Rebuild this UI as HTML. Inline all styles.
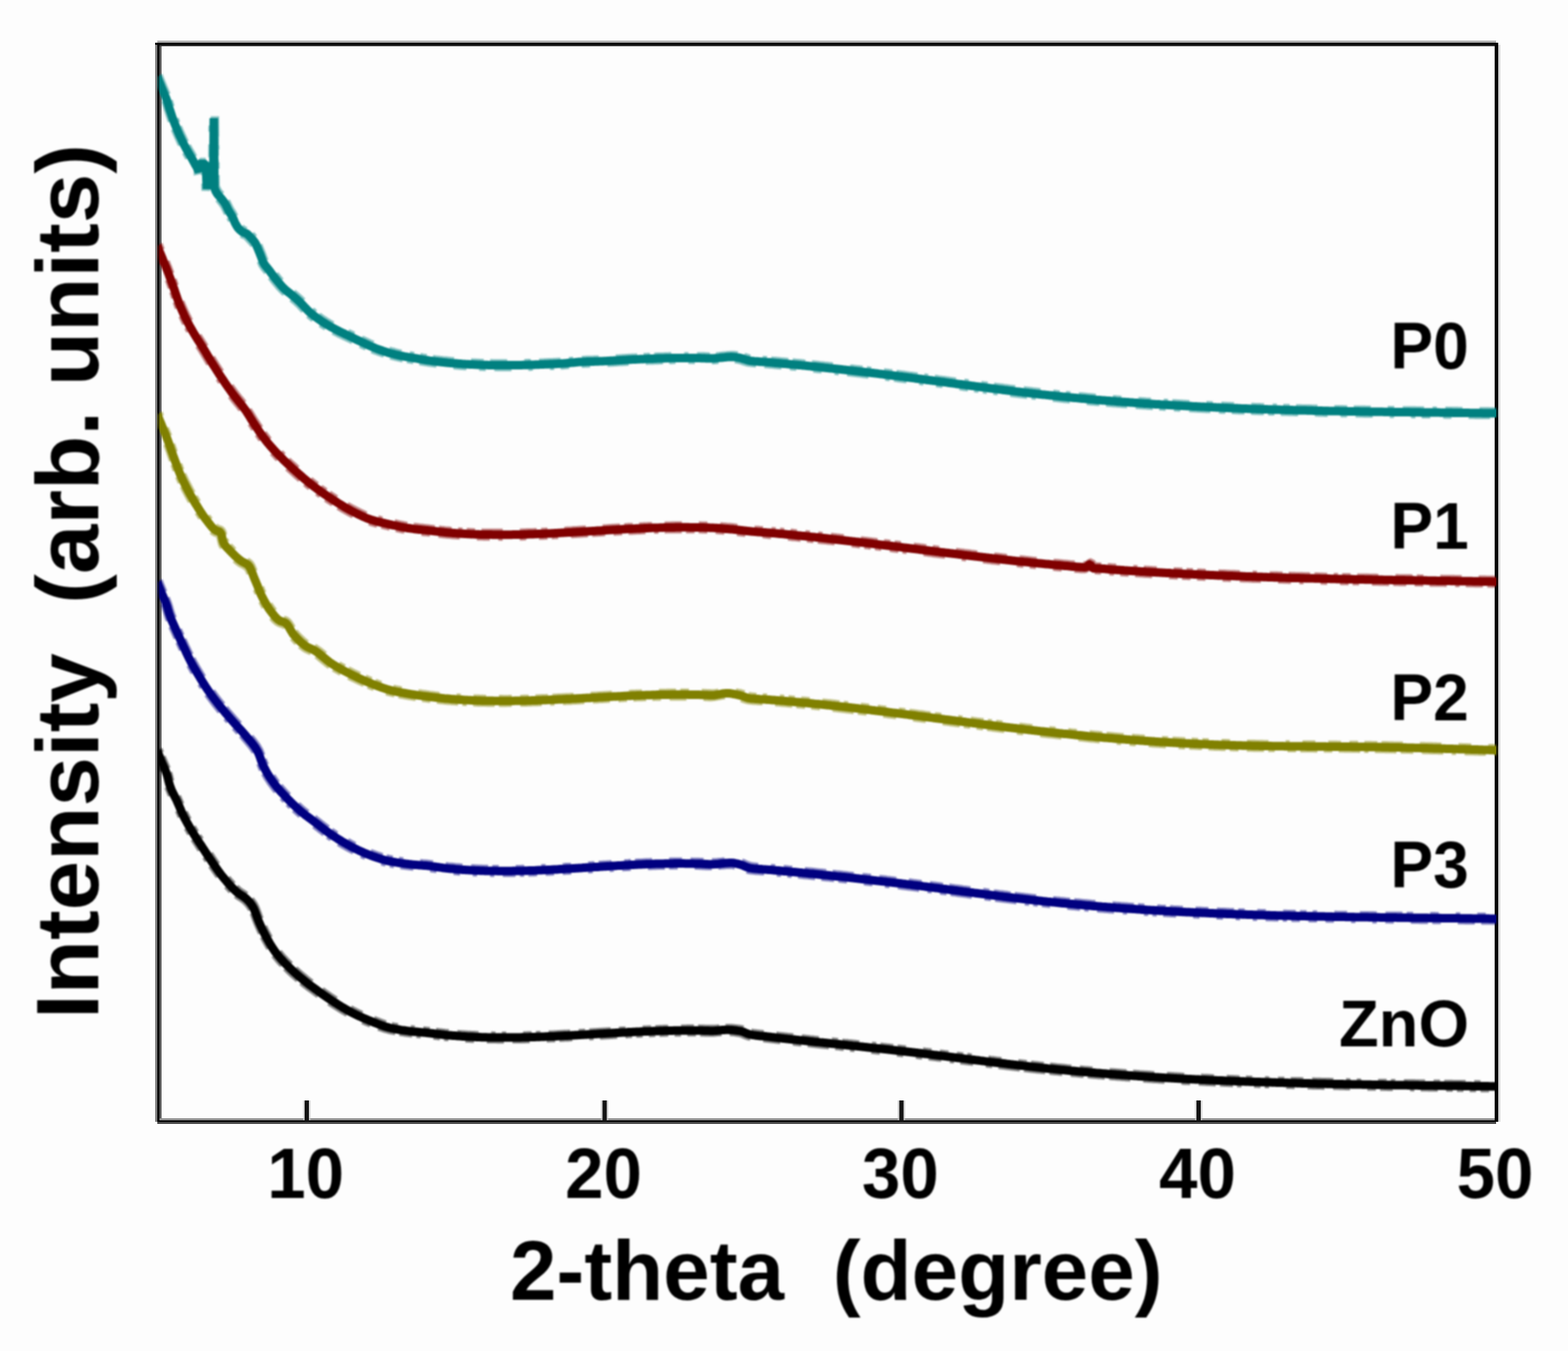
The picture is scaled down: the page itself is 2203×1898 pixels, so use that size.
<!DOCTYPE html>
<html lang="en"><head><meta charset="utf-8"><title>XRD patterns</title>
<style>
html,body{margin:0;padding:0;background:#fdfdfd;}
body{width:2203px;height:1898px;overflow:hidden;}
svg{display:block;}
</style></head><body>
<svg width="2203" height="1898" viewBox="0 0 2203 1898">
<rect x="0" y="0" width="2203" height="1898" fill="#fdfdfd"/>
<defs><filter id="soft" x="-5%" y="-5%" width="110%" height="110%"><feGaussianBlur stdDeviation="0.90"/></filter><filter id="tsoft" x="-2%" y="-2%" width="104%" height="104%"><feGaussianBlur stdDeviation="0.90"/></filter><clipPath id="plotclip"><rect x="221" y="60" width="1884" height="1514"/></clipPath></defs>
<rect x="218" y="60" width="3" height="1516" fill="#808080"/>
<rect x="221" y="60" width="3" height="1518" fill="#000"/>
<rect x="224" y="63" width="3" height="1511" fill="#5c5c5c"/>
<rect x="221" y="57" width="1881" height="3" fill="#b0b0b0"/>
<rect x="218" y="60" width="1887" height="3" fill="#000"/>
<rect x="224" y="63" width="1878" height="2" fill="#303030"/>
<rect x="2100" y="60" width="5" height="1516" fill="#0a0a0a"/>
<rect x="2105" y="63" width="3" height="1513" fill="#d8d8d8"/>
<rect x="2098" y="65" width="2" height="1506" fill="#f0f0f0"/>
<rect x="224" y="1571" width="1876" height="3" fill="#909090"/>
<rect x="221" y="1574" width="1881" height="2" fill="#000"/>
<rect x="221" y="1576" width="1881" height="3" fill="#484848"/>
<rect x="425.8" y="1546" width="10.5" height="28" fill="#c8c8c8" opacity="0.7"/>
<rect x="428.0" y="1546" width="6" height="29" fill="#141414"/>
<rect x="844.2" y="1546" width="10.5" height="28" fill="#c8c8c8" opacity="0.7"/>
<rect x="846.5" y="1546" width="6" height="29" fill="#141414"/>
<rect x="1261.2" y="1546" width="10.5" height="28" fill="#c8c8c8" opacity="0.7"/>
<rect x="1263.5" y="1546" width="6" height="29" fill="#141414"/>
<rect x="1678.8" y="1546" width="10.5" height="28" fill="#c8c8c8" opacity="0.7"/>
<rect x="1681.0" y="1546" width="6" height="29" fill="#141414"/>
<g clip-path="url(#plotclip)" fill="none" stroke-linejoin="bevel" stroke-linecap="butt" filter="url(#soft)">
<path d="M222.6 1052.5L223.4 1054.5L224.2 1056.6L225.0 1058.6L225.9 1060.7L226.7 1062.7L227.5 1064.7L228.4 1066.8L229.2 1068.8L230.1 1070.8L230.9 1072.8L231.8 1074.8L232.7 1076.8L233.6 1078.9L234.4 1081.0L235.2 1083.1L235.9 1085.2L236.6 1087.5L237.2 1089.7L237.8 1091.9L238.3 1094.1L238.8 1096.2L239.3 1098.3L239.9 1100.2L240.6 1102.2L241.3 1104.1L242.1 1106.1L243.0 1108.1L243.9 1110.0L244.8 1112.0L245.8 1113.9L246.8 1115.9L247.8 1117.8L248.8 1119.8L249.8 1121.8L250.7 1123.9L251.6 1125.9L252.4 1128.0L253.3 1130.0L254.2 1132.0L255.0 1134.0L255.9 1136.0L256.8 1138.0L257.7 1140.0L258.6 1142.0L259.5 1143.9L260.5 1145.9L261.5 1147.8L262.5 1149.7L263.6 1151.7L264.6 1153.6L265.7 1155.5L266.8 1157.4L267.9 1159.3L269.0 1161.1L270.1 1163.0L271.2 1164.9L272.4 1166.8L273.5 1168.7L274.7 1170.5L275.8 1172.4L277.0 1174.2L278.2 1176.1L279.4 1177.9L280.6 1179.7L281.8 1181.6L283.0 1183.4L284.2 1185.3L285.4 1187.1L286.6 1189.0L287.8 1190.8L289.0 1192.6L290.2 1194.5L291.4 1196.3L292.6 1198.1L293.8 1200.0L295.1 1201.8L296.3 1203.6L297.5 1205.4L298.8 1207.3L300.0 1209.1L301.2 1210.9L302.5 1212.7L303.7 1214.5L305.0 1216.3L306.2 1218.1L307.5 1219.9L308.8 1221.7L310.1 1223.4L311.4 1225.2L312.7 1226.9L314.1 1228.6L315.4 1230.3L316.8 1232.0L318.2 1233.7L319.6 1235.4L321.1 1237.0L322.5 1238.7L324.0 1240.3L325.4 1241.9L326.9 1243.5L328.4 1245.1L330.0 1246.6L331.6 1248.1L333.2 1249.6L334.8 1251.0L336.5 1252.3L338.3 1253.6L340.1 1254.8L342.0 1255.9L343.8 1257.2L345.6 1258.5L347.4 1259.9L349.0 1261.5L350.6 1263.1L352.1 1264.8L353.5 1266.5L354.9 1268.4L356.1 1270.2L357.3 1272.2L358.4 1274.3L359.3 1276.5L360.1 1278.6L360.9 1280.7L361.6 1282.8L362.4 1284.8L363.1 1286.9L363.9 1288.9L364.7 1290.9L365.5 1292.9L366.4 1294.9L367.3 1296.9L368.2 1298.9L369.1 1300.9L370.0 1302.8L370.9 1304.8L371.9 1306.8L372.9 1308.7L373.8 1310.7L374.9 1312.6L375.9 1314.5L376.9 1316.4L378.0 1318.3L379.1 1320.2L380.2 1322.1L381.3 1324.0L382.4 1325.9L383.6 1327.7L384.8 1329.5L386.0 1331.3L387.2 1333.1L388.5 1334.9L389.8 1336.6L391.1 1338.3L392.5 1340.0L393.9 1341.7L395.3 1343.4L396.7 1345.0L398.2 1346.6L399.7 1348.2L401.2 1349.8L402.7 1351.4L404.3 1352.9L405.8 1354.5L407.4 1356.0L408.9 1357.6L410.5 1359.1L412.1 1360.6L413.7 1362.1L415.4 1363.6L417.0 1365.0L418.6 1366.5L420.3 1367.9L422.0 1369.3L423.6 1370.7L425.3 1372.1L427.0 1373.5L428.7 1374.9L430.4 1376.3L432.1 1377.7L433.9 1379.0L435.6 1380.3L437.4 1381.7L439.1 1382.9L440.9 1384.2L442.7 1385.5L444.5 1386.8L446.3 1388.1L448.0 1389.4L449.8 1390.7L451.6 1392.0L453.4 1393.2L455.2 1394.5L457.0 1395.8L458.8 1397.0L460.6 1398.3L462.4 1399.5L464.2 1400.8L466.1 1402.0L467.9 1403.2L469.7 1404.4L471.6 1405.6L473.4 1406.7L475.3 1407.9L477.1 1409.1L479.0 1410.3L480.9 1411.4L482.8 1412.6L484.6 1413.7L486.5 1414.8L488.4 1415.9L490.3 1417.0L492.3 1418.0L494.2 1419.1L496.1 1420.1L498.1 1421.1L500.1 1422.1L502.0 1423.0L504.0 1424.0L506.0 1424.9L508.0 1425.8L510.0 1426.7L512.0 1427.6L514.0 1428.5L516.0 1429.3L518.1 1430.2L520.1 1431.0L522.1 1431.8L524.2 1432.6L526.2 1433.5L528.3 1434.3L530.3 1435.1L532.4 1435.9L534.4 1436.7L536.5 1437.5L538.5 1438.2L540.6 1438.9L542.7 1439.6L544.8 1440.3L546.9 1440.8L549.0 1441.4L551.2 1441.9L553.3 1442.3L555.5 1442.7L557.6 1443.2L559.8 1443.5L562.0 1443.9L564.1 1444.3L566.3 1444.6L568.5 1444.9L570.7 1445.2L572.8 1445.5L575.0 1445.8L577.2 1446.1L579.4 1446.3L581.6 1446.6L583.8 1446.8L585.9 1447.0L588.1 1447.2L590.3 1447.4L592.5 1447.6L594.7 1447.8L596.9 1448.0L599.1 1448.2L601.3 1448.4L603.5 1448.7L605.7 1448.9L607.8 1449.1L610.0 1449.4L612.2 1449.7L614.4 1449.9L616.6 1450.2L618.8 1450.4L621.0 1450.7L623.1 1450.9L625.3 1451.2L627.5 1451.4L629.7 1451.6L631.9 1451.8L634.1 1452.0L636.3 1452.2L638.5 1452.4L640.7 1452.5L642.9 1452.7L645.0 1452.9L647.2 1453.0L649.4 1453.2L651.6 1453.3L653.8 1453.4L656.0 1453.6L658.2 1453.7L660.4 1453.8L662.6 1453.9L664.8 1454.0L667.0 1454.1L669.2 1454.2L671.4 1454.3L673.6 1454.4L675.8 1454.5L678.0 1454.6L680.2 1454.6L682.4 1454.7L684.6 1454.7L686.8 1454.8L689.0 1454.8L691.2 1454.8L693.4 1454.9L695.6 1454.9L697.8 1454.9L700.0 1454.9L702.2 1455.0L704.4 1455.0L706.6 1455.0L708.8 1455.0L711.0 1455.0L713.2 1455.0L715.4 1455.0L717.6 1455.0L719.8 1455.0L722.0 1454.9L724.2 1454.9L726.4 1454.9L728.6 1454.8L730.8 1454.8L733.0 1454.8L735.2 1454.7L737.4 1454.7L739.6 1454.7L741.8 1454.6L744.0 1454.6L746.2 1454.5L748.4 1454.4L750.6 1454.4L752.8 1454.3L755.0 1454.2L757.2 1454.1L759.4 1454.1L761.6 1454.0L763.8 1453.9L766.0 1453.8L768.2 1453.7L770.4 1453.6L772.6 1453.5L774.8 1453.5L777.0 1453.4L779.2 1453.3L781.4 1453.2L783.6 1453.1L785.8 1452.9L788.0 1452.8L790.2 1452.7L792.4 1452.6L794.6 1452.5L796.7 1452.4L798.9 1452.3L801.1 1452.2L803.3 1452.1L805.5 1451.9L807.7 1451.8L809.9 1451.7L812.1 1451.6L814.3 1451.5L816.5 1451.3L818.7 1451.2L820.9 1451.1L823.1 1451.0L825.3 1450.9L827.5 1450.7L829.7 1450.6L831.9 1450.5L834.1 1450.3L836.3 1450.2L838.5 1450.1L840.7 1450.0L842.9 1449.8L845.1 1449.7L847.3 1449.6L849.5 1449.5L851.7 1449.3L853.9 1449.2L856.1 1449.1L858.3 1449.0L860.4 1448.8L862.6 1448.7L864.8 1448.6L867.0 1448.5L869.2 1448.4L871.4 1448.2L873.6 1448.1L875.8 1448.0L878.0 1447.9L880.2 1447.8L882.4 1447.7L884.6 1447.5L886.8 1447.4L889.0 1447.3L891.2 1447.2L893.4 1447.1L895.6 1447.0L897.8 1446.9L900.0 1446.8L902.2 1446.7L904.4 1446.6L906.6 1446.5L908.8 1446.4L911.0 1446.3L913.2 1446.3L915.4 1446.2L917.6 1446.1L919.8 1446.0L922.0 1445.9L924.2 1445.9L926.4 1445.8L928.6 1445.7L930.8 1445.7L933.0 1445.6L935.2 1445.5L937.4 1445.5L939.6 1445.4L941.8 1445.4L944.0 1445.3L946.2 1445.3L948.4 1445.2L950.6 1445.2L952.8 1445.2L955.0 1445.2L957.2 1445.2L959.4 1445.2L961.6 1445.2L963.8 1445.2L966.0 1445.1L968.2 1445.1L970.4 1445.1L972.6 1445.1L974.8 1445.1L977.0 1445.1L979.2 1445.1L981.4 1445.1L983.6 1445.2L985.8 1445.2L988.0 1445.2L990.2 1445.3L992.4 1445.4L994.6 1445.5L996.8 1445.5L999.0 1445.6L1001.2 1445.6L1003.4 1445.6L1005.6 1445.5L1007.8 1445.3L1010.0 1445.1L1012.1 1444.9L1014.3 1444.7L1016.5 1444.5L1018.7 1444.4L1020.9 1444.2L1023.1 1444.2L1025.3 1444.2L1027.5 1444.3L1029.7 1444.5L1031.9 1444.7L1034.1 1444.9L1036.3 1445.2L1038.5 1445.5L1040.6 1445.8L1042.8 1446.1L1045.0 1446.8L1047.0 1447.6L1049.1 1448.5L1051.1 1449.4L1053.1 1450.1L1055.2 1450.7L1057.3 1451.1L1059.5 1451.5L1061.7 1451.8L1063.8 1452.1L1066.0 1452.3L1068.2 1452.6L1070.4 1452.8L1072.6 1453.0L1074.8 1453.2L1077.0 1453.4L1079.2 1453.7L1081.3 1453.9L1083.5 1454.1L1085.7 1454.4L1087.9 1454.6L1090.1 1454.9L1092.3 1455.1L1094.5 1455.4L1096.6 1455.6L1098.8 1455.9L1101.0 1456.1L1103.2 1456.4L1105.4 1456.6L1107.6 1456.9L1109.8 1457.1L1112.0 1457.3L1114.1 1457.6L1116.3 1457.8L1118.5 1458.0L1120.7 1458.3L1122.9 1458.5L1125.1 1458.8L1127.3 1459.0L1129.5 1459.2L1131.6 1459.5L1133.8 1459.7L1136.0 1459.9L1138.2 1460.2L1140.4 1460.4L1142.6 1460.6L1144.8 1460.9L1147.0 1461.1L1149.1 1461.3L1151.3 1461.5L1153.5 1461.8L1155.7 1462.0L1157.9 1462.2L1160.1 1462.5L1162.3 1462.7L1164.5 1462.9L1166.6 1463.1L1168.8 1463.4L1171.0 1463.6L1173.2 1463.8L1175.4 1464.0L1177.6 1464.3L1179.8 1464.5L1182.0 1464.7L1184.2 1465.0L1186.3 1465.2L1188.5 1465.4L1190.7 1465.6L1192.9 1465.9L1195.1 1466.1L1197.3 1466.3L1199.5 1466.6L1201.7 1466.8L1203.8 1467.0L1206.0 1467.2L1208.2 1467.5L1210.4 1467.7L1212.6 1467.9L1214.8 1468.2L1217.0 1468.4L1219.2 1468.6L1221.3 1468.9L1223.5 1469.1L1225.7 1469.3L1227.9 1469.6L1230.1 1469.8L1232.3 1470.0L1234.5 1470.3L1236.7 1470.5L1238.8 1470.7L1241.0 1471.0L1243.2 1471.2L1245.4 1471.5L1247.6 1471.7L1249.8 1471.9L1252.0 1472.2L1254.2 1472.4L1256.3 1472.7L1258.5 1472.9L1260.7 1473.2L1262.9 1473.4L1265.1 1473.6L1267.3 1473.9L1269.5 1474.1L1271.6 1474.4L1273.8 1474.7L1276.0 1474.9L1278.2 1475.2L1280.4 1475.4L1282.6 1475.7L1284.8 1475.9L1286.9 1476.2L1289.1 1476.4L1291.3 1476.7L1293.5 1477.0L1295.7 1477.2L1297.9 1477.5L1300.0 1477.8L1302.2 1478.0L1304.4 1478.3L1306.6 1478.5L1308.8 1478.8L1311.0 1479.1L1313.1 1479.4L1315.3 1479.6L1317.5 1479.9L1319.7 1480.2L1321.9 1480.4L1324.1 1480.7L1326.3 1481.0L1328.4 1481.2L1330.6 1481.5L1332.8 1481.8L1335.0 1482.0L1337.2 1482.3L1339.4 1482.6L1341.5 1482.9L1343.7 1483.1L1345.9 1483.4L1348.1 1483.7L1350.3 1484.0L1352.4 1484.2L1354.6 1484.5L1356.8 1484.8L1359.0 1485.0L1361.2 1485.3L1363.4 1485.6L1365.5 1485.9L1367.7 1486.1L1369.9 1486.4L1372.1 1486.7L1374.3 1486.9L1376.5 1487.2L1378.6 1487.5L1380.8 1487.8L1383.0 1488.0L1385.2 1488.3L1387.4 1488.6L1389.6 1488.8L1391.7 1489.1L1393.9 1489.4L1396.1 1489.6L1398.3 1489.9L1400.5 1490.2L1402.7 1490.4L1404.9 1490.7L1407.0 1491.0L1409.2 1491.2L1411.4 1491.5L1413.6 1491.7L1415.8 1492.0L1418.0 1492.3L1420.1 1492.5L1422.3 1492.8L1424.5 1493.0L1426.7 1493.3L1428.9 1493.5L1431.1 1493.8L1433.3 1494.0L1435.4 1494.3L1437.6 1494.5L1439.8 1494.8L1442.0 1495.0L1444.2 1495.3L1446.4 1495.5L1448.6 1495.8L1450.7 1496.0L1452.9 1496.3L1455.1 1496.5L1457.3 1496.7L1459.5 1497.0L1461.7 1497.2L1463.9 1497.4L1466.1 1497.7L1468.2 1497.9L1470.4 1498.1L1472.6 1498.4L1474.8 1498.6L1477.0 1498.8L1479.2 1499.0L1481.4 1499.2L1483.6 1499.5L1485.7 1499.7L1487.9 1499.9L1490.1 1500.1L1492.3 1500.3L1494.5 1500.5L1496.7 1500.7L1498.9 1501.0L1501.1 1501.2L1503.3 1501.4L1505.5 1501.6L1507.6 1501.8L1509.8 1502.0L1512.0 1502.2L1514.2 1502.4L1516.4 1502.6L1518.6 1502.8L1520.8 1503.0L1523.0 1503.2L1525.2 1503.4L1527.4 1503.5L1529.6 1503.7L1531.8 1503.9L1533.9 1504.1L1536.1 1504.3L1538.3 1504.5L1540.5 1504.7L1542.7 1504.8L1544.9 1505.0L1547.1 1505.2L1549.3 1505.4L1551.5 1505.6L1553.7 1505.7L1555.9 1505.9L1558.1 1506.1L1560.3 1506.3L1562.4 1506.4L1564.6 1506.6L1566.8 1506.7L1569.0 1506.9L1571.2 1507.1L1573.4 1507.2L1575.6 1507.4L1577.8 1507.6L1580.0 1507.7L1582.2 1507.9L1584.4 1508.0L1586.6 1508.2L1588.8 1508.3L1591.0 1508.5L1593.2 1508.7L1595.4 1508.8L1597.6 1509.0L1599.8 1509.1L1601.9 1509.3L1604.1 1509.4L1606.3 1509.6L1608.5 1509.7L1610.7 1509.8L1612.9 1510.0L1615.1 1510.1L1617.3 1510.3L1619.5 1510.4L1621.7 1510.5L1623.9 1510.7L1626.1 1510.8L1628.3 1510.9L1630.5 1511.1L1632.7 1511.2L1634.9 1511.3L1637.1 1511.5L1639.3 1511.6L1641.5 1511.7L1643.7 1511.8L1645.9 1512.0L1648.1 1512.1L1650.3 1512.2L1652.5 1512.3L1654.6 1512.5L1656.8 1512.6L1659.0 1512.7L1661.2 1512.8L1663.4 1512.9L1665.6 1513.1L1667.8 1513.2L1670.0 1513.3L1672.2 1513.4L1674.4 1513.5L1676.6 1513.6L1678.8 1513.7L1681.0 1513.8L1683.2 1513.9L1685.4 1514.0L1687.6 1514.1L1689.8 1514.3L1692.0 1514.4L1694.2 1514.5L1696.4 1514.6L1698.6 1514.7L1700.8 1514.8L1703.0 1514.9L1705.2 1515.0L1707.4 1515.1L1709.6 1515.2L1711.8 1515.3L1714.0 1515.4L1716.2 1515.4L1718.4 1515.5L1720.6 1515.6L1722.8 1515.7L1725.0 1515.8L1727.2 1515.9L1729.4 1516.0L1731.6 1516.1L1733.8 1516.2L1736.0 1516.2L1738.2 1516.3L1740.4 1516.4L1742.6 1516.5L1744.8 1516.6L1747.0 1516.7L1749.1 1516.7L1751.3 1516.8L1753.5 1516.9L1755.7 1517.0L1757.9 1517.1L1760.1 1517.1L1762.3 1517.2L1764.5 1517.3L1766.7 1517.4L1768.9 1517.4L1771.1 1517.5L1773.3 1517.6L1775.5 1517.7L1777.7 1517.7L1779.9 1517.8L1782.1 1517.9L1784.3 1517.9L1786.5 1518.0L1788.7 1518.1L1790.9 1518.2L1793.1 1518.2L1795.3 1518.3L1797.5 1518.4L1799.7 1518.4L1801.9 1518.5L1804.1 1518.5L1806.3 1518.6L1808.5 1518.7L1810.7 1518.7L1812.9 1518.8L1815.1 1518.9L1817.3 1518.9L1819.5 1519.0L1821.7 1519.0L1823.9 1519.1L1826.1 1519.1L1828.3 1519.2L1830.5 1519.3L1832.7 1519.3L1834.9 1519.4L1837.1 1519.4L1839.3 1519.5L1841.5 1519.5L1843.7 1519.6L1845.9 1519.6L1848.1 1519.7L1850.3 1519.7L1852.5 1519.8L1854.7 1519.8L1856.9 1519.9L1859.1 1519.9L1861.3 1520.0L1863.5 1520.0L1865.7 1520.1L1867.9 1520.1L1870.1 1520.2L1872.3 1520.2L1874.5 1520.3L1876.7 1520.3L1878.9 1520.4L1881.1 1520.4L1883.3 1520.4L1885.5 1520.5L1887.7 1520.5L1889.9 1520.6L1892.1 1520.6L1894.3 1520.7L1896.5 1520.7L1898.7 1520.7L1900.9 1520.8L1903.1 1520.8L1905.3 1520.9L1907.5 1520.9L1909.7 1520.9L1911.9 1521.0L1914.1 1521.0L1916.3 1521.1L1918.5 1521.1L1920.7 1521.1L1922.9 1521.2L1925.1 1521.2L1927.3 1521.2L1929.5 1521.3L1931.7 1521.3L1933.9 1521.4L1936.1 1521.4L1938.3 1521.4L1940.5 1521.5L1942.7 1521.5L1944.9 1521.5L1947.1 1521.6L1949.3 1521.6L1951.5 1521.6L1953.7 1521.7L1955.9 1521.7L1958.1 1521.7L1960.3 1521.8L1962.5 1521.8L1964.7 1521.8L1966.9 1521.9L1969.1 1521.9L1971.3 1521.9L1973.5 1522.0L1975.7 1522.0L1977.9 1522.0L1980.1 1522.1L1982.3 1522.1L1984.5 1522.1L1986.7 1522.1L1988.9 1522.2L1991.1 1522.2L1993.3 1522.2L1995.5 1522.3L1997.7 1522.3L1999.9 1522.3L2002.1 1522.4L2004.3 1522.4L2006.5 1522.4L2008.7 1522.4L2010.9 1522.5L2013.1 1522.5L2015.3 1522.5L2017.5 1522.6L2019.7 1522.6L2021.9 1522.6L2024.1 1522.6L2026.3 1522.7L2028.5 1522.7L2030.7 1522.7L2032.9 1522.8L2035.1 1522.8L2037.3 1522.8L2039.5 1522.8L2041.7 1522.9L2043.9 1522.9L2046.1 1522.9L2048.3 1523.0L2050.5 1523.0L2052.7 1523.0L2054.9 1523.0L2057.1 1523.1L2059.3 1523.1L2061.5 1523.1L2063.7 1523.2L2065.9 1523.2L2068.1 1523.2L2070.3 1523.3L2072.5 1523.3L2074.7 1523.3L2076.9 1523.3L2079.1 1523.4L2081.3 1523.4L2083.5 1523.4L2085.7 1523.5L2087.9 1523.5L2090.1 1523.5L2092.3 1523.5L2094.5 1523.6L2096.7 1523.6L2098.9 1523.6L2101.1 1523.7L2103.3 1523.7L2105.5 1523.7L2107.7 1523.8L2109.9 1523.8L2111.6 1523.8" stroke="#000000" stroke-width="12.0" stroke-opacity="0.45" stroke-dasharray="6 6 18 6 12 24 12 12 12 12 9 6 6 24 18 24 12 6 18 9 30 12 18 24 24 9 30 18 24 24 18 18 18 9 9 18 6 12 9 9 18 12 30 18 6 9 6 24 12 6 6 12 30 12 9 6 30 12 9 24 12 6 18 18 18 6 30 9 24 12 18 18 24 12 24 18 9 6 24 18"/>
<path d="M219.4 1057.7L220.3 1059.7L221.1 1061.8L221.9 1063.8L222.8 1065.9L223.6 1067.9L224.4 1069.9L225.2 1072.0L226.1 1074.0L226.9 1076.0L227.8 1078.0L228.7 1080.0L229.6 1082.0L230.4 1084.1L231.3 1086.2L232.1 1088.3L232.8 1090.4L233.5 1092.7L234.1 1094.9L234.7 1097.1L235.2 1099.3L235.7 1101.4L236.2 1103.5L236.8 1105.4L237.4 1107.4L238.2 1109.3L239.0 1111.3L239.8 1113.3L240.7 1115.2L241.7 1117.2L242.7 1119.1L243.7 1121.1L244.7 1123.0L245.7 1125.0L246.6 1127.0L247.6 1129.1L248.5 1131.1L249.3 1133.2L250.2 1135.2L251.1 1137.2L251.9 1139.2L252.8 1141.2L253.7 1143.2L254.5 1145.2L255.5 1147.2L256.4 1149.1L257.4 1151.1L258.4 1153.0L259.4 1154.9L260.5 1156.9L261.5 1158.8L262.6 1160.7L263.7 1162.6L264.8 1164.5L265.9 1166.3L267.0 1168.2L268.1 1170.1L269.3 1172.0L270.4 1173.9L271.6 1175.7L272.7 1177.6L273.9 1179.4L275.1 1181.3L276.3 1183.1L277.5 1184.9L278.7 1186.8L279.9 1188.6L281.1 1190.5L282.3 1192.3L283.5 1194.2L284.7 1196.0L285.9 1197.8L287.1 1199.7L288.3 1201.5L289.5 1203.3L290.7 1205.2L291.9 1207.0L293.2 1208.8L294.4 1210.6L295.6 1212.5L296.9 1214.3L298.1 1216.1L299.4 1217.9L300.6 1219.7L301.9 1221.5L303.1 1223.3L304.4 1225.1L305.7 1226.9L306.9 1228.6L308.3 1230.4L309.6 1232.1L310.9 1233.8L312.3 1235.5L313.7 1237.2L315.1 1238.9L316.5 1240.6L318.0 1242.2L319.4 1243.9L320.8 1245.5L322.3 1247.1L323.8 1248.7L325.3 1250.3L326.9 1251.8L328.4 1253.3L330.0 1254.8L331.7 1256.2L333.4 1257.5L335.2 1258.8L337.0 1260.0L338.9 1261.1L340.7 1262.4L342.5 1263.7L344.3 1265.1L345.9 1266.7L347.5 1268.3L349.0 1270.0L350.4 1271.7L351.7 1273.6L353.0 1275.4L354.2 1277.4L355.2 1279.5L356.2 1281.7L357.0 1283.8L357.8 1285.9L358.5 1288.0L359.3 1290.0L360.0 1292.1L360.8 1294.1L361.6 1296.1L362.4 1298.1L363.3 1300.1L364.2 1302.1L365.1 1304.1L366.0 1306.1L366.9 1308.0L367.8 1310.0L368.8 1312.0L369.7 1313.9L370.7 1315.9L371.7 1317.8L372.8 1319.7L373.8 1321.6L374.9 1323.5L376.0 1325.4L377.1 1327.3L378.2 1329.2L379.3 1331.1L380.5 1332.9L381.6 1334.7L382.9 1336.5L384.1 1338.3L385.4 1340.1L386.7 1341.8L388.0 1343.5L389.4 1345.2L390.8 1346.9L392.2 1348.6L393.6 1350.2L395.1 1351.8L396.6 1353.4L398.1 1355.0L399.6 1356.6L401.1 1358.1L402.7 1359.7L404.3 1361.2L405.8 1362.8L407.4 1364.3L409.0 1365.8L410.6 1367.3L412.2 1368.8L413.9 1370.2L415.5 1371.7L417.2 1373.1L418.8 1374.5L420.5 1375.9L422.2 1377.3L423.9 1378.7L425.6 1380.1L427.3 1381.5L429.0 1382.9L430.7 1384.2L432.5 1385.5L434.2 1386.9L436.0 1388.1L437.8 1389.4L439.6 1390.7L441.4 1392.0L443.1 1393.3L444.9 1394.6L446.7 1395.9L448.5 1397.2L450.3 1398.4L452.1 1399.7L453.9 1401.0L455.7 1402.2L457.5 1403.5L459.3 1404.7L461.1 1406.0L462.9 1407.2L464.8 1408.4L466.6 1409.6L468.5 1410.8L470.3 1411.9L472.2 1413.1L474.0 1414.3L475.9 1415.5L477.8 1416.6L479.6 1417.8L481.5 1418.9L483.4 1420.0L485.3 1421.1L487.2 1422.2L489.1 1423.2L491.1 1424.3L493.0 1425.3L495.0 1426.3L496.9 1427.3L498.9 1428.2L500.9 1429.2L502.9 1430.1L504.9 1431.0L506.9 1431.9L508.9 1432.8L510.9 1433.7L512.9 1434.5L515.0 1435.4L517.0 1436.2L519.0 1437.0L521.1 1437.8L523.1 1438.7L525.2 1439.5L527.2 1440.3L529.2 1441.1L531.3 1441.9L533.3 1442.7L535.4 1443.4L537.5 1444.1L539.6 1444.8L541.7 1445.5L543.8 1446.0L545.9 1446.6L548.0 1447.1L550.2 1447.5L552.4 1447.9L554.5 1448.4L556.7 1448.7L558.8 1449.1L561.0 1449.5L563.2 1449.8L565.4 1450.1L567.5 1450.4L569.7 1450.7L571.9 1451.0L574.1 1451.3L576.3 1451.5L578.4 1451.8L580.6 1452.0L582.8 1452.2L585.0 1452.4L587.2 1452.6L589.4 1452.8L591.6 1453.0L593.8 1453.2L596.0 1453.4L598.2 1453.6L600.3 1453.9L602.5 1454.1L604.7 1454.3L606.9 1454.6L609.1 1454.9L611.3 1455.1L613.5 1455.4L615.6 1455.6L617.8 1455.9L620.0 1456.1L622.2 1456.4L624.4 1456.6L626.6 1456.8L628.8 1457.0L631.0 1457.2L633.2 1457.4L635.3 1457.6L637.5 1457.7L639.7 1457.9L641.9 1458.1L644.1 1458.2L646.3 1458.4L648.5 1458.5L650.7 1458.6L652.9 1458.8L655.1 1458.9L657.3 1459.0L659.5 1459.1L661.7 1459.2L663.9 1459.3L666.1 1459.4L668.3 1459.5L670.5 1459.6L672.7 1459.7L674.9 1459.8L677.1 1459.8L679.3 1459.9L681.5 1459.9L683.7 1460.0L685.9 1460.0L688.1 1460.0L690.3 1460.1L692.5 1460.1L694.7 1460.1L696.9 1460.1L699.1 1460.2L701.3 1460.2L703.5 1460.2L705.7 1460.2L707.9 1460.2L710.1 1460.2L712.3 1460.2L714.5 1460.2L716.7 1460.2L718.9 1460.1L721.1 1460.1L723.3 1460.1L725.5 1460.0L727.7 1460.0L729.9 1460.0L732.1 1459.9L734.3 1459.9L736.5 1459.9L738.7 1459.8L740.9 1459.8L743.1 1459.7L745.3 1459.6L747.5 1459.6L749.7 1459.5L751.9 1459.4L754.1 1459.3L756.3 1459.3L758.5 1459.2L760.7 1459.1L762.9 1459.0L765.1 1458.9L767.3 1458.8L769.5 1458.7L771.7 1458.7L773.9 1458.6L776.0 1458.5L778.2 1458.4L780.4 1458.3L782.6 1458.1L784.8 1458.0L787.0 1457.9L789.2 1457.8L791.4 1457.7L793.6 1457.6L795.8 1457.5L798.0 1457.4L800.2 1457.3L802.4 1457.1L804.6 1457.0L806.8 1456.9L809.0 1456.8L811.2 1456.7L813.4 1456.5L815.6 1456.4L817.8 1456.3L820.0 1456.2L822.2 1456.1L824.4 1455.9L826.6 1455.8L828.8 1455.7L831.0 1455.5L833.2 1455.4L835.4 1455.3L837.6 1455.2L839.8 1455.0L842.0 1454.9L844.2 1454.8L846.3 1454.7L848.5 1454.5L850.7 1454.4L852.9 1454.3L855.1 1454.2L857.3 1454.0L859.5 1453.9L861.7 1453.8L863.9 1453.7L866.1 1453.6L868.3 1453.4L870.5 1453.3L872.7 1453.2L874.9 1453.1L877.1 1453.0L879.3 1452.9L881.5 1452.7L883.7 1452.6L885.9 1452.5L888.1 1452.4L890.3 1452.3L892.5 1452.2L894.7 1452.1L896.9 1452.0L899.1 1451.9L901.3 1451.8L903.5 1451.7L905.7 1451.6L907.9 1451.5L910.1 1451.5L912.3 1451.4L914.5 1451.3L916.7 1451.2L918.9 1451.1L921.1 1451.1L923.3 1451.0L925.5 1450.9L927.7 1450.9L929.9 1450.8L932.1 1450.7L934.3 1450.7L936.5 1450.6L938.6 1450.6L940.8 1450.5L943.0 1450.5L945.2 1450.4L947.4 1450.4L949.6 1450.4L951.8 1450.4L954.0 1450.4L956.2 1450.4L958.4 1450.4L960.6 1450.4L962.8 1450.3L965.0 1450.3L967.2 1450.3L969.4 1450.3L971.6 1450.3L973.8 1450.3L976.0 1450.3L978.2 1450.3L980.4 1450.4L982.6 1450.4L984.8 1450.4L987.0 1450.5L989.2 1450.6L991.4 1450.7L993.6 1450.7L995.8 1450.8L998.0 1450.8L1000.2 1450.8L1002.4 1450.7L1004.6 1450.5L1006.8 1450.3L1009.0 1450.1L1011.2 1449.9L1013.4 1449.7L1015.6 1449.6L1017.8 1449.4L1020.0 1449.4L1022.2 1449.4L1024.4 1449.5L1026.6 1449.7L1028.8 1449.9L1031.0 1450.1L1033.2 1450.4L1035.3 1450.7L1037.5 1451.0L1039.7 1451.3L1041.8 1452.0L1043.9 1452.8L1045.9 1453.7L1047.9 1454.6L1050.0 1455.3L1052.0 1455.9L1054.2 1456.3L1056.4 1456.7L1058.5 1457.0L1060.7 1457.3L1062.9 1457.5L1065.1 1457.8L1067.3 1458.0L1069.5 1458.2L1071.7 1458.4L1073.8 1458.6L1076.0 1458.9L1078.2 1459.1L1080.4 1459.3L1082.6 1459.6L1084.8 1459.8L1087.0 1460.1L1089.2 1460.3L1091.3 1460.6L1093.5 1460.8L1095.7 1461.1L1097.9 1461.3L1100.1 1461.6L1102.3 1461.8L1104.5 1462.1L1106.6 1462.3L1108.8 1462.5L1111.0 1462.8L1113.2 1463.0L1115.4 1463.2L1117.6 1463.5L1119.8 1463.7L1122.0 1464.0L1124.1 1464.2L1126.3 1464.4L1128.5 1464.7L1130.7 1464.9L1132.9 1465.1L1135.1 1465.4L1137.3 1465.6L1139.5 1465.8L1141.6 1466.1L1143.8 1466.3L1146.0 1466.5L1148.2 1466.7L1150.4 1467.0L1152.6 1467.2L1154.8 1467.4L1157.0 1467.7L1159.1 1467.9L1161.3 1468.1L1163.5 1468.3L1165.7 1468.6L1167.9 1468.8L1170.1 1469.0L1172.3 1469.2L1174.5 1469.5L1176.7 1469.7L1178.8 1469.9L1181.0 1470.2L1183.2 1470.4L1185.4 1470.6L1187.6 1470.8L1189.8 1471.1L1192.0 1471.3L1194.2 1471.5L1196.3 1471.8L1198.5 1472.0L1200.7 1472.2L1202.9 1472.4L1205.1 1472.7L1207.3 1472.9L1209.5 1473.1L1211.7 1473.4L1213.9 1473.6L1216.0 1473.8L1218.2 1474.1L1220.4 1474.3L1222.6 1474.5L1224.8 1474.8L1227.0 1475.0L1229.2 1475.2L1231.4 1475.5L1233.5 1475.7L1235.7 1475.9L1237.9 1476.2L1240.1 1476.4L1242.3 1476.7L1244.5 1476.9L1246.7 1477.1L1248.8 1477.4L1251.0 1477.6L1253.2 1477.9L1255.4 1478.1L1257.6 1478.4L1259.8 1478.6L1262.0 1478.8L1264.2 1479.1L1266.3 1479.3L1268.5 1479.6L1270.7 1479.9L1272.9 1480.1L1275.1 1480.4L1277.3 1480.6L1279.4 1480.9L1281.6 1481.1L1283.8 1481.4L1286.0 1481.6L1288.2 1481.9L1290.4 1482.2L1292.6 1482.4L1294.7 1482.7L1296.9 1483.0L1299.1 1483.2L1301.3 1483.5L1303.5 1483.7L1305.7 1484.0L1307.8 1484.3L1310.0 1484.6L1312.2 1484.8L1314.4 1485.1L1316.6 1485.4L1318.8 1485.6L1320.9 1485.9L1323.1 1486.2L1325.3 1486.4L1327.5 1486.7L1329.7 1487.0L1331.9 1487.2L1334.0 1487.5L1336.2 1487.8L1338.4 1488.1L1340.6 1488.3L1342.8 1488.6L1345.0 1488.9L1347.1 1489.2L1349.3 1489.4L1351.5 1489.7L1353.7 1490.0L1355.9 1490.2L1358.1 1490.5L1360.2 1490.8L1362.4 1491.1L1364.6 1491.3L1366.8 1491.6L1369.0 1491.9L1371.2 1492.1L1373.3 1492.4L1375.5 1492.7L1377.7 1493.0L1379.9 1493.2L1382.1 1493.5L1384.3 1493.8L1386.4 1494.0L1388.6 1494.3L1390.8 1494.6L1393.0 1494.8L1395.2 1495.1L1397.4 1495.4L1399.5 1495.6L1401.7 1495.9L1403.9 1496.2L1406.1 1496.4L1408.3 1496.7L1410.5 1496.9L1412.7 1497.2L1414.8 1497.5L1417.0 1497.7L1419.2 1498.0L1421.4 1498.2L1423.6 1498.5L1425.8 1498.7L1427.9 1499.0L1430.1 1499.2L1432.3 1499.5L1434.5 1499.7L1436.7 1500.0L1438.9 1500.2L1441.1 1500.5L1443.2 1500.7L1445.4 1501.0L1447.6 1501.2L1449.8 1501.5L1452.0 1501.7L1454.2 1501.9L1456.4 1502.2L1458.6 1502.4L1460.7 1502.6L1462.9 1502.9L1465.1 1503.1L1467.3 1503.3L1469.5 1503.6L1471.7 1503.8L1473.9 1504.0L1476.1 1504.2L1478.3 1504.4L1480.4 1504.7L1482.6 1504.9L1484.8 1505.1L1487.0 1505.3L1489.2 1505.5L1491.4 1505.7L1493.6 1505.9L1495.8 1506.2L1498.0 1506.4L1500.1 1506.6L1502.3 1506.8L1504.5 1507.0L1506.7 1507.2L1508.9 1507.4L1511.1 1507.6L1513.3 1507.8L1515.5 1508.0L1517.7 1508.2L1519.9 1508.4L1522.1 1508.6L1524.2 1508.7L1526.4 1508.9L1528.6 1509.1L1530.8 1509.3L1533.0 1509.5L1535.2 1509.7L1537.4 1509.9L1539.6 1510.0L1541.8 1510.2L1544.0 1510.4L1546.2 1510.6L1548.4 1510.8L1550.6 1510.9L1552.7 1511.1L1554.9 1511.3L1557.1 1511.5L1559.3 1511.6L1561.5 1511.8L1563.7 1511.9L1565.9 1512.1L1568.1 1512.3L1570.3 1512.4L1572.5 1512.6L1574.7 1512.8L1576.9 1512.9L1579.1 1513.1L1581.3 1513.2L1583.5 1513.4L1585.7 1513.5L1587.9 1513.7L1590.0 1513.9L1592.2 1514.0L1594.4 1514.2L1596.6 1514.3L1598.8 1514.5L1601.0 1514.6L1603.2 1514.8L1605.4 1514.9L1607.6 1515.0L1609.8 1515.2L1612.0 1515.3L1614.2 1515.5L1616.4 1515.6L1618.6 1515.7L1620.8 1515.9L1623.0 1516.0L1625.2 1516.1L1627.4 1516.3L1629.6 1516.4L1631.8 1516.5L1634.0 1516.7L1636.2 1516.8L1638.3 1516.9L1640.5 1517.0L1642.7 1517.2L1644.9 1517.3L1647.1 1517.4L1649.3 1517.5L1651.5 1517.7L1653.7 1517.8L1655.9 1517.9L1658.1 1518.0L1660.3 1518.1L1662.5 1518.3L1664.7 1518.4L1666.9 1518.5L1669.1 1518.6L1671.3 1518.7L1673.5 1518.8L1675.7 1518.9L1677.9 1519.0L1680.1 1519.1L1682.3 1519.2L1684.5 1519.3L1686.7 1519.5L1688.9 1519.6L1691.1 1519.7L1693.3 1519.8L1695.5 1519.9L1697.7 1520.0L1699.9 1520.1L1702.1 1520.2L1704.3 1520.3L1706.5 1520.4L1708.7 1520.5L1710.9 1520.6L1713.1 1520.6L1715.3 1520.7L1717.5 1520.8L1719.6 1520.9L1721.8 1521.0L1724.0 1521.1L1726.2 1521.2L1728.4 1521.3L1730.6 1521.4L1732.8 1521.4L1735.0 1521.5L1737.2 1521.6L1739.4 1521.7L1741.6 1521.8L1743.8 1521.9L1746.0 1521.9L1748.2 1522.0L1750.4 1522.1L1752.6 1522.2L1754.8 1522.3L1757.0 1522.3L1759.2 1522.4L1761.4 1522.5L1763.6 1522.6L1765.8 1522.6L1768.0 1522.7L1770.2 1522.8L1772.4 1522.9L1774.6 1522.9L1776.8 1523.0L1779.0 1523.1L1781.2 1523.1L1783.4 1523.2L1785.6 1523.3L1787.8 1523.4L1790.0 1523.4L1792.2 1523.5L1794.4 1523.6L1796.6 1523.6L1798.8 1523.7L1801.0 1523.7L1803.2 1523.8L1805.4 1523.9L1807.6 1523.9L1809.8 1524.0L1812.0 1524.1L1814.2 1524.1L1816.4 1524.2L1818.6 1524.2L1820.8 1524.3L1823.0 1524.3L1825.2 1524.4L1827.4 1524.5L1829.6 1524.5L1831.8 1524.6L1834.0 1524.6L1836.2 1524.7L1838.4 1524.7L1840.6 1524.8L1842.8 1524.8L1845.0 1524.9L1847.2 1524.9L1849.4 1525.0L1851.6 1525.0L1853.8 1525.1L1856.0 1525.1L1858.2 1525.2L1860.4 1525.2L1862.6 1525.3L1864.8 1525.3L1867.0 1525.4L1869.2 1525.4L1871.4 1525.5L1873.6 1525.5L1875.8 1525.6L1878.0 1525.6L1880.2 1525.6L1882.4 1525.7L1884.6 1525.7L1886.8 1525.8L1889.0 1525.8L1891.2 1525.9L1893.4 1525.9L1895.6 1525.9L1897.8 1526.0L1900.0 1526.0L1902.2 1526.1L1904.4 1526.1L1906.6 1526.1L1908.8 1526.2L1911.0 1526.2L1913.2 1526.3L1915.4 1526.3L1917.6 1526.3L1919.8 1526.4L1922.0 1526.4L1924.2 1526.4L1926.4 1526.5L1928.6 1526.5L1930.8 1526.6L1933.0 1526.6L1935.2 1526.6L1937.4 1526.7L1939.6 1526.7L1941.8 1526.7L1944.0 1526.8L1946.2 1526.8L1948.4 1526.8L1950.6 1526.9L1952.8 1526.9L1955.0 1526.9L1957.2 1527.0L1959.4 1527.0L1961.6 1527.0L1963.8 1527.1L1966.0 1527.1L1968.2 1527.1L1970.4 1527.2L1972.6 1527.2L1974.8 1527.2L1977.0 1527.3L1979.2 1527.3L1981.4 1527.3L1983.6 1527.3L1985.8 1527.4L1988.0 1527.4L1990.2 1527.4L1992.4 1527.5L1994.6 1527.5L1996.8 1527.5L1999.0 1527.6L2001.2 1527.6L2003.4 1527.6L2005.6 1527.6L2007.8 1527.7L2010.0 1527.7L2012.2 1527.7L2014.4 1527.8L2016.6 1527.8L2018.8 1527.8L2021.0 1527.8L2023.2 1527.9L2025.4 1527.9L2027.6 1527.9L2029.8 1528.0L2032.0 1528.0L2034.2 1528.0L2036.4 1528.0L2038.6 1528.1L2040.8 1528.1L2043.0 1528.1L2045.2 1528.2L2047.4 1528.2L2049.6 1528.2L2051.8 1528.2L2054.0 1528.3L2056.2 1528.3L2058.4 1528.3L2060.6 1528.4L2062.8 1528.4L2065.0 1528.4L2067.2 1528.5L2069.4 1528.5L2071.6 1528.5L2073.8 1528.5L2076.0 1528.6L2078.2 1528.6L2080.4 1528.6L2082.6 1528.7L2084.8 1528.7L2087.0 1528.7L2089.2 1528.7L2091.4 1528.8L2093.6 1528.8L2095.8 1528.8L2098.0 1528.9L2100.2 1528.9L2102.4 1528.9L2104.6 1529.0L2106.8 1529.0L2108.4 1529.0" stroke="#000000" stroke-width="12.0" stroke-opacity="0.45" stroke-dasharray="12 9 6 24 12 24 9 18 9 9 18 12 6 9 18 18 9 9 30 6 30 6 18 12 18 6 24 6 30 18 30 24 12 12 24 6 18 6 6 18 9 6 6 24 12 18 24 12 24 24 12 6 18 24 6 9 24 12 9 6 9 9 9 6 12 9 9 9 12 6 30 12 30 18 24 18 12 9 30 9"/>
<path d="M221.0 1055.1L221.8 1057.1L222.7 1059.2L223.5 1061.2L224.3 1063.3L225.1 1065.3L226.0 1067.3L226.8 1069.4L227.6 1071.4L228.5 1073.4L229.4 1075.4L230.3 1077.4L231.1 1079.4L232.0 1081.5L232.8 1083.6L233.6 1085.7L234.4 1087.8L235.1 1090.1L235.7 1092.3L236.2 1094.5L236.7 1096.7L237.3 1098.8L237.8 1100.9L238.4 1102.8L239.0 1104.8L239.8 1106.7L240.5 1108.7L241.4 1110.7L242.3 1112.6L243.2 1114.6L244.2 1116.5L245.2 1118.5L246.2 1120.4L247.2 1122.4L248.2 1124.4L249.1 1126.5L250.0 1128.5L250.9 1130.6L251.8 1132.6L252.6 1134.6L253.5 1136.6L254.3 1138.6L255.2 1140.6L256.1 1142.6L257.0 1144.6L258.0 1146.5L258.9 1148.5L259.9 1150.4L261.0 1152.3L262.0 1154.3L263.1 1156.2L264.1 1158.1L265.2 1160.0L266.3 1161.9L267.4 1163.7L268.6 1165.6L269.7 1167.5L270.8 1169.4L272.0 1171.3L273.1 1173.1L274.3 1175.0L275.5 1176.8L276.6 1178.7L277.8 1180.5L279.0 1182.3L280.2 1184.2L281.5 1186.0L282.7 1187.9L283.9 1189.7L285.1 1191.6L286.3 1193.4L287.5 1195.2L288.7 1197.1L289.9 1198.9L291.1 1200.7L292.3 1202.6L293.5 1204.4L294.7 1206.2L296.0 1208.0L297.2 1209.9L298.4 1211.7L299.7 1213.5L300.9 1215.3L302.2 1217.1L303.4 1218.9L304.7 1220.7L305.9 1222.5L307.2 1224.3L308.5 1226.0L309.8 1227.8L311.1 1229.5L312.5 1231.2L313.9 1232.9L315.3 1234.6L316.7 1236.3L318.1 1238.0L319.5 1239.6L320.9 1241.3L322.4 1242.9L323.9 1244.5L325.4 1246.1L326.9 1247.7L328.4 1249.2L330.0 1250.7L331.6 1252.2L333.2 1253.6L335.0 1254.9L336.7 1256.2L338.6 1257.4L340.4 1258.5L342.3 1259.8L344.1 1261.1L345.8 1262.5L347.5 1264.1L349.0 1265.7L350.6 1267.4L352.0 1269.1L353.3 1271.0L354.6 1272.8L355.7 1274.8L356.8 1276.9L357.7 1279.1L358.5 1281.2L359.3 1283.3L360.1 1285.4L360.8 1287.4L361.6 1289.5L362.3 1291.5L363.1 1293.5L363.9 1295.5L364.8 1297.5L365.7 1299.5L366.6 1301.5L367.5 1303.5L368.4 1305.4L369.4 1307.4L370.3 1309.4L371.3 1311.3L372.3 1313.3L373.3 1315.2L374.3 1317.1L375.4 1319.0L376.5 1320.9L377.5 1322.8L378.6 1324.7L379.7 1326.6L380.9 1328.5L382.0 1330.3L383.2 1332.1L384.4 1333.9L385.6 1335.7L386.9 1337.5L388.2 1339.2L389.6 1340.9L390.9 1342.6L392.3 1344.3L393.7 1346.0L395.2 1347.6L396.7 1349.2L398.1 1350.8L399.6 1352.4L401.2 1354.0L402.7 1355.5L404.3 1357.1L405.8 1358.6L407.4 1360.2L409.0 1361.7L410.6 1363.2L412.2 1364.7L413.8 1366.2L415.4 1367.6L417.1 1369.1L418.7 1370.5L420.4 1371.9L422.1 1373.3L423.8 1374.7L425.5 1376.1L427.2 1377.5L428.9 1378.9L430.6 1380.3L432.3 1381.6L434.0 1382.9L435.8 1384.3L437.6 1385.5L439.4 1386.8L441.1 1388.1L442.9 1389.4L444.7 1390.7L446.5 1392.0L448.3 1393.3L450.1 1394.6L451.8 1395.8L453.6 1397.1L455.4 1398.4L457.2 1399.6L459.0 1400.9L460.9 1402.1L462.7 1403.4L464.5 1404.6L466.3 1405.8L468.2 1407.0L470.0 1408.2L471.9 1409.3L473.7 1410.5L475.6 1411.7L477.5 1412.9L479.3 1414.0L481.2 1415.2L483.1 1416.3L485.0 1417.4L486.9 1418.5L488.8 1419.6L490.7 1420.6L492.6 1421.7L494.6 1422.7L496.5 1423.7L498.5 1424.7L500.5 1425.6L502.5 1426.6L504.4 1427.5L506.4 1428.4L508.4 1429.3L510.4 1430.2L512.5 1431.1L514.5 1431.9L516.5 1432.8L518.5 1433.6L520.6 1434.4L522.6 1435.2L524.7 1436.1L526.7 1436.9L528.8 1437.7L530.8 1438.5L532.9 1439.3L534.9 1440.1L537.0 1440.8L539.0 1441.5L541.1 1442.2L543.2 1442.9L545.3 1443.4L547.5 1444.0L549.6 1444.5L551.8 1444.9L553.9 1445.3L556.1 1445.8L558.2 1446.1L560.4 1446.5L562.6 1446.9L564.7 1447.2L566.9 1447.5L569.1 1447.8L571.3 1448.1L573.5 1448.4L575.6 1448.7L577.8 1448.9L580.0 1449.2L582.2 1449.4L584.4 1449.6L586.6 1449.8L588.8 1450.0L591.0 1450.2L593.1 1450.4L595.3 1450.6L597.5 1450.8L599.7 1451.0L601.9 1451.3L604.1 1451.5L606.3 1451.7L608.5 1452.0L610.7 1452.3L612.8 1452.5L615.0 1452.8L617.2 1453.0L619.4 1453.3L621.6 1453.5L623.8 1453.8L626.0 1454.0L628.1 1454.2L630.3 1454.4L632.5 1454.6L634.7 1454.8L636.9 1455.0L639.1 1455.1L641.3 1455.3L643.5 1455.5L645.7 1455.6L647.9 1455.8L650.1 1455.9L652.3 1456.0L654.5 1456.2L656.7 1456.3L658.9 1456.4L661.1 1456.5L663.3 1456.6L665.5 1456.7L667.6 1456.8L669.8 1456.9L672.0 1457.0L674.2 1457.1L676.4 1457.2L678.6 1457.2L680.8 1457.3L683.0 1457.3L685.2 1457.4L687.4 1457.4L689.6 1457.4L691.8 1457.5L694.0 1457.5L696.2 1457.5L698.4 1457.5L700.6 1457.6L702.8 1457.6L705.0 1457.6L707.2 1457.6L709.4 1457.6L711.6 1457.6L713.8 1457.6L716.0 1457.6L718.2 1457.6L720.4 1457.5L722.6 1457.5L724.8 1457.5L727.0 1457.4L729.2 1457.4L731.4 1457.4L733.6 1457.3L735.8 1457.3L738.0 1457.3L740.2 1457.2L742.4 1457.2L744.6 1457.1L746.8 1457.0L749.0 1457.0L751.2 1456.9L753.4 1456.8L755.6 1456.7L757.8 1456.7L760.0 1456.6L762.2 1456.5L764.4 1456.4L766.6 1456.3L768.8 1456.2L771.0 1456.1L773.2 1456.1L775.4 1456.0L777.6 1455.9L779.8 1455.8L782.0 1455.7L784.2 1455.5L786.4 1455.4L788.6 1455.3L790.8 1455.2L793.0 1455.1L795.2 1455.0L797.4 1454.9L799.6 1454.8L801.8 1454.7L804.0 1454.5L806.2 1454.4L808.4 1454.3L810.6 1454.2L812.8 1454.1L815.0 1453.9L817.2 1453.8L819.4 1453.7L821.6 1453.6L823.7 1453.5L825.9 1453.3L828.1 1453.2L830.3 1453.1L832.5 1452.9L834.7 1452.8L836.9 1452.7L839.1 1452.6L841.3 1452.4L843.5 1452.3L845.7 1452.2L847.9 1452.1L850.1 1451.9L852.3 1451.8L854.5 1451.7L856.7 1451.6L858.9 1451.4L861.1 1451.3L863.3 1451.2L865.5 1451.1L867.7 1451.0L869.9 1450.8L872.1 1450.7L874.3 1450.6L876.5 1450.5L878.7 1450.4L880.9 1450.3L883.1 1450.1L885.3 1450.0L887.4 1449.9L889.6 1449.8L891.8 1449.7L894.0 1449.6L896.2 1449.5L898.4 1449.4L900.6 1449.3L902.8 1449.2L905.0 1449.1L907.2 1449.0L909.4 1448.9L911.6 1448.9L913.8 1448.8L916.0 1448.7L918.2 1448.6L920.4 1448.5L922.6 1448.5L924.8 1448.4L927.0 1448.3L929.2 1448.3L931.4 1448.2L933.6 1448.1L935.8 1448.1L938.0 1448.0L940.2 1448.0L942.4 1447.9L944.6 1447.9L946.8 1447.8L949.0 1447.8L951.2 1447.8L953.4 1447.8L955.6 1447.8L957.8 1447.8L960.0 1447.8L962.2 1447.8L964.4 1447.7L966.6 1447.7L968.8 1447.7L971.0 1447.7L973.2 1447.7L975.4 1447.7L977.6 1447.7L979.8 1447.7L982.0 1447.8L984.2 1447.8L986.4 1447.8L988.6 1447.9L990.8 1448.0L993.0 1448.1L995.2 1448.1L997.4 1448.2L999.6 1448.2L1001.8 1448.2L1004.0 1448.1L1006.2 1447.9L1008.4 1447.7L1010.6 1447.5L1012.8 1447.3L1015.0 1447.1L1017.2 1447.0L1019.4 1446.8L1021.5 1446.8L1023.7 1446.8L1025.9 1446.9L1028.1 1447.1L1030.3 1447.3L1032.5 1447.5L1034.7 1447.8L1036.9 1448.1L1039.1 1448.4L1041.2 1448.7L1043.4 1449.4L1045.5 1450.2L1047.5 1451.1L1049.5 1452.0L1051.5 1452.7L1053.6 1453.3L1055.8 1453.7L1057.9 1454.1L1060.1 1454.4L1062.3 1454.7L1064.5 1454.9L1066.6 1455.2L1068.8 1455.4L1071.0 1455.6L1073.2 1455.8L1075.4 1456.0L1077.6 1456.3L1079.8 1456.5L1082.0 1456.7L1084.2 1457.0L1086.3 1457.2L1088.5 1457.5L1090.7 1457.7L1092.9 1458.0L1095.1 1458.2L1097.3 1458.5L1099.5 1458.7L1101.6 1459.0L1103.8 1459.2L1106.0 1459.5L1108.2 1459.7L1110.4 1459.9L1112.6 1460.2L1114.8 1460.4L1117.0 1460.6L1119.1 1460.9L1121.3 1461.1L1123.5 1461.4L1125.7 1461.6L1127.9 1461.8L1130.1 1462.1L1132.3 1462.3L1134.5 1462.5L1136.6 1462.8L1138.8 1463.0L1141.0 1463.2L1143.2 1463.5L1145.4 1463.7L1147.6 1463.9L1149.8 1464.1L1152.0 1464.4L1154.1 1464.6L1156.3 1464.8L1158.5 1465.1L1160.7 1465.3L1162.9 1465.5L1165.1 1465.7L1167.3 1466.0L1169.5 1466.2L1171.6 1466.4L1173.8 1466.6L1176.0 1466.9L1178.2 1467.1L1180.4 1467.3L1182.6 1467.6L1184.8 1467.8L1187.0 1468.0L1189.2 1468.2L1191.3 1468.5L1193.5 1468.7L1195.7 1468.9L1197.9 1469.2L1200.1 1469.4L1202.3 1469.6L1204.5 1469.8L1206.7 1470.1L1208.8 1470.3L1211.0 1470.5L1213.2 1470.8L1215.4 1471.0L1217.6 1471.2L1219.8 1471.5L1222.0 1471.7L1224.2 1471.9L1226.3 1472.2L1228.5 1472.4L1230.7 1472.6L1232.9 1472.9L1235.1 1473.1L1237.3 1473.3L1239.5 1473.6L1241.7 1473.8L1243.8 1474.1L1246.0 1474.3L1248.2 1474.5L1250.4 1474.8L1252.6 1475.0L1254.8 1475.3L1257.0 1475.5L1259.2 1475.8L1261.3 1476.0L1263.5 1476.2L1265.7 1476.5L1267.9 1476.7L1270.1 1477.0L1272.3 1477.3L1274.5 1477.5L1276.6 1477.8L1278.8 1478.0L1281.0 1478.3L1283.2 1478.5L1285.4 1478.8L1287.6 1479.0L1289.7 1479.3L1291.9 1479.6L1294.1 1479.8L1296.3 1480.1L1298.5 1480.4L1300.7 1480.6L1302.9 1480.9L1305.0 1481.1L1307.2 1481.4L1309.4 1481.7L1311.6 1482.0L1313.8 1482.2L1316.0 1482.5L1318.1 1482.8L1320.3 1483.0L1322.5 1483.3L1324.7 1483.6L1326.9 1483.8L1329.1 1484.1L1331.2 1484.4L1333.4 1484.6L1335.6 1484.9L1337.8 1485.2L1340.0 1485.5L1342.2 1485.7L1344.3 1486.0L1346.5 1486.3L1348.7 1486.6L1350.9 1486.8L1353.1 1487.1L1355.3 1487.4L1357.4 1487.6L1359.6 1487.9L1361.8 1488.2L1364.0 1488.5L1366.2 1488.7L1368.4 1489.0L1370.5 1489.3L1372.7 1489.5L1374.9 1489.8L1377.1 1490.1L1379.3 1490.4L1381.5 1490.6L1383.6 1490.9L1385.8 1491.2L1388.0 1491.4L1390.2 1491.7L1392.4 1492.0L1394.6 1492.2L1396.7 1492.5L1398.9 1492.8L1401.1 1493.0L1403.3 1493.3L1405.5 1493.6L1407.7 1493.8L1409.8 1494.1L1412.0 1494.3L1414.2 1494.6L1416.4 1494.9L1418.6 1495.1L1420.8 1495.4L1423.0 1495.6L1425.1 1495.9L1427.3 1496.1L1429.5 1496.4L1431.7 1496.6L1433.9 1496.9L1436.1 1497.1L1438.3 1497.4L1440.4 1497.6L1442.6 1497.9L1444.8 1498.1L1447.0 1498.4L1449.2 1498.6L1451.4 1498.9L1453.6 1499.1L1455.7 1499.3L1457.9 1499.6L1460.1 1499.8L1462.3 1500.0L1464.5 1500.3L1466.7 1500.5L1468.9 1500.7L1471.1 1501.0L1473.2 1501.2L1475.4 1501.4L1477.6 1501.6L1479.8 1501.8L1482.0 1502.1L1484.2 1502.3L1486.4 1502.5L1488.6 1502.7L1490.8 1502.9L1492.9 1503.1L1495.1 1503.3L1497.3 1503.6L1499.5 1503.8L1501.7 1504.0L1503.9 1504.2L1506.1 1504.4L1508.3 1504.6L1510.5 1504.8L1512.7 1505.0L1514.9 1505.2L1517.0 1505.4L1519.2 1505.6L1521.4 1505.8L1523.6 1506.0L1525.8 1506.1L1528.0 1506.3L1530.2 1506.5L1532.4 1506.7L1534.6 1506.9L1536.8 1507.1L1539.0 1507.3L1541.2 1507.4L1543.3 1507.6L1545.5 1507.8L1547.7 1508.0L1549.9 1508.2L1552.1 1508.3L1554.3 1508.5L1556.5 1508.7L1558.7 1508.9L1560.9 1509.0L1563.1 1509.2L1565.3 1509.3L1567.5 1509.5L1569.7 1509.7L1571.9 1509.8L1574.1 1510.0L1576.2 1510.2L1578.4 1510.3L1580.6 1510.5L1582.8 1510.6L1585.0 1510.8L1587.2 1510.9L1589.4 1511.1L1591.6 1511.3L1593.8 1511.4L1596.0 1511.6L1598.2 1511.7L1600.4 1511.9L1602.6 1512.0L1604.8 1512.2L1607.0 1512.3L1609.2 1512.4L1611.4 1512.6L1613.6 1512.7L1615.8 1512.9L1617.9 1513.0L1620.1 1513.1L1622.3 1513.3L1624.5 1513.4L1626.7 1513.5L1628.9 1513.7L1631.1 1513.8L1633.3 1513.9L1635.5 1514.1L1637.7 1514.2L1639.9 1514.3L1642.1 1514.4L1644.3 1514.6L1646.5 1514.7L1648.7 1514.8L1650.9 1514.9L1653.1 1515.1L1655.3 1515.2L1657.5 1515.3L1659.7 1515.4L1661.9 1515.5L1664.1 1515.7L1666.3 1515.8L1668.5 1515.9L1670.7 1516.0L1672.9 1516.1L1675.1 1516.2L1677.3 1516.3L1679.5 1516.4L1681.6 1516.5L1683.8 1516.6L1686.0 1516.7L1688.2 1516.9L1690.4 1517.0L1692.6 1517.1L1694.8 1517.2L1697.0 1517.3L1699.2 1517.4L1701.4 1517.5L1703.6 1517.6L1705.8 1517.7L1708.0 1517.8L1710.2 1517.9L1712.4 1518.0L1714.6 1518.0L1716.8 1518.1L1719.0 1518.2L1721.2 1518.3L1723.4 1518.4L1725.6 1518.5L1727.8 1518.6L1730.0 1518.7L1732.2 1518.8L1734.4 1518.8L1736.6 1518.9L1738.8 1519.0L1741.0 1519.1L1743.2 1519.2L1745.4 1519.3L1747.6 1519.3L1749.8 1519.4L1752.0 1519.5L1754.2 1519.6L1756.4 1519.7L1758.6 1519.7L1760.8 1519.8L1763.0 1519.9L1765.2 1520.0L1767.4 1520.0L1769.6 1520.1L1771.8 1520.2L1774.0 1520.3L1776.2 1520.3L1778.4 1520.4L1780.6 1520.5L1782.8 1520.5L1785.0 1520.6L1787.2 1520.7L1789.4 1520.8L1791.6 1520.8L1793.8 1520.9L1796.0 1521.0L1798.2 1521.0L1800.4 1521.1L1802.6 1521.1L1804.8 1521.2L1807.0 1521.3L1809.2 1521.3L1811.4 1521.4L1813.6 1521.5L1815.8 1521.5L1818.0 1521.6L1820.2 1521.6L1822.4 1521.7L1824.6 1521.7L1826.8 1521.8L1828.9 1521.9L1831.1 1521.9L1833.3 1522.0L1835.5 1522.0L1837.7 1522.1L1839.9 1522.1L1842.1 1522.2L1844.3 1522.2L1846.5 1522.3L1848.7 1522.3L1850.9 1522.4L1853.1 1522.4L1855.3 1522.5L1857.5 1522.5L1859.7 1522.6L1861.9 1522.6L1864.1 1522.7L1866.3 1522.7L1868.5 1522.8L1870.7 1522.8L1872.9 1522.9L1875.1 1522.9L1877.3 1523.0L1879.5 1523.0L1881.7 1523.0L1883.9 1523.1L1886.1 1523.1L1888.3 1523.2L1890.5 1523.2L1892.7 1523.3L1894.9 1523.3L1897.1 1523.3L1899.3 1523.4L1901.5 1523.4L1903.7 1523.5L1905.9 1523.5L1908.1 1523.5L1910.3 1523.6L1912.5 1523.6L1914.7 1523.7L1916.9 1523.7L1919.1 1523.7L1921.3 1523.8L1923.5 1523.8L1925.7 1523.8L1927.9 1523.9L1930.1 1523.9L1932.3 1524.0L1934.5 1524.0L1936.7 1524.0L1938.9 1524.1L1941.1 1524.1L1943.3 1524.1L1945.5 1524.2L1947.7 1524.2L1949.9 1524.2L1952.1 1524.3L1954.3 1524.3L1956.5 1524.3L1958.7 1524.4L1960.9 1524.4L1963.1 1524.4L1965.3 1524.5L1967.5 1524.5L1969.7 1524.5L1971.9 1524.6L1974.1 1524.6L1976.3 1524.6L1978.5 1524.7L1980.7 1524.7L1982.9 1524.7L1985.1 1524.7L1987.3 1524.8L1989.5 1524.8L1991.7 1524.8L1993.9 1524.9L1996.1 1524.9L1998.3 1524.9L2000.5 1525.0L2002.7 1525.0L2004.9 1525.0L2007.1 1525.0L2009.3 1525.1L2011.5 1525.1L2013.7 1525.1L2015.9 1525.2L2018.1 1525.2L2020.3 1525.2L2022.5 1525.2L2024.7 1525.3L2026.9 1525.3L2029.1 1525.3L2031.3 1525.4L2033.5 1525.4L2035.7 1525.4L2037.9 1525.4L2040.1 1525.5L2042.3 1525.5L2044.5 1525.5L2046.7 1525.6L2048.9 1525.6L2051.1 1525.6L2053.3 1525.6L2055.5 1525.7L2057.7 1525.7L2059.9 1525.7L2062.1 1525.8L2064.3 1525.8L2066.5 1525.8L2068.7 1525.9L2070.9 1525.9L2073.1 1525.9L2075.3 1525.9L2077.5 1526.0L2079.7 1526.0L2081.9 1526.0L2084.1 1526.1L2086.3 1526.1L2088.5 1526.1L2090.7 1526.1L2092.9 1526.2L2095.1 1526.2L2097.3 1526.2L2099.5 1526.3L2101.7 1526.3L2103.9 1526.3L2106.1 1526.4L2108.3 1526.4L2110.0 1526.4" stroke="#000000" stroke-width="12.0"/>
<path d="M222.6 815.5L223.4 817.5L224.2 819.6L225.0 821.6L225.9 823.7L226.7 825.7L227.5 827.7L228.4 829.8L229.2 831.8L230.0 833.8L230.9 835.8L231.8 837.8L232.7 839.8L233.5 841.9L234.3 844.0L235.1 846.1L235.9 848.2L236.6 850.4L237.3 852.6L237.9 854.7L238.5 856.9L239.1 858.9L239.7 860.9L240.4 862.9L241.2 864.9L242.0 866.9L242.8 868.9L243.7 870.9L244.5 872.9L245.4 874.9L246.3 876.9L247.2 878.9L248.2 880.9L249.1 882.9L249.9 884.9L250.8 886.9L251.7 888.9L252.6 890.9L253.5 892.9L254.5 894.9L255.4 896.9L256.3 898.9L257.2 900.9L258.1 902.9L259.1 904.9L260.0 906.9L260.9 908.9L261.8 910.9L262.8 912.9L263.7 914.9L264.6 916.9L265.6 918.9L266.5 920.8L267.5 922.8L268.5 924.7L269.5 926.6L270.5 928.6L271.5 930.5L272.6 932.4L273.7 934.3L274.8 936.2L275.8 938.1L277.0 940.0L278.1 941.9L279.2 943.8L280.3 945.7L281.4 947.5L282.6 949.4L283.7 951.3L284.8 953.2L286.0 955.0L287.1 956.9L288.3 958.8L289.5 960.6L290.7 962.5L291.9 964.3L293.1 966.1L294.3 967.9L295.6 969.7L296.8 971.5L298.1 973.3L299.4 975.0L300.7 976.8L302.0 978.5L303.3 980.3L304.7 982.0L306.0 983.8L307.4 985.5L308.7 987.2L310.1 988.9L311.5 990.6L312.9 992.3L314.3 994.0L315.7 995.7L317.1 997.4L318.5 999.1L319.9 1000.7L321.4 1002.4L322.8 1004.0L324.2 1005.7L325.7 1007.4L327.1 1009.0L328.6 1010.7L330.0 1012.3L331.5 1013.9L333.0 1015.6L334.5 1017.2L336.0 1018.8L337.4 1020.4L338.9 1022.0L340.4 1023.6L341.9 1025.3L343.4 1026.9L344.8 1028.6L346.3 1030.3L347.7 1032.0L349.1 1033.7L350.5 1035.3L352.0 1037.0L353.4 1038.7L354.8 1040.4L356.2 1042.1L357.6 1043.9L358.9 1045.7L360.2 1047.5L361.4 1049.4L362.5 1051.4L363.6 1053.3L364.7 1055.5L365.5 1057.6L366.4 1059.7L367.1 1061.8L367.9 1063.9L368.6 1066.0L369.3 1068.0L370.1 1070.0L370.9 1072.0L371.8 1073.9L372.7 1075.8L373.7 1077.8L374.7 1079.7L375.8 1081.6L376.9 1083.5L378.0 1085.3L379.1 1087.2L380.3 1089.0L381.5 1090.8L382.7 1092.6L384.0 1094.4L385.2 1096.2L386.5 1097.9L387.8 1099.7L389.2 1101.4L390.6 1103.1L392.0 1104.8L393.4 1106.4L394.8 1108.1L396.3 1109.7L397.7 1111.3L399.2 1112.9L400.7 1114.5L402.2 1116.1L403.7 1117.7L405.3 1119.3L406.8 1120.9L408.3 1122.5L409.9 1124.0L411.4 1125.5L413.0 1127.1L414.6 1128.6L416.2 1130.1L417.8 1131.6L419.4 1133.1L421.0 1134.5L422.7 1136.0L424.3 1137.4L426.0 1138.8L427.7 1140.2L429.4 1141.5L431.2 1142.9L432.9 1144.2L434.7 1145.5L436.5 1146.8L438.2 1148.1L440.0 1149.4L441.8 1150.7L443.5 1152.1L445.3 1153.4L447.0 1154.8L448.7 1156.1L450.5 1157.5L452.2 1158.8L453.9 1160.2L455.7 1161.5L457.4 1162.9L459.2 1164.2L460.9 1165.5L462.7 1166.8L464.5 1168.1L466.3 1169.3L468.1 1170.6L469.9 1171.8L471.7 1173.0L473.6 1174.2L475.4 1175.4L477.3 1176.6L479.1 1177.7L481.0 1178.9L482.9 1180.0L484.8 1181.1L486.7 1182.2L488.6 1183.3L490.5 1184.4L492.4 1185.4L494.4 1186.5L496.3 1187.5L498.3 1188.5L500.2 1189.5L502.2 1190.4L504.2 1191.4L506.1 1192.4L508.1 1193.3L510.1 1194.2L512.1 1195.1L514.1 1196.0L516.2 1196.8L518.2 1197.6L520.2 1198.4L522.3 1199.2L524.4 1199.9L526.4 1200.7L528.5 1201.4L530.6 1202.1L532.7 1202.8L534.8 1203.5L536.9 1204.1L539.0 1204.8L541.1 1205.4L543.2 1205.9L545.3 1206.5L547.5 1207.0L549.6 1207.4L551.8 1207.8L553.9 1208.2L556.1 1208.6L558.3 1209.0L560.4 1209.3L562.6 1209.7L564.8 1210.0L567.0 1210.3L569.1 1210.6L571.3 1210.9L573.5 1211.1L575.7 1211.4L577.9 1211.6L580.1 1211.9L582.3 1212.1L584.4 1212.3L586.6 1212.5L588.8 1212.6L591.0 1212.8L593.2 1213.0L595.4 1213.2L597.6 1213.3L599.8 1213.5L602.0 1213.7L604.2 1214.0L606.4 1214.2L608.5 1214.5L610.7 1214.8L612.9 1215.1L615.1 1215.4L617.3 1215.7L619.4 1216.0L621.6 1216.3L623.8 1216.6L626.0 1216.9L628.2 1217.1L630.4 1217.4L632.5 1217.6L634.7 1217.8L636.9 1218.0L639.1 1218.2L641.3 1218.4L643.5 1218.6L645.7 1218.8L647.9 1219.0L650.1 1219.1L652.3 1219.3L654.5 1219.4L656.7 1219.6L658.9 1219.7L661.0 1219.8L663.2 1220.0L665.4 1220.1L667.6 1220.2L669.8 1220.3L672.0 1220.4L674.2 1220.5L676.4 1220.6L678.6 1220.7L680.8 1220.7L683.0 1220.8L685.2 1220.8L687.4 1220.9L689.6 1220.9L691.8 1220.9L694.0 1221.0L696.2 1221.0L698.4 1221.0L700.6 1221.1L702.8 1221.1L705.0 1221.1L707.2 1221.1L709.4 1221.1L711.6 1221.1L713.8 1221.1L716.0 1221.1L718.2 1221.1L720.4 1221.1L722.6 1221.0L724.8 1221.0L727.0 1220.9L729.2 1220.9L731.4 1220.9L733.6 1220.8L735.8 1220.8L738.0 1220.7L740.2 1220.7L742.4 1220.6L744.6 1220.5L746.8 1220.5L749.0 1220.4L751.2 1220.3L753.4 1220.2L755.6 1220.1L757.8 1220.0L760.0 1219.9L762.2 1219.8L764.4 1219.7L766.6 1219.7L768.8 1219.6L771.0 1219.4L773.2 1219.3L775.4 1219.2L777.6 1219.1L779.8 1219.0L782.0 1218.9L784.2 1218.8L786.4 1218.6L788.6 1218.5L790.8 1218.4L793.0 1218.3L795.2 1218.1L797.4 1218.0L799.6 1217.9L801.7 1217.8L803.9 1217.6L806.1 1217.5L808.3 1217.4L810.5 1217.2L812.7 1217.1L814.9 1216.9L817.1 1216.8L819.3 1216.7L821.5 1216.5L823.7 1216.4L825.9 1216.2L828.1 1216.1L830.3 1216.0L832.5 1215.8L834.7 1215.7L836.9 1215.5L839.1 1215.4L841.3 1215.3L843.5 1215.1L845.7 1215.0L847.9 1214.8L850.1 1214.7L852.2 1214.6L854.4 1214.4L856.6 1214.3L858.8 1214.2L861.0 1214.0L863.2 1213.9L865.4 1213.8L867.6 1213.6L869.8 1213.5L872.0 1213.4L874.2 1213.3L876.4 1213.1L878.6 1213.0L880.8 1212.9L883.0 1212.8L885.2 1212.6L887.4 1212.5L889.6 1212.4L891.8 1212.3L894.0 1212.2L896.2 1212.1L898.4 1212.0L900.6 1211.9L902.8 1211.8L905.0 1211.7L907.2 1211.6L909.4 1211.5L911.6 1211.4L913.8 1211.3L916.0 1211.3L918.2 1211.2L920.4 1211.1L922.6 1211.0L924.8 1211.0L927.0 1210.9L929.2 1210.9L931.4 1210.8L933.6 1210.8L935.8 1210.7L938.0 1210.7L940.2 1210.7L942.4 1210.6L944.6 1210.6L946.8 1210.6L949.0 1210.5L951.2 1210.5L953.4 1210.5L955.6 1210.5L957.8 1210.5L960.0 1210.5L962.2 1210.5L964.4 1210.6L966.5 1210.6L968.7 1210.6L970.9 1210.6L973.1 1210.7L975.3 1210.7L977.5 1210.8L979.7 1210.8L981.9 1210.8L984.1 1210.9L986.3 1211.0L988.5 1211.1L990.7 1211.2L992.9 1211.4L995.1 1211.5L997.3 1211.6L999.5 1211.6L1001.7 1211.6L1003.9 1211.6L1006.1 1211.5L1008.3 1211.3L1010.5 1211.1L1012.7 1210.9L1014.9 1210.6L1017.1 1210.4L1019.3 1210.2L1021.5 1210.0L1023.6 1209.8L1025.8 1209.7L1028.0 1209.6L1030.2 1209.7L1032.4 1209.9L1034.6 1210.3L1036.8 1210.7L1038.9 1211.3L1041.0 1211.8L1043.2 1212.4L1045.3 1213.2L1047.3 1214.1L1049.3 1215.0L1051.3 1215.8L1053.4 1216.5L1055.5 1217.0L1057.6 1217.3L1059.8 1217.6L1062.0 1217.8L1064.2 1218.0L1066.4 1218.2L1068.6 1218.4L1070.8 1218.5L1073.0 1218.7L1075.2 1218.8L1077.4 1219.0L1079.6 1219.1L1081.8 1219.3L1083.9 1219.5L1086.1 1219.7L1088.3 1219.9L1090.5 1220.1L1092.7 1220.3L1094.9 1220.5L1097.1 1220.7L1099.3 1220.9L1101.5 1221.1L1103.7 1221.3L1105.9 1221.5L1108.0 1221.7L1110.2 1221.9L1112.4 1222.1L1114.6 1222.3L1116.8 1222.5L1119.0 1222.7L1121.2 1222.9L1123.4 1223.1L1125.6 1223.3L1127.8 1223.5L1129.9 1223.8L1132.1 1224.0L1134.3 1224.2L1136.5 1224.4L1138.7 1224.6L1140.9 1224.8L1143.1 1225.0L1145.3 1225.2L1147.5 1225.5L1149.7 1225.7L1151.8 1225.9L1154.0 1226.1L1156.2 1226.3L1158.4 1226.6L1160.6 1226.8L1162.8 1227.0L1165.0 1227.2L1167.2 1227.4L1169.4 1227.7L1171.5 1227.9L1173.7 1228.1L1175.9 1228.4L1178.1 1228.6L1180.3 1228.8L1182.5 1229.0L1184.7 1229.3L1186.9 1229.5L1189.0 1229.7L1191.2 1230.0L1193.4 1230.2L1195.6 1230.4L1197.8 1230.7L1200.0 1230.9L1202.2 1231.1L1204.4 1231.4L1206.5 1231.6L1208.7 1231.9L1210.9 1232.1L1213.1 1232.4L1215.3 1232.6L1217.5 1232.8L1219.7 1233.1L1221.9 1233.3L1224.0 1233.6L1226.2 1233.8L1228.4 1234.1L1230.6 1234.3L1232.8 1234.6L1235.0 1234.8L1237.2 1235.1L1239.3 1235.3L1241.5 1235.6L1243.7 1235.8L1245.9 1236.1L1248.1 1236.4L1250.3 1236.6L1252.4 1236.9L1254.6 1237.1L1256.8 1237.4L1259.0 1237.7L1261.2 1237.9L1263.4 1238.2L1265.6 1238.4L1267.7 1238.7L1269.9 1239.0L1272.1 1239.2L1274.3 1239.5L1276.5 1239.8L1278.7 1240.0L1280.8 1240.3L1283.0 1240.6L1285.2 1240.9L1287.4 1241.1L1289.6 1241.4L1291.8 1241.7L1293.9 1242.0L1296.1 1242.2L1298.3 1242.5L1300.5 1242.8L1302.7 1243.1L1304.8 1243.4L1307.0 1243.6L1309.2 1243.9L1311.4 1244.2L1313.6 1244.5L1315.8 1244.8L1317.9 1245.0L1320.1 1245.3L1322.3 1245.6L1324.5 1245.9L1326.7 1246.2L1328.8 1246.4L1331.0 1246.7L1333.2 1247.0L1335.4 1247.3L1337.6 1247.6L1339.8 1247.9L1341.9 1248.2L1344.1 1248.4L1346.3 1248.7L1348.5 1249.0L1350.7 1249.3L1352.8 1249.6L1355.0 1249.9L1357.2 1250.1L1359.4 1250.4L1361.6 1250.7L1363.8 1251.0L1365.9 1251.3L1368.1 1251.5L1370.3 1251.8L1372.5 1252.1L1374.7 1252.4L1376.8 1252.7L1379.0 1252.9L1381.2 1253.2L1383.4 1253.5L1385.6 1253.8L1387.8 1254.1L1389.9 1254.3L1392.1 1254.6L1394.3 1254.9L1396.5 1255.2L1398.7 1255.4L1400.9 1255.7L1403.0 1256.0L1405.2 1256.3L1407.4 1256.5L1409.6 1256.8L1411.8 1257.1L1414.0 1257.3L1416.1 1257.6L1418.3 1257.9L1420.5 1258.1L1422.7 1258.4L1424.9 1258.7L1427.1 1258.9L1429.2 1259.2L1431.4 1259.4L1433.6 1259.7L1435.8 1259.9L1438.0 1260.2L1440.2 1260.5L1442.4 1260.7L1444.5 1261.0L1446.7 1261.2L1448.9 1261.5L1451.1 1261.7L1453.3 1261.9L1455.5 1262.2L1457.7 1262.4L1459.8 1262.7L1462.0 1262.9L1464.2 1263.1L1466.4 1263.4L1468.6 1263.6L1470.8 1263.8L1473.0 1264.1L1475.2 1264.3L1477.3 1264.5L1479.5 1264.8L1481.7 1265.0L1483.9 1265.2L1486.1 1265.4L1488.3 1265.6L1490.5 1265.9L1492.7 1266.1L1494.9 1266.3L1497.0 1266.5L1499.2 1266.7L1501.4 1266.9L1503.6 1267.1L1505.8 1267.3L1508.0 1267.5L1510.2 1267.7L1512.4 1267.9L1514.6 1268.1L1516.8 1268.3L1518.9 1268.5L1521.1 1268.7L1523.3 1268.9L1525.5 1269.1L1527.7 1269.3L1529.9 1269.5L1532.1 1269.7L1534.3 1269.9L1536.5 1270.1L1538.7 1270.3L1540.9 1270.4L1543.1 1270.6L1545.3 1270.8L1547.4 1271.0L1549.6 1271.2L1551.8 1271.3L1554.0 1271.5L1556.2 1271.7L1558.4 1271.9L1560.6 1272.0L1562.8 1272.2L1565.0 1272.3L1567.2 1272.5L1569.4 1272.7L1571.6 1272.8L1573.8 1273.0L1576.0 1273.2L1578.2 1273.3L1580.3 1273.5L1582.5 1273.6L1584.7 1273.8L1586.9 1273.9L1589.1 1274.1L1591.3 1274.2L1593.5 1274.4L1595.7 1274.5L1597.9 1274.7L1600.1 1274.8L1602.3 1275.0L1604.5 1275.1L1606.7 1275.3L1608.9 1275.4L1611.1 1275.6L1613.3 1275.7L1615.5 1275.8L1617.7 1276.0L1619.9 1276.1L1622.1 1276.2L1624.3 1276.4L1626.4 1276.5L1628.6 1276.6L1630.8 1276.8L1633.0 1276.9L1635.2 1277.0L1637.4 1277.1L1639.6 1277.3L1641.8 1277.4L1644.0 1277.5L1646.2 1277.6L1648.4 1277.8L1650.6 1277.9L1652.8 1278.0L1655.0 1278.1L1657.2 1278.2L1659.4 1278.3L1661.6 1278.5L1663.8 1278.6L1666.0 1278.7L1668.2 1278.8L1670.4 1278.9L1672.6 1279.0L1674.8 1279.1L1677.0 1279.2L1679.2 1279.3L1681.4 1279.4L1683.6 1279.5L1685.8 1279.6L1688.0 1279.7L1690.2 1279.8L1692.4 1279.9L1694.6 1280.0L1696.8 1280.1L1699.0 1280.2L1701.2 1280.3L1703.3 1280.4L1705.5 1280.5L1707.7 1280.6L1709.9 1280.7L1712.1 1280.8L1714.3 1280.9L1716.5 1280.9L1718.7 1281.0L1720.9 1281.1L1723.1 1281.2L1725.3 1281.3L1727.5 1281.4L1729.7 1281.5L1731.9 1281.5L1734.1 1281.6L1736.3 1281.7L1738.5 1281.8L1740.7 1281.9L1742.9 1281.9L1745.1 1282.0L1747.3 1282.1L1749.5 1282.2L1751.7 1282.2L1753.9 1282.3L1756.1 1282.4L1758.3 1282.4L1760.5 1282.5L1762.7 1282.6L1764.9 1282.7L1767.1 1282.7L1769.3 1282.8L1771.5 1282.9L1773.7 1282.9L1775.9 1283.0L1778.1 1283.1L1780.3 1283.1L1782.5 1283.2L1784.7 1283.2L1786.9 1283.3L1789.1 1283.4L1791.3 1283.4L1793.5 1283.5L1795.7 1283.6L1797.9 1283.6L1800.1 1283.7L1802.3 1283.7L1804.5 1283.8L1806.7 1283.8L1808.9 1283.9L1811.1 1283.9L1813.3 1284.0L1815.5 1284.1L1817.7 1284.1L1819.9 1284.2L1822.1 1284.2L1824.3 1284.3L1826.5 1284.3L1828.7 1284.4L1830.9 1284.4L1833.1 1284.5L1835.3 1284.5L1837.5 1284.6L1839.7 1284.6L1841.9 1284.6L1844.1 1284.7L1846.3 1284.7L1848.5 1284.8L1850.7 1284.8L1852.9 1284.9L1855.1 1284.9L1857.3 1285.0L1859.5 1285.0L1861.7 1285.0L1863.9 1285.1L1866.1 1285.1L1868.3 1285.2L1870.5 1285.2L1872.7 1285.2L1874.9 1285.3L1877.1 1285.3L1879.3 1285.4L1881.5 1285.4L1883.7 1285.4L1885.9 1285.5L1888.1 1285.5L1890.3 1285.5L1892.5 1285.6L1894.7 1285.6L1896.9 1285.6L1899.1 1285.7L1901.3 1285.7L1903.5 1285.7L1905.7 1285.8L1907.9 1285.8L1910.1 1285.8L1912.3 1285.9L1914.5 1285.9L1916.7 1285.9L1918.9 1286.0L1921.1 1286.0L1923.3 1286.0L1925.5 1286.1L1927.7 1286.1L1929.9 1286.1L1932.1 1286.2L1934.3 1286.2L1936.5 1286.2L1938.7 1286.2L1940.9 1286.3L1943.1 1286.3L1945.3 1286.3L1947.5 1286.4L1949.7 1286.4L1951.9 1286.4L1954.1 1286.4L1956.3 1286.5L1958.5 1286.5L1960.7 1286.5L1962.9 1286.5L1965.1 1286.6L1967.3 1286.6L1969.5 1286.6L1971.7 1286.6L1973.9 1286.7L1976.1 1286.7L1978.3 1286.7L1980.5 1286.7L1982.7 1286.8L1984.9 1286.8L1987.1 1286.8L1989.3 1286.9L1991.5 1286.9L1993.7 1286.9L1995.9 1286.9L1998.1 1287.0L2000.3 1287.0L2002.5 1287.0L2004.7 1287.0L2006.9 1287.0L2009.1 1287.1L2011.3 1287.1L2013.5 1287.1L2015.7 1287.1L2017.9 1287.2L2020.1 1287.2L2022.3 1287.2L2024.5 1287.2L2026.7 1287.3L2028.9 1287.3L2031.1 1287.3L2033.3 1287.3L2035.5 1287.4L2037.7 1287.4L2039.9 1287.4L2042.1 1287.4L2044.3 1287.5L2046.5 1287.5L2048.7 1287.5L2050.9 1287.5L2053.1 1287.6L2055.3 1287.6L2057.5 1287.6L2059.7 1287.6L2061.9 1287.7L2064.1 1287.7L2066.3 1287.7L2068.5 1287.7L2070.7 1287.8L2072.9 1287.8L2075.1 1287.8L2077.3 1287.9L2079.5 1287.9L2081.7 1287.9L2083.9 1287.9L2086.1 1288.0L2088.3 1288.0L2090.5 1288.0L2092.7 1288.0L2094.9 1288.1L2097.1 1288.1L2099.3 1288.1L2101.5 1288.1L2103.7 1288.2L2105.9 1288.2L2108.1 1288.2L2110.3 1288.3L2111.6 1288.3" stroke="#000080" stroke-width="12.0" stroke-opacity="0.45" stroke-dasharray="18 9 30 18 9 6 24 6 30 24 24 6 30 24 30 6 9 18 12 6 18 18 18 12 24 6 9 18 12 24 18 6 9 9 6 24 18 18 24 12 24 6 9 24 12 24 6 24 12 24 9 6 18 18 9 6 24 24 18 12 18 12 18 24 24 18 6 12 12 18 30 9 30 12 12 12 24 18 18 12"/>
<path d="M219.4 820.7L220.3 822.7L221.1 824.8L221.9 826.8L222.8 828.9L223.6 830.9L224.4 832.9L225.2 835.0L226.1 837.0L226.9 839.0L227.8 841.0L228.7 843.0L229.5 845.0L230.4 847.1L231.2 849.2L232.0 851.3L232.8 853.4L233.5 855.6L234.2 857.8L234.8 859.9L235.4 862.1L236.0 864.1L236.6 866.1L237.3 868.1L238.1 870.1L238.9 872.1L239.7 874.1L240.5 876.1L241.4 878.1L242.3 880.1L243.2 882.1L244.1 884.1L245.0 886.1L245.9 888.1L246.8 890.1L247.7 892.1L248.6 894.1L249.5 896.1L250.4 898.1L251.3 900.1L252.3 902.1L253.2 904.1L254.1 906.1L255.0 908.1L256.0 910.1L256.9 912.1L257.8 914.1L258.7 916.1L259.6 918.1L260.6 920.1L261.5 922.1L262.4 924.1L263.4 926.0L264.4 928.0L265.3 929.9L266.3 931.8L267.4 933.8L268.4 935.7L269.5 937.6L270.5 939.5L271.6 941.4L272.7 943.3L273.8 945.2L274.9 947.1L276.1 949.0L277.2 950.9L278.3 952.7L279.5 954.6L280.6 956.5L281.7 958.4L282.9 960.2L284.0 962.1L285.2 964.0L286.4 965.8L287.5 967.7L288.7 969.5L290.0 971.3L291.2 973.1L292.4 974.9L293.7 976.7L295.0 978.5L296.3 980.2L297.6 982.0L298.9 983.7L300.2 985.5L301.5 987.2L302.9 989.0L304.2 990.7L305.6 992.4L307.0 994.1L308.4 995.8L309.7 997.5L311.1 999.2L312.5 1000.9L314.0 1002.6L315.4 1004.3L316.8 1005.9L318.2 1007.6L319.7 1009.2L321.1 1010.9L322.6 1012.6L324.0 1014.2L325.5 1015.9L326.9 1017.5L328.4 1019.1L329.9 1020.8L331.3 1022.4L332.8 1024.0L334.3 1025.6L335.8 1027.2L337.3 1028.8L338.8 1030.5L340.3 1032.1L341.7 1033.8L343.1 1035.5L344.6 1037.2L346.0 1038.9L347.4 1040.5L348.8 1042.2L350.3 1043.9L351.7 1045.6L353.1 1047.3L354.4 1049.1L355.8 1050.9L357.0 1052.7L358.3 1054.6L359.4 1056.6L360.5 1058.5L361.5 1060.7L362.4 1062.8L363.2 1064.9L364.0 1067.0L364.7 1069.1L365.5 1071.2L366.2 1073.2L367.0 1075.2L367.8 1077.2L368.6 1079.1L369.6 1081.0L370.6 1083.0L371.6 1084.9L372.7 1086.8L373.8 1088.7L374.9 1090.5L376.0 1092.4L377.2 1094.2L378.4 1096.0L379.6 1097.8L380.8 1099.6L382.1 1101.4L383.4 1103.1L384.7 1104.9L386.1 1106.6L387.4 1108.3L388.8 1110.0L390.3 1111.6L391.7 1113.3L393.2 1114.9L394.6 1116.5L396.1 1118.1L397.6 1119.7L399.1 1121.3L400.6 1122.9L402.1 1124.5L403.7 1126.1L405.2 1127.7L406.7 1129.2L408.3 1130.7L409.9 1132.3L411.5 1133.8L413.1 1135.3L414.7 1136.8L416.3 1138.3L417.9 1139.7L419.6 1141.2L421.2 1142.6L422.9 1144.0L424.6 1145.4L426.3 1146.7L428.0 1148.1L429.8 1149.4L431.6 1150.7L433.3 1152.0L435.1 1153.3L436.9 1154.6L438.6 1155.9L440.4 1157.3L442.1 1158.6L443.9 1160.0L445.6 1161.3L447.3 1162.7L449.1 1164.0L450.8 1165.4L452.6 1166.7L454.3 1168.1L456.0 1169.4L457.8 1170.7L459.6 1172.0L461.4 1173.3L463.1 1174.5L465.0 1175.8L466.8 1177.0L468.6 1178.2L470.5 1179.4L472.3 1180.6L474.2 1181.8L476.0 1182.9L477.9 1184.1L479.8 1185.2L481.7 1186.3L483.5 1187.4L485.5 1188.5L487.4 1189.6L489.3 1190.6L491.2 1191.7L493.2 1192.7L495.1 1193.7L497.1 1194.7L499.1 1195.6L501.0 1196.6L503.0 1197.6L505.0 1198.5L507.0 1199.4L509.0 1200.3L511.0 1201.2L513.0 1202.0L515.1 1202.8L517.1 1203.6L519.2 1204.4L521.2 1205.1L523.3 1205.9L525.4 1206.6L527.5 1207.3L529.6 1208.0L531.6 1208.7L533.7 1209.3L535.9 1210.0L538.0 1210.6L540.1 1211.1L542.2 1211.7L544.4 1212.2L546.5 1212.6L548.7 1213.0L550.8 1213.4L553.0 1213.8L555.1 1214.2L557.3 1214.5L559.5 1214.9L561.7 1215.2L563.8 1215.5L566.0 1215.8L568.2 1216.1L570.4 1216.3L572.6 1216.6L574.8 1216.8L576.9 1217.1L579.1 1217.3L581.3 1217.5L583.5 1217.7L585.7 1217.8L587.9 1218.0L590.1 1218.2L592.3 1218.4L594.5 1218.5L596.7 1218.7L598.9 1218.9L601.1 1219.2L603.2 1219.4L605.4 1219.7L607.6 1220.0L609.8 1220.3L612.0 1220.6L614.1 1220.9L616.3 1221.2L618.5 1221.5L620.7 1221.8L622.9 1222.1L625.0 1222.3L627.2 1222.6L629.4 1222.8L631.6 1223.0L633.8 1223.2L636.0 1223.4L638.2 1223.6L640.4 1223.8L642.6 1224.0L644.8 1224.2L647.0 1224.3L649.1 1224.5L651.3 1224.6L653.5 1224.8L655.7 1224.9L657.9 1225.0L660.1 1225.2L662.3 1225.3L664.5 1225.4L666.7 1225.5L668.9 1225.6L671.1 1225.7L673.3 1225.8L675.5 1225.9L677.7 1225.9L679.9 1226.0L682.1 1226.0L684.3 1226.1L686.5 1226.1L688.7 1226.1L690.9 1226.2L693.1 1226.2L695.3 1226.2L697.5 1226.3L699.7 1226.3L701.9 1226.3L704.1 1226.3L706.3 1226.3L708.5 1226.3L710.7 1226.3L712.9 1226.3L715.1 1226.3L717.3 1226.3L719.5 1226.2L721.7 1226.2L723.9 1226.1L726.1 1226.1L728.3 1226.1L730.5 1226.0L732.7 1226.0L734.9 1225.9L737.1 1225.9L739.3 1225.8L741.5 1225.7L743.7 1225.7L745.9 1225.6L748.1 1225.5L750.3 1225.4L752.5 1225.3L754.7 1225.2L756.9 1225.1L759.1 1225.0L761.3 1224.9L763.5 1224.9L765.7 1224.8L767.9 1224.6L770.1 1224.5L772.3 1224.4L774.5 1224.3L776.7 1224.2L778.9 1224.1L781.1 1224.0L783.3 1223.8L785.5 1223.7L787.6 1223.6L789.8 1223.5L792.0 1223.3L794.2 1223.2L796.4 1223.1L798.6 1223.0L800.8 1222.8L803.0 1222.7L805.2 1222.6L807.4 1222.4L809.6 1222.3L811.8 1222.1L814.0 1222.0L816.2 1221.9L818.4 1221.7L820.6 1221.6L822.8 1221.4L825.0 1221.3L827.2 1221.2L829.4 1221.0L831.6 1220.9L833.8 1220.7L836.0 1220.6L838.2 1220.5L840.3 1220.3L842.5 1220.2L844.7 1220.0L846.9 1219.9L849.1 1219.8L851.3 1219.6L853.5 1219.5L855.7 1219.4L857.9 1219.2L860.1 1219.1L862.3 1219.0L864.5 1218.8L866.7 1218.7L868.9 1218.6L871.1 1218.5L873.3 1218.3L875.5 1218.2L877.7 1218.1L879.9 1218.0L882.1 1217.8L884.3 1217.7L886.5 1217.6L888.7 1217.5L890.9 1217.4L893.1 1217.3L895.3 1217.2L897.5 1217.1L899.7 1217.0L901.8 1216.9L904.0 1216.8L906.2 1216.7L908.4 1216.6L910.6 1216.5L912.8 1216.5L915.0 1216.4L917.2 1216.3L919.4 1216.2L921.6 1216.2L923.8 1216.1L926.0 1216.1L928.2 1216.0L930.4 1216.0L932.6 1215.9L934.8 1215.9L937.0 1215.9L939.2 1215.8L941.4 1215.8L943.6 1215.8L945.8 1215.7L948.0 1215.7L950.2 1215.7L952.4 1215.7L954.6 1215.7L956.8 1215.7L959.0 1215.7L961.2 1215.8L963.4 1215.8L965.6 1215.8L967.8 1215.8L970.0 1215.9L972.2 1215.9L974.4 1216.0L976.6 1216.0L978.8 1216.0L981.0 1216.1L983.2 1216.2L985.4 1216.3L987.6 1216.4L989.8 1216.6L992.0 1216.7L994.2 1216.8L996.4 1216.8L998.6 1216.8L1000.8 1216.8L1003.0 1216.7L1005.2 1216.5L1007.4 1216.3L1009.6 1216.1L1011.8 1215.8L1014.0 1215.6L1016.1 1215.4L1018.3 1215.2L1020.5 1215.0L1022.7 1214.9L1024.9 1214.8L1027.1 1214.9L1029.3 1215.1L1031.5 1215.5L1033.6 1215.9L1035.8 1216.5L1037.9 1217.0L1040.1 1217.6L1042.2 1218.4L1044.2 1219.3L1046.2 1220.2L1048.2 1221.0L1050.2 1221.7L1052.3 1222.2L1054.5 1222.5L1056.7 1222.8L1058.9 1223.0L1061.1 1223.2L1063.3 1223.4L1065.5 1223.6L1067.7 1223.7L1069.9 1223.9L1072.0 1224.0L1074.2 1224.2L1076.4 1224.3L1078.6 1224.5L1080.8 1224.7L1083.0 1224.9L1085.2 1225.1L1087.4 1225.3L1089.6 1225.5L1091.8 1225.7L1094.0 1225.9L1096.2 1226.1L1098.4 1226.3L1100.5 1226.5L1102.7 1226.7L1104.9 1226.9L1107.1 1227.1L1109.3 1227.3L1111.5 1227.5L1113.7 1227.7L1115.9 1227.9L1118.1 1228.1L1120.3 1228.3L1122.4 1228.5L1124.6 1228.7L1126.8 1229.0L1129.0 1229.2L1131.2 1229.4L1133.4 1229.6L1135.6 1229.8L1137.8 1230.0L1140.0 1230.2L1142.2 1230.4L1144.3 1230.7L1146.5 1230.9L1148.7 1231.1L1150.9 1231.3L1153.1 1231.5L1155.3 1231.8L1157.5 1232.0L1159.7 1232.2L1161.9 1232.4L1164.0 1232.6L1166.2 1232.9L1168.4 1233.1L1170.6 1233.3L1172.8 1233.6L1175.0 1233.8L1177.2 1234.0L1179.4 1234.2L1181.6 1234.5L1183.7 1234.7L1185.9 1234.9L1188.1 1235.2L1190.3 1235.4L1192.5 1235.6L1194.7 1235.9L1196.9 1236.1L1199.1 1236.3L1201.2 1236.6L1203.4 1236.8L1205.6 1237.1L1207.8 1237.3L1210.0 1237.6L1212.2 1237.8L1214.4 1238.0L1216.5 1238.3L1218.7 1238.5L1220.9 1238.8L1223.1 1239.0L1225.3 1239.3L1227.5 1239.5L1229.7 1239.8L1231.8 1240.0L1234.0 1240.3L1236.2 1240.5L1238.4 1240.8L1240.6 1241.0L1242.8 1241.3L1245.0 1241.6L1247.1 1241.8L1249.3 1242.1L1251.5 1242.3L1253.7 1242.6L1255.9 1242.9L1258.1 1243.1L1260.2 1243.4L1262.4 1243.6L1264.6 1243.9L1266.8 1244.2L1269.0 1244.4L1271.2 1244.7L1273.4 1245.0L1275.5 1245.2L1277.7 1245.5L1279.9 1245.8L1282.1 1246.1L1284.3 1246.3L1286.5 1246.6L1288.6 1246.9L1290.8 1247.2L1293.0 1247.4L1295.2 1247.7L1297.4 1248.0L1299.5 1248.3L1301.7 1248.6L1303.9 1248.8L1306.1 1249.1L1308.3 1249.4L1310.5 1249.7L1312.6 1250.0L1314.8 1250.2L1317.0 1250.5L1319.2 1250.8L1321.4 1251.1L1323.5 1251.4L1325.7 1251.6L1327.9 1251.9L1330.1 1252.2L1332.3 1252.5L1334.5 1252.8L1336.6 1253.1L1338.8 1253.4L1341.0 1253.6L1343.2 1253.9L1345.4 1254.2L1347.5 1254.5L1349.7 1254.8L1351.9 1255.1L1354.1 1255.3L1356.3 1255.6L1358.5 1255.9L1360.6 1256.2L1362.8 1256.5L1365.0 1256.7L1367.2 1257.0L1369.4 1257.3L1371.5 1257.6L1373.7 1257.9L1375.9 1258.1L1378.1 1258.4L1380.3 1258.7L1382.5 1259.0L1384.6 1259.3L1386.8 1259.5L1389.0 1259.8L1391.2 1260.1L1393.4 1260.4L1395.6 1260.6L1397.7 1260.9L1399.9 1261.2L1402.1 1261.5L1404.3 1261.7L1406.5 1262.0L1408.7 1262.3L1410.8 1262.5L1413.0 1262.8L1415.2 1263.1L1417.4 1263.3L1419.6 1263.6L1421.8 1263.9L1423.9 1264.1L1426.1 1264.4L1428.3 1264.6L1430.5 1264.9L1432.7 1265.1L1434.9 1265.4L1437.0 1265.7L1439.2 1265.9L1441.4 1266.2L1443.6 1266.4L1445.8 1266.7L1448.0 1266.9L1450.2 1267.1L1452.4 1267.4L1454.5 1267.6L1456.7 1267.9L1458.9 1268.1L1461.1 1268.3L1463.3 1268.6L1465.5 1268.8L1467.7 1269.0L1469.8 1269.3L1472.0 1269.5L1474.2 1269.7L1476.4 1270.0L1478.6 1270.2L1480.8 1270.4L1483.0 1270.6L1485.2 1270.8L1487.4 1271.1L1489.5 1271.3L1491.7 1271.5L1493.9 1271.7L1496.1 1271.9L1498.3 1272.1L1500.5 1272.3L1502.7 1272.5L1504.9 1272.7L1507.1 1272.9L1509.3 1273.1L1511.4 1273.3L1513.6 1273.5L1515.8 1273.7L1518.0 1273.9L1520.2 1274.1L1522.4 1274.3L1524.6 1274.5L1526.8 1274.7L1529.0 1274.9L1531.2 1275.1L1533.4 1275.3L1535.6 1275.5L1537.7 1275.6L1539.9 1275.8L1542.1 1276.0L1544.3 1276.2L1546.5 1276.4L1548.7 1276.5L1550.9 1276.7L1553.1 1276.9L1555.3 1277.1L1557.5 1277.2L1559.7 1277.4L1561.9 1277.5L1564.1 1277.7L1566.3 1277.9L1568.5 1278.0L1570.6 1278.2L1572.8 1278.4L1575.0 1278.5L1577.2 1278.7L1579.4 1278.8L1581.6 1279.0L1583.8 1279.1L1586.0 1279.3L1588.2 1279.4L1590.4 1279.6L1592.6 1279.7L1594.8 1279.9L1597.0 1280.0L1599.2 1280.2L1601.4 1280.3L1603.6 1280.5L1605.8 1280.6L1608.0 1280.8L1610.2 1280.9L1612.3 1281.0L1614.5 1281.2L1616.7 1281.3L1618.9 1281.4L1621.1 1281.6L1623.3 1281.7L1625.5 1281.8L1627.7 1282.0L1629.9 1282.1L1632.1 1282.2L1634.3 1282.3L1636.5 1282.5L1638.7 1282.6L1640.9 1282.7L1643.1 1282.8L1645.3 1283.0L1647.5 1283.1L1649.7 1283.2L1651.9 1283.3L1654.1 1283.4L1656.3 1283.5L1658.5 1283.7L1660.7 1283.8L1662.9 1283.9L1665.1 1284.0L1667.3 1284.1L1669.5 1284.2L1671.7 1284.3L1673.9 1284.4L1676.1 1284.5L1678.3 1284.6L1680.4 1284.7L1682.6 1284.8L1684.8 1284.9L1687.0 1285.0L1689.2 1285.1L1691.4 1285.2L1693.6 1285.3L1695.8 1285.4L1698.0 1285.5L1700.2 1285.6L1702.4 1285.7L1704.6 1285.8L1706.8 1285.9L1709.0 1286.0L1711.2 1286.1L1713.4 1286.1L1715.6 1286.2L1717.8 1286.3L1720.0 1286.4L1722.2 1286.5L1724.4 1286.6L1726.6 1286.7L1728.8 1286.7L1731.0 1286.8L1733.2 1286.9L1735.4 1287.0L1737.6 1287.1L1739.8 1287.1L1742.0 1287.2L1744.2 1287.3L1746.4 1287.4L1748.6 1287.4L1750.8 1287.5L1753.0 1287.6L1755.2 1287.6L1757.4 1287.7L1759.6 1287.8L1761.8 1287.9L1764.0 1287.9L1766.2 1288.0L1768.4 1288.1L1770.6 1288.1L1772.8 1288.2L1775.0 1288.3L1777.2 1288.3L1779.4 1288.4L1781.6 1288.4L1783.8 1288.5L1786.0 1288.6L1788.2 1288.6L1790.4 1288.7L1792.6 1288.8L1794.8 1288.8L1797.0 1288.9L1799.2 1288.9L1801.4 1289.0L1803.6 1289.0L1805.8 1289.1L1808.0 1289.1L1810.2 1289.2L1812.4 1289.3L1814.6 1289.3L1816.8 1289.4L1819.0 1289.4L1821.2 1289.5L1823.4 1289.5L1825.6 1289.6L1827.8 1289.6L1830.0 1289.7L1832.2 1289.7L1834.4 1289.8L1836.6 1289.8L1838.8 1289.8L1841.0 1289.9L1843.2 1289.9L1845.4 1290.0L1847.6 1290.0L1849.8 1290.1L1852.0 1290.1L1854.2 1290.2L1856.4 1290.2L1858.6 1290.2L1860.8 1290.3L1863.0 1290.3L1865.2 1290.4L1867.4 1290.4L1869.6 1290.4L1871.8 1290.5L1874.0 1290.5L1876.2 1290.6L1878.4 1290.6L1880.6 1290.6L1882.8 1290.7L1885.0 1290.7L1887.2 1290.7L1889.4 1290.8L1891.6 1290.8L1893.8 1290.8L1896.0 1290.9L1898.2 1290.9L1900.3 1290.9L1902.5 1291.0L1904.7 1291.0L1906.9 1291.0L1909.1 1291.1L1911.3 1291.1L1913.5 1291.1L1915.7 1291.2L1917.9 1291.2L1920.1 1291.2L1922.3 1291.3L1924.5 1291.3L1926.7 1291.3L1928.9 1291.4L1931.1 1291.4L1933.3 1291.4L1935.5 1291.4L1937.7 1291.5L1939.9 1291.5L1942.1 1291.5L1944.3 1291.6L1946.5 1291.6L1948.7 1291.6L1950.9 1291.6L1953.1 1291.7L1955.3 1291.7L1957.5 1291.7L1959.7 1291.7L1961.9 1291.8L1964.1 1291.8L1966.3 1291.8L1968.5 1291.8L1970.7 1291.9L1972.9 1291.9L1975.1 1291.9L1977.3 1291.9L1979.5 1292.0L1981.7 1292.0L1983.9 1292.0L1986.1 1292.1L1988.3 1292.1L1990.5 1292.1L1992.7 1292.1L1994.9 1292.2L1997.1 1292.2L1999.3 1292.2L2001.5 1292.2L2003.7 1292.2L2005.9 1292.3L2008.1 1292.3L2010.3 1292.3L2012.5 1292.3L2014.7 1292.4L2016.9 1292.4L2019.1 1292.4L2021.3 1292.4L2023.5 1292.5L2025.7 1292.5L2027.9 1292.5L2030.1 1292.5L2032.3 1292.6L2034.5 1292.6L2036.7 1292.6L2038.9 1292.6L2041.1 1292.7L2043.3 1292.7L2045.5 1292.7L2047.7 1292.7L2049.9 1292.8L2052.1 1292.8L2054.3 1292.8L2056.5 1292.8L2058.7 1292.9L2060.9 1292.9L2063.1 1292.9L2065.3 1292.9L2067.5 1293.0L2069.7 1293.0L2071.9 1293.0L2074.1 1293.1L2076.3 1293.1L2078.5 1293.1L2080.7 1293.1L2082.9 1293.2L2085.1 1293.2L2087.3 1293.2L2089.5 1293.2L2091.7 1293.3L2093.9 1293.3L2096.1 1293.3L2098.3 1293.3L2100.5 1293.4L2102.7 1293.4L2104.9 1293.4L2107.1 1293.5L2108.4 1293.5" stroke="#000080" stroke-width="12.0" stroke-opacity="0.45" stroke-dasharray="6 9 6 9 24 9 18 6 12 24 12 18 6 12 30 12 6 12 9 6 30 18 9 6 30 12 6 6 6 6 12 24 18 6 6 12 24 12 6 24 6 6 6 9 18 24 9 24 9 18 6 18 6 12 18 6 6 6 12 12 12 12 12 24 6 24 6 12 12 24 24 6 12 24 24 9 24 18 24 18"/>
<path d="M221.0 818.1L221.8 820.1L222.7 822.2L223.5 824.2L224.3 826.3L225.1 828.3L226.0 830.3L226.8 832.4L227.6 834.4L228.5 836.4L229.4 838.4L230.2 840.4L231.1 842.4L232.0 844.5L232.8 846.6L233.6 848.7L234.4 850.8L235.1 853.0L235.7 855.2L236.3 857.3L236.9 859.5L237.5 861.5L238.2 863.5L238.9 865.5L239.6 867.5L240.4 869.5L241.2 871.5L242.1 873.5L243.0 875.5L243.9 877.5L244.8 879.5L245.7 881.5L246.6 883.5L247.5 885.5L248.4 887.5L249.3 889.5L250.2 891.5L251.1 893.5L252.0 895.5L252.9 897.5L253.8 899.5L254.7 901.5L255.7 903.5L256.6 905.5L257.5 907.5L258.4 909.5L259.4 911.5L260.3 913.5L261.2 915.5L262.1 917.5L263.1 919.5L264.0 921.5L264.9 923.4L265.9 925.4L266.9 927.3L267.9 929.2L268.9 931.2L270.0 933.1L271.0 935.0L272.1 936.9L273.2 938.8L274.3 940.7L275.4 942.6L276.5 944.5L277.6 946.4L278.8 948.3L279.9 950.1L281.0 952.0L282.1 953.9L283.3 955.8L284.4 957.6L285.6 959.5L286.7 961.4L287.9 963.2L289.1 965.1L290.3 966.9L291.5 968.7L292.7 970.5L294.0 972.3L295.3 974.1L296.5 975.9L297.8 977.6L299.1 979.4L300.4 981.1L301.8 982.9L303.1 984.6L304.5 986.4L305.8 988.1L307.2 989.8L308.5 991.5L309.9 993.2L311.3 994.9L312.7 996.6L314.1 998.3L315.5 1000.0L316.9 1001.7L318.4 1003.3L319.8 1005.0L321.2 1006.6L322.7 1008.3L324.1 1010.0L325.6 1011.6L327.0 1013.3L328.5 1014.9L329.9 1016.5L331.4 1018.2L332.9 1019.8L334.4 1021.4L335.9 1023.0L337.4 1024.6L338.9 1026.2L340.4 1027.9L341.8 1029.5L343.3 1031.2L344.7 1032.9L346.1 1034.6L347.5 1036.3L349.0 1037.9L350.4 1039.6L351.8 1041.3L353.3 1043.0L354.6 1044.7L356.0 1046.5L357.3 1048.3L358.6 1050.1L359.8 1052.0L361.0 1054.0L362.1 1055.9L363.1 1058.1L364.0 1060.2L364.8 1062.3L365.6 1064.4L366.3 1066.5L367.0 1068.6L367.8 1070.6L368.6 1072.6L369.3 1074.6L370.2 1076.5L371.2 1078.4L372.2 1080.4L373.2 1082.3L374.2 1084.2L375.3 1086.1L376.4 1087.9L377.6 1089.8L378.7 1091.6L379.9 1093.4L381.2 1095.2L382.4 1097.0L383.7 1098.8L385.0 1100.5L386.3 1102.3L387.6 1104.0L389.0 1105.7L390.4 1107.4L391.8 1109.0L393.3 1110.7L394.7 1112.3L396.2 1113.9L397.7 1115.5L399.2 1117.1L400.7 1118.7L402.2 1120.3L403.7 1121.9L405.2 1123.5L406.8 1125.1L408.3 1126.6L409.9 1128.1L411.4 1129.7L413.0 1131.2L414.6 1132.7L416.2 1134.2L417.8 1135.7L419.5 1137.1L421.1 1138.6L422.8 1140.0L424.5 1141.4L426.2 1142.8L427.9 1144.1L429.6 1145.5L431.4 1146.8L433.1 1148.1L434.9 1149.4L436.7 1150.7L438.4 1152.0L440.2 1153.3L441.9 1154.7L443.7 1156.0L445.4 1157.4L447.2 1158.7L448.9 1160.1L450.6 1161.4L452.4 1162.8L454.1 1164.1L455.9 1165.5L457.6 1166.8L459.4 1168.1L461.1 1169.4L462.9 1170.7L464.7 1171.9L466.5 1173.2L468.3 1174.4L470.2 1175.6L472.0 1176.8L473.9 1178.0L475.7 1179.2L477.6 1180.3L479.4 1181.5L481.3 1182.6L483.2 1183.7L485.1 1184.8L487.0 1185.9L488.9 1187.0L490.9 1188.0L492.8 1189.1L494.7 1190.1L496.7 1191.1L498.7 1192.1L500.6 1193.0L502.6 1194.0L504.6 1195.0L506.6 1195.9L508.6 1196.8L510.6 1197.7L512.6 1198.6L514.6 1199.4L516.6 1200.2L518.7 1201.0L520.7 1201.8L522.8 1202.5L524.9 1203.3L527.0 1204.0L529.0 1204.7L531.1 1205.4L533.2 1206.1L535.3 1206.7L537.4 1207.4L539.5 1208.0L541.6 1208.5L543.8 1209.1L545.9 1209.6L548.1 1210.0L550.2 1210.4L552.4 1210.8L554.5 1211.2L556.7 1211.6L558.9 1211.9L561.1 1212.3L563.2 1212.6L565.4 1212.9L567.6 1213.2L569.8 1213.5L571.9 1213.7L574.1 1214.0L576.3 1214.2L578.5 1214.5L580.7 1214.7L582.9 1214.9L585.1 1215.1L587.3 1215.2L589.5 1215.4L591.7 1215.6L593.9 1215.8L596.0 1215.9L598.2 1216.1L600.4 1216.3L602.6 1216.6L604.8 1216.8L607.0 1217.1L609.2 1217.4L611.4 1217.7L613.5 1218.0L615.7 1218.3L617.9 1218.6L620.1 1218.9L622.2 1219.2L624.4 1219.5L626.6 1219.7L628.8 1220.0L631.0 1220.2L633.2 1220.4L635.4 1220.6L637.6 1220.8L639.7 1221.0L641.9 1221.2L644.1 1221.4L646.3 1221.6L648.5 1221.7L650.7 1221.9L652.9 1222.0L655.1 1222.2L657.3 1222.3L659.5 1222.4L661.7 1222.6L663.9 1222.7L666.1 1222.8L668.3 1222.9L670.5 1223.0L672.7 1223.1L674.9 1223.2L677.1 1223.3L679.3 1223.3L681.5 1223.4L683.7 1223.4L685.9 1223.5L688.1 1223.5L690.3 1223.5L692.5 1223.6L694.7 1223.6L696.9 1223.6L699.1 1223.7L701.3 1223.7L703.5 1223.7L705.7 1223.7L707.9 1223.7L710.1 1223.7L712.3 1223.7L714.5 1223.7L716.7 1223.7L718.9 1223.7L721.1 1223.6L723.3 1223.6L725.5 1223.5L727.7 1223.5L729.9 1223.5L732.1 1223.4L734.3 1223.4L736.5 1223.3L738.7 1223.3L740.9 1223.2L743.1 1223.1L745.3 1223.1L747.5 1223.0L749.7 1222.9L751.9 1222.8L754.0 1222.7L756.2 1222.6L758.4 1222.5L760.6 1222.4L762.8 1222.3L765.0 1222.3L767.2 1222.2L769.4 1222.0L771.6 1221.9L773.8 1221.8L776.0 1221.7L778.2 1221.6L780.4 1221.5L782.6 1221.4L784.8 1221.2L787.0 1221.1L789.2 1221.0L791.4 1220.9L793.6 1220.7L795.8 1220.6L798.0 1220.5L800.2 1220.4L802.4 1220.2L804.6 1220.1L806.8 1220.0L809.0 1219.8L811.2 1219.7L813.4 1219.5L815.6 1219.4L817.8 1219.3L820.0 1219.1L822.1 1219.0L824.3 1218.8L826.5 1218.7L828.7 1218.6L830.9 1218.4L833.1 1218.3L835.3 1218.1L837.5 1218.0L839.7 1217.9L841.9 1217.7L844.1 1217.6L846.3 1217.4L848.5 1217.3L850.7 1217.2L852.9 1217.0L855.1 1216.9L857.3 1216.8L859.5 1216.6L861.7 1216.5L863.9 1216.4L866.1 1216.2L868.3 1216.1L870.5 1216.0L872.6 1215.9L874.8 1215.7L877.0 1215.6L879.2 1215.5L881.4 1215.4L883.6 1215.2L885.8 1215.1L888.0 1215.0L890.2 1214.9L892.4 1214.8L894.6 1214.7L896.8 1214.6L899.0 1214.5L901.2 1214.4L903.4 1214.3L905.6 1214.2L907.8 1214.1L910.0 1214.0L912.2 1213.9L914.4 1213.9L916.6 1213.8L918.8 1213.7L921.0 1213.6L923.2 1213.6L925.4 1213.5L927.6 1213.5L929.8 1213.4L932.0 1213.4L934.2 1213.3L936.4 1213.3L938.6 1213.3L940.8 1213.2L943.0 1213.2L945.2 1213.2L947.4 1213.1L949.6 1213.1L951.8 1213.1L954.0 1213.1L956.2 1213.1L958.4 1213.1L960.6 1213.1L962.8 1213.2L965.0 1213.2L967.2 1213.2L969.4 1213.2L971.6 1213.3L973.8 1213.3L976.0 1213.4L978.2 1213.4L980.4 1213.4L982.6 1213.5L984.8 1213.6L987.0 1213.7L989.2 1213.8L991.4 1214.0L993.6 1214.1L995.8 1214.2L998.0 1214.2L1000.2 1214.2L1002.4 1214.2L1004.6 1214.1L1006.8 1213.9L1009.0 1213.7L1011.1 1213.5L1013.3 1213.2L1015.5 1213.0L1017.7 1212.8L1019.9 1212.6L1022.1 1212.4L1024.3 1212.3L1026.5 1212.2L1028.7 1212.3L1030.9 1212.5L1033.0 1212.9L1035.2 1213.3L1037.4 1213.9L1039.5 1214.4L1041.6 1215.0L1043.7 1215.8L1045.7 1216.7L1047.7 1217.6L1049.8 1218.4L1051.8 1219.1L1053.9 1219.6L1056.1 1219.9L1058.3 1220.2L1060.4 1220.4L1062.6 1220.6L1064.8 1220.8L1067.0 1221.0L1069.2 1221.1L1071.4 1221.3L1073.6 1221.4L1075.8 1221.6L1078.0 1221.7L1080.2 1221.9L1082.4 1222.1L1084.6 1222.3L1086.8 1222.5L1089.0 1222.7L1091.1 1222.9L1093.3 1223.1L1095.5 1223.3L1097.7 1223.5L1099.9 1223.7L1102.1 1223.9L1104.3 1224.1L1106.5 1224.3L1108.7 1224.5L1110.9 1224.7L1113.1 1224.9L1115.2 1225.1L1117.4 1225.3L1119.6 1225.5L1121.8 1225.7L1124.0 1225.9L1126.2 1226.1L1128.4 1226.4L1130.6 1226.6L1132.8 1226.8L1135.0 1227.0L1137.1 1227.2L1139.3 1227.4L1141.5 1227.6L1143.7 1227.8L1145.9 1228.1L1148.1 1228.3L1150.3 1228.5L1152.5 1228.7L1154.7 1228.9L1156.8 1229.2L1159.0 1229.4L1161.2 1229.6L1163.4 1229.8L1165.6 1230.0L1167.8 1230.3L1170.0 1230.5L1172.2 1230.7L1174.4 1231.0L1176.5 1231.2L1178.7 1231.4L1180.9 1231.6L1183.1 1231.9L1185.3 1232.1L1187.5 1232.3L1189.7 1232.6L1191.9 1232.8L1194.0 1233.0L1196.2 1233.3L1198.4 1233.5L1200.6 1233.7L1202.8 1234.0L1205.0 1234.2L1207.2 1234.5L1209.4 1234.7L1211.5 1235.0L1213.7 1235.2L1215.9 1235.4L1218.1 1235.7L1220.3 1235.9L1222.5 1236.2L1224.7 1236.4L1226.8 1236.7L1229.0 1236.9L1231.2 1237.2L1233.4 1237.4L1235.6 1237.7L1237.8 1237.9L1240.0 1238.2L1242.1 1238.4L1244.3 1238.7L1246.5 1239.0L1248.7 1239.2L1250.9 1239.5L1253.1 1239.7L1255.3 1240.0L1257.4 1240.3L1259.6 1240.5L1261.8 1240.8L1264.0 1241.0L1266.2 1241.3L1268.4 1241.6L1270.5 1241.8L1272.7 1242.1L1274.9 1242.4L1277.1 1242.6L1279.3 1242.9L1281.5 1243.2L1283.6 1243.5L1285.8 1243.7L1288.0 1244.0L1290.2 1244.3L1292.4 1244.6L1294.6 1244.8L1296.7 1245.1L1298.9 1245.4L1301.1 1245.7L1303.3 1246.0L1305.5 1246.2L1307.7 1246.5L1309.8 1246.8L1312.0 1247.1L1314.2 1247.4L1316.4 1247.6L1318.6 1247.9L1320.7 1248.2L1322.9 1248.5L1325.1 1248.8L1327.3 1249.0L1329.5 1249.3L1331.7 1249.6L1333.8 1249.9L1336.0 1250.2L1338.2 1250.5L1340.4 1250.8L1342.6 1251.0L1344.7 1251.3L1346.9 1251.6L1349.1 1251.9L1351.3 1252.2L1353.5 1252.5L1355.7 1252.7L1357.8 1253.0L1360.0 1253.3L1362.2 1253.6L1364.4 1253.9L1366.6 1254.1L1368.7 1254.4L1370.9 1254.7L1373.1 1255.0L1375.3 1255.3L1377.5 1255.5L1379.7 1255.8L1381.8 1256.1L1384.0 1256.4L1386.2 1256.7L1388.4 1256.9L1390.6 1257.2L1392.7 1257.5L1394.9 1257.8L1397.1 1258.0L1399.3 1258.3L1401.5 1258.6L1403.7 1258.9L1405.8 1259.1L1408.0 1259.4L1410.2 1259.7L1412.4 1259.9L1414.6 1260.2L1416.8 1260.5L1418.9 1260.7L1421.1 1261.0L1423.3 1261.3L1425.5 1261.5L1427.7 1261.8L1429.9 1262.0L1432.1 1262.3L1434.2 1262.5L1436.4 1262.8L1438.6 1263.1L1440.8 1263.3L1443.0 1263.6L1445.2 1263.8L1447.4 1264.1L1449.5 1264.3L1451.7 1264.5L1453.9 1264.8L1456.1 1265.0L1458.3 1265.3L1460.5 1265.5L1462.7 1265.7L1464.8 1266.0L1467.0 1266.2L1469.2 1266.4L1471.4 1266.7L1473.6 1266.9L1475.8 1267.1L1478.0 1267.4L1480.2 1267.6L1482.4 1267.8L1484.5 1268.0L1486.7 1268.2L1488.9 1268.5L1491.1 1268.7L1493.3 1268.9L1495.5 1269.1L1497.7 1269.3L1499.9 1269.5L1502.1 1269.7L1504.2 1269.9L1506.4 1270.1L1508.6 1270.3L1510.8 1270.5L1513.0 1270.7L1515.2 1270.9L1517.4 1271.1L1519.6 1271.3L1521.8 1271.5L1524.0 1271.7L1526.2 1271.9L1528.3 1272.1L1530.5 1272.3L1532.7 1272.5L1534.9 1272.7L1537.1 1272.9L1539.3 1273.0L1541.5 1273.2L1543.7 1273.4L1545.9 1273.6L1548.1 1273.8L1550.3 1273.9L1552.5 1274.1L1554.7 1274.3L1556.8 1274.5L1559.0 1274.6L1561.2 1274.8L1563.4 1274.9L1565.6 1275.1L1567.8 1275.3L1570.0 1275.4L1572.2 1275.6L1574.4 1275.8L1576.6 1275.9L1578.8 1276.1L1581.0 1276.2L1583.2 1276.4L1585.4 1276.5L1587.6 1276.7L1589.8 1276.8L1592.0 1277.0L1594.2 1277.1L1596.3 1277.3L1598.5 1277.4L1600.7 1277.6L1602.9 1277.7L1605.1 1277.9L1607.3 1278.0L1609.5 1278.2L1611.7 1278.3L1613.9 1278.4L1616.1 1278.6L1618.3 1278.7L1620.5 1278.8L1622.7 1279.0L1624.9 1279.1L1627.1 1279.2L1629.3 1279.4L1631.5 1279.5L1633.7 1279.6L1635.9 1279.7L1638.1 1279.9L1640.3 1280.0L1642.5 1280.1L1644.7 1280.2L1646.9 1280.4L1649.0 1280.5L1651.2 1280.6L1653.4 1280.7L1655.6 1280.8L1657.8 1280.9L1660.0 1281.1L1662.2 1281.2L1664.4 1281.3L1666.6 1281.4L1668.8 1281.5L1671.0 1281.6L1673.2 1281.7L1675.4 1281.8L1677.6 1281.9L1679.8 1282.0L1682.0 1282.1L1684.2 1282.2L1686.4 1282.3L1688.6 1282.4L1690.8 1282.5L1693.0 1282.6L1695.2 1282.7L1697.4 1282.8L1699.6 1282.9L1701.8 1283.0L1704.0 1283.1L1706.2 1283.2L1708.4 1283.3L1710.6 1283.4L1712.8 1283.5L1715.0 1283.5L1717.2 1283.6L1719.4 1283.7L1721.6 1283.8L1723.8 1283.9L1726.0 1284.0L1728.2 1284.1L1730.4 1284.1L1732.6 1284.2L1734.8 1284.3L1737.0 1284.4L1739.2 1284.5L1741.4 1284.5L1743.6 1284.6L1745.8 1284.7L1748.0 1284.8L1750.2 1284.8L1752.4 1284.9L1754.6 1285.0L1756.7 1285.0L1758.9 1285.1L1761.1 1285.2L1763.3 1285.3L1765.5 1285.3L1767.7 1285.4L1769.9 1285.5L1772.1 1285.5L1774.3 1285.6L1776.5 1285.7L1778.7 1285.7L1780.9 1285.8L1783.1 1285.8L1785.3 1285.9L1787.5 1286.0L1789.7 1286.0L1791.9 1286.1L1794.1 1286.2L1796.3 1286.2L1798.5 1286.3L1800.7 1286.3L1802.9 1286.4L1805.1 1286.4L1807.3 1286.5L1809.5 1286.5L1811.7 1286.6L1813.9 1286.7L1816.1 1286.7L1818.3 1286.8L1820.5 1286.8L1822.7 1286.9L1824.9 1286.9L1827.1 1287.0L1829.3 1287.0L1831.5 1287.1L1833.7 1287.1L1835.9 1287.2L1838.1 1287.2L1840.3 1287.2L1842.5 1287.3L1844.7 1287.3L1846.9 1287.4L1849.1 1287.4L1851.3 1287.5L1853.5 1287.5L1855.7 1287.6L1857.9 1287.6L1860.1 1287.6L1862.3 1287.7L1864.5 1287.7L1866.7 1287.8L1868.9 1287.8L1871.1 1287.8L1873.3 1287.9L1875.5 1287.9L1877.7 1288.0L1879.9 1288.0L1882.1 1288.0L1884.3 1288.1L1886.5 1288.1L1888.7 1288.1L1890.9 1288.2L1893.1 1288.2L1895.3 1288.2L1897.5 1288.3L1899.7 1288.3L1901.9 1288.3L1904.1 1288.4L1906.3 1288.4L1908.5 1288.4L1910.7 1288.5L1912.9 1288.5L1915.1 1288.5L1917.3 1288.6L1919.5 1288.6L1921.7 1288.6L1923.9 1288.7L1926.1 1288.7L1928.3 1288.7L1930.5 1288.8L1932.7 1288.8L1934.9 1288.8L1937.1 1288.8L1939.3 1288.9L1941.5 1288.9L1943.7 1288.9L1945.9 1289.0L1948.1 1289.0L1950.3 1289.0L1952.5 1289.0L1954.7 1289.1L1956.9 1289.1L1959.1 1289.1L1961.3 1289.1L1963.5 1289.2L1965.7 1289.2L1967.9 1289.2L1970.1 1289.2L1972.3 1289.3L1974.5 1289.3L1976.7 1289.3L1978.9 1289.3L1981.1 1289.4L1983.3 1289.4L1985.5 1289.4L1987.7 1289.5L1989.9 1289.5L1992.1 1289.5L1994.3 1289.5L1996.5 1289.6L1998.7 1289.6L2000.9 1289.6L2003.1 1289.6L2005.3 1289.6L2007.5 1289.7L2009.7 1289.7L2011.9 1289.7L2014.1 1289.7L2016.3 1289.8L2018.5 1289.8L2020.7 1289.8L2022.9 1289.8L2025.1 1289.9L2027.3 1289.9L2029.5 1289.9L2031.7 1289.9L2033.9 1290.0L2036.1 1290.0L2038.3 1290.0L2040.5 1290.0L2042.7 1290.1L2044.9 1290.1L2047.1 1290.1L2049.3 1290.1L2051.5 1290.2L2053.7 1290.2L2055.9 1290.2L2058.1 1290.2L2060.3 1290.3L2062.5 1290.3L2064.7 1290.3L2066.9 1290.3L2069.1 1290.4L2071.3 1290.4L2073.5 1290.4L2075.7 1290.5L2077.9 1290.5L2080.1 1290.5L2082.3 1290.5L2084.5 1290.6L2086.7 1290.6L2088.9 1290.6L2091.1 1290.6L2093.3 1290.7L2095.5 1290.7L2097.7 1290.7L2099.9 1290.7L2102.1 1290.8L2104.3 1290.8L2106.5 1290.8L2108.7 1290.9L2110.0 1290.9" stroke="#000080" stroke-width="12.0"/>
<path d="M222.6 579.7L223.4 581.7L224.2 583.8L225.0 585.8L225.9 587.9L226.7 589.9L227.5 591.9L228.4 594.0L229.2 596.0L230.0 598.0L230.9 600.0L231.7 602.1L232.6 604.1L233.4 606.2L234.2 608.2L235.1 610.3L235.9 612.3L236.7 614.4L237.4 616.5L238.2 618.6L238.9 620.7L239.7 622.7L240.4 624.8L241.1 626.9L241.9 629.0L242.6 631.1L243.3 633.1L244.0 635.2L244.8 637.3L245.5 639.3L246.3 641.4L247.0 643.4L247.8 645.5L248.5 647.6L249.3 649.6L250.0 651.7L250.8 653.8L251.6 655.8L252.3 657.8L253.1 659.9L254.0 661.9L254.8 663.9L255.7 665.9L256.5 667.9L257.4 669.9L258.4 671.8L259.3 673.8L260.2 675.8L261.2 677.7L262.2 679.7L263.2 681.6L264.2 683.6L265.2 685.5L266.2 687.4L267.2 689.4L268.3 691.3L269.4 693.2L270.4 695.1L271.5 697.0L272.6 698.9L273.7 700.8L274.9 702.7L276.0 704.5L277.2 706.4L278.3 708.3L279.5 710.1L280.6 712.0L281.8 713.8L283.0 715.7L284.2 717.5L285.4 719.3L286.6 721.2L287.8 722.9L289.1 724.7L290.4 726.5L291.7 728.2L293.1 729.9L294.4 731.7L295.8 733.4L297.1 735.1L298.5 736.8L299.9 738.4L301.4 739.9L303.0 741.3L304.7 742.5L306.6 743.3L308.7 743.9L310.8 744.9L312.7 748.3L313.2 750.6L313.7 752.8L314.1 754.9L314.6 757.0L315.1 758.8L315.9 760.4L316.9 762.2L318.1 763.9L319.4 765.5L320.8 767.1L322.3 768.6L323.9 770.2L325.4 771.8L326.9 773.4L328.4 775.0L330.0 776.5L331.5 778.1L333.1 779.6L334.7 781.0L336.4 782.4L338.1 783.8L339.8 785.1L341.6 786.3L343.5 787.2L345.5 788.2L347.5 789.3L349.4 790.6L351.1 792.2L352.5 794.3L353.6 796.4L354.5 798.5L355.4 800.6L356.2 802.7L357.0 804.7L357.8 806.8L358.5 808.8L359.3 810.8L360.2 812.8L361.0 814.9L361.9 816.9L362.7 819.0L363.5 821.0L364.3 823.1L365.2 825.1L366.0 827.1L366.8 829.2L367.7 831.1L368.6 833.1L369.5 835.0L370.5 837.0L371.5 838.9L372.5 840.8L373.5 842.7L374.6 844.6L375.7 846.5L376.8 848.4L377.9 850.2L379.1 852.1L380.3 853.8L381.6 855.6L382.9 857.3L384.2 859.1L385.6 860.8L387.0 862.5L388.4 864.1L389.8 865.7L391.4 867.1L393.0 868.4L394.8 869.5L396.8 870.3L398.9 871.0L401.0 871.6L403.0 872.7L404.8 874.5L406.2 876.4L407.4 878.3L408.6 880.2L409.7 882.2L410.8 884.0L411.9 885.9L413.0 887.7L414.3 889.3L415.7 890.9L417.2 892.5L418.7 894.1L420.2 895.7L421.8 897.2L423.4 898.7L425.0 900.2L426.6 901.6L428.3 902.9L430.0 904.2L431.8 905.5L433.7 906.6L435.6 907.5L437.6 908.4L439.7 909.2L441.7 910.2L443.6 911.3L445.5 912.5L447.3 913.8L449.1 915.1L450.8 916.5L452.6 917.9L454.3 919.3L456.0 920.7L457.6 922.1L459.3 923.5L461.0 924.9L462.7 926.2L464.5 927.6L466.2 928.8L468.0 930.1L469.9 931.2L471.7 932.4L473.6 933.5L475.5 934.6L477.4 935.7L479.3 936.8L481.3 937.8L483.2 938.9L485.1 939.9L487.1 940.9L489.0 941.9L491.0 942.9L493.0 943.9L494.9 944.9L496.9 945.9L498.9 946.8L500.8 947.8L502.8 948.7L504.8 949.7L506.8 950.6L508.8 951.5L510.8 952.4L512.8 953.3L514.8 954.2L516.8 955.1L518.9 955.9L520.9 956.7L522.9 957.6L525.0 958.4L527.0 959.2L529.1 960.0L531.1 960.8L533.2 961.6L535.2 962.3L537.3 963.1L539.4 963.8L541.5 964.5L543.5 965.2L545.6 965.8L547.8 966.4L549.9 967.0L552.0 967.5L554.1 968.0L556.3 968.5L558.4 969.0L560.6 969.4L562.7 969.8L564.9 970.3L567.1 970.7L569.2 971.0L571.4 971.4L573.6 971.8L575.7 972.2L577.9 972.5L580.1 972.9L582.2 973.2L584.4 973.5L586.6 973.9L588.8 974.2L591.0 974.5L593.1 974.8L595.3 975.1L597.5 975.3L599.7 975.6L601.9 975.9L604.0 976.2L606.2 976.4L608.4 976.7L610.6 977.0L612.8 977.2L615.0 977.5L617.1 977.7L619.3 977.9L621.5 978.2L623.7 978.4L625.9 978.6L628.1 978.8L630.3 979.0L632.5 979.2L634.7 979.4L636.9 979.6L639.1 979.7L641.2 979.9L643.4 980.1L645.6 980.2L647.8 980.4L650.0 980.5L652.2 980.6L654.4 980.8L656.6 980.9L658.8 981.0L661.0 981.1L663.2 981.2L665.4 981.3L667.6 981.4L669.8 981.5L672.0 981.6L674.2 981.7L676.4 981.7L678.6 981.8L680.8 981.9L683.0 981.9L685.2 981.9L687.4 982.0L689.6 982.0L691.8 982.0L694.0 982.0L696.2 982.1L698.4 982.1L700.6 982.1L702.8 982.1L705.0 982.1L707.2 982.2L709.4 982.2L711.6 982.2L713.8 982.2L716.0 982.1L718.2 982.1L720.4 982.1L722.6 982.1L724.8 982.0L727.0 982.0L729.2 982.0L731.4 981.9L733.6 981.9L735.8 981.8L738.0 981.8L740.2 981.8L742.4 981.7L744.6 981.6L746.8 981.6L749.0 981.5L751.2 981.4L753.4 981.4L755.6 981.3L757.8 981.2L760.0 981.1L762.2 981.1L764.4 981.0L766.6 980.9L768.8 980.8L771.0 980.7L773.2 980.6L775.4 980.5L777.6 980.4L779.8 980.3L782.0 980.2L784.2 980.1L786.4 980.0L788.5 979.9L790.7 979.8L792.9 979.7L795.1 979.6L797.3 979.5L799.5 979.4L801.7 979.3L803.9 979.2L806.1 979.0L808.3 978.9L810.5 978.8L812.7 978.7L814.9 978.6L817.1 978.5L819.3 978.3L821.5 978.2L823.7 978.1L825.9 978.0L828.1 977.9L830.3 977.8L832.5 977.6L834.7 977.5L836.9 977.4L839.1 977.3L841.3 977.2L843.5 977.0L845.7 976.9L847.9 976.8L850.1 976.7L852.3 976.6L854.5 976.5L856.7 976.3L858.9 976.2L861.0 976.1L863.2 976.0L865.4 975.9L867.6 975.8L869.8 975.7L872.0 975.6L874.2 975.5L876.4 975.3L878.6 975.2L880.8 975.1L883.0 975.0L885.2 974.9L887.4 974.8L889.6 974.7L891.8 974.7L894.0 974.6L896.2 974.5L898.4 974.4L900.6 974.3L902.8 974.2L905.0 974.2L907.2 974.1L909.4 974.0L911.6 973.9L913.8 973.8L916.0 973.8L918.2 973.7L920.4 973.7L922.6 973.6L924.8 973.5L927.0 973.5L929.2 973.5L931.4 973.4L933.6 973.4L935.8 973.4L938.0 973.3L940.2 973.3L942.4 973.3L944.6 973.2L946.8 973.2L949.0 973.2L951.2 973.2L953.4 973.2L955.6 973.2L957.8 973.2L960.0 973.2L962.2 973.2L964.4 973.2L966.6 973.2L968.8 973.3L971.0 973.3L973.2 973.3L975.4 973.4L977.6 973.4L979.8 973.4L982.0 973.5L984.2 973.5L986.4 973.6L988.6 973.7L990.8 973.8L993.0 973.9L995.2 974.0L997.4 974.1L999.6 974.2L1001.8 974.2L1004.0 974.1L1006.2 973.9L1008.3 973.5L1010.5 973.1L1012.7 972.7L1014.8 972.3L1017.0 971.9L1019.2 971.6L1021.4 971.5L1023.6 971.4L1025.8 971.5L1028.0 971.7L1030.1 972.0L1032.3 972.4L1034.5 972.8L1036.6 973.3L1038.8 973.7L1040.9 974.2L1043.1 974.8L1045.2 975.5L1047.2 976.3L1049.3 977.0L1051.4 977.7L1053.5 978.2L1055.6 978.6L1057.8 978.8L1060.0 979.0L1062.2 979.2L1064.4 979.4L1066.6 979.5L1068.8 979.7L1071.0 979.8L1073.2 979.9L1075.4 980.0L1077.6 980.1L1079.8 980.3L1082.0 980.4L1084.2 980.6L1086.4 980.8L1088.6 980.9L1090.7 981.1L1092.9 981.3L1095.1 981.5L1097.3 981.6L1099.5 981.8L1101.7 982.0L1103.9 982.2L1106.1 982.4L1108.3 982.6L1110.5 982.8L1112.7 983.0L1114.9 983.2L1117.1 983.4L1119.2 983.6L1121.4 983.8L1123.6 984.0L1125.8 984.2L1128.0 984.4L1130.2 984.6L1132.4 984.8L1134.6 985.0L1136.8 985.2L1139.0 985.4L1141.1 985.6L1143.3 985.8L1145.5 986.1L1147.7 986.3L1149.9 986.5L1152.1 986.7L1154.3 987.0L1156.5 987.2L1158.7 987.4L1160.8 987.6L1163.0 987.9L1165.2 988.1L1167.4 988.3L1169.6 988.6L1171.8 988.8L1174.0 989.0L1176.2 989.3L1178.3 989.5L1180.5 989.8L1182.7 990.0L1184.9 990.2L1187.1 990.5L1189.3 990.7L1191.5 991.0L1193.7 991.2L1195.8 991.5L1198.0 991.7L1200.2 992.0L1202.4 992.2L1204.6 992.5L1206.8 992.7L1208.9 993.0L1211.1 993.3L1213.3 993.5L1215.5 993.8L1217.7 994.0L1219.9 994.3L1222.1 994.5L1224.2 994.8L1226.4 995.1L1228.6 995.3L1230.8 995.6L1233.0 995.9L1235.2 996.1L1237.3 996.4L1239.5 996.7L1241.7 996.9L1243.9 997.2L1246.1 997.5L1248.3 997.7L1250.4 998.0L1252.6 998.3L1254.8 998.6L1257.0 998.8L1259.2 999.1L1261.4 999.4L1263.5 999.7L1265.7 999.9L1267.9 1000.2L1270.1 1000.5L1272.3 1000.8L1274.5 1001.0L1276.6 1001.3L1278.8 1001.6L1281.0 1001.9L1283.2 1002.1L1285.4 1002.4L1287.6 1002.7L1289.7 1003.0L1291.9 1003.3L1294.1 1003.5L1296.3 1003.8L1298.5 1004.1L1300.6 1004.4L1302.8 1004.7L1305.0 1005.0L1307.2 1005.2L1309.4 1005.5L1311.6 1005.8L1313.7 1006.1L1315.9 1006.4L1318.1 1006.6L1320.3 1006.9L1322.5 1007.2L1324.6 1007.5L1326.8 1007.8L1329.0 1008.1L1331.2 1008.3L1333.4 1008.6L1335.6 1008.9L1337.7 1009.2L1339.9 1009.5L1342.1 1009.7L1344.3 1010.0L1346.5 1010.3L1348.6 1010.6L1350.8 1010.9L1353.0 1011.2L1355.2 1011.4L1357.4 1011.7L1359.6 1012.0L1361.7 1012.3L1363.9 1012.6L1366.1 1012.8L1368.3 1013.1L1370.5 1013.4L1372.6 1013.7L1374.8 1013.9L1377.0 1014.2L1379.2 1014.5L1381.4 1014.8L1383.6 1015.1L1385.7 1015.3L1387.9 1015.6L1390.1 1015.9L1392.3 1016.2L1394.5 1016.4L1396.7 1016.7L1398.8 1017.0L1401.0 1017.2L1403.2 1017.5L1405.4 1017.8L1407.6 1018.1L1409.8 1018.3L1411.9 1018.6L1414.1 1018.9L1416.3 1019.1L1418.5 1019.4L1420.7 1019.7L1422.9 1019.9L1425.0 1020.2L1427.2 1020.4L1429.4 1020.7L1431.6 1021.0L1433.8 1021.2L1436.0 1021.5L1438.2 1021.7L1440.3 1022.0L1442.5 1022.3L1444.7 1022.5L1446.9 1022.8L1449.1 1023.0L1451.3 1023.3L1453.4 1023.5L1455.6 1023.8L1457.8 1024.0L1460.0 1024.3L1462.2 1024.5L1464.4 1024.8L1466.6 1025.0L1468.8 1025.2L1470.9 1025.5L1473.1 1025.7L1475.3 1026.0L1477.5 1026.2L1479.7 1026.4L1481.9 1026.7L1484.1 1026.9L1486.2 1027.1L1488.4 1027.4L1490.6 1027.6L1492.8 1027.8L1495.0 1028.1L1497.2 1028.3L1499.4 1028.5L1501.6 1028.7L1503.8 1029.0L1505.9 1029.2L1508.1 1029.4L1510.3 1029.6L1512.5 1029.9L1514.7 1030.1L1516.9 1030.3L1519.1 1030.5L1521.3 1030.7L1523.5 1030.9L1525.6 1031.1L1527.8 1031.3L1530.0 1031.6L1532.2 1031.8L1534.4 1032.0L1536.6 1032.2L1538.8 1032.4L1541.0 1032.6L1543.2 1032.8L1545.4 1033.0L1547.5 1033.2L1549.7 1033.4L1551.9 1033.6L1554.1 1033.8L1556.3 1034.0L1558.5 1034.1L1560.7 1034.3L1562.9 1034.5L1565.1 1034.7L1567.3 1034.9L1569.5 1035.1L1571.7 1035.2L1573.9 1035.4L1576.0 1035.6L1578.2 1035.8L1580.4 1036.0L1582.6 1036.1L1584.8 1036.3L1587.0 1036.5L1589.2 1036.7L1591.4 1036.8L1593.6 1037.0L1595.8 1037.2L1598.0 1037.3L1600.2 1037.5L1602.4 1037.7L1604.6 1037.8L1606.8 1038.0L1608.9 1038.1L1611.1 1038.3L1613.3 1038.4L1615.5 1038.6L1617.7 1038.7L1619.9 1038.9L1622.1 1039.0L1624.3 1039.2L1626.5 1039.3L1628.7 1039.5L1630.9 1039.6L1633.1 1039.8L1635.3 1039.9L1637.5 1040.0L1639.7 1040.2L1641.9 1040.3L1644.1 1040.4L1646.3 1040.6L1648.5 1040.7L1650.7 1040.8L1652.9 1041.0L1655.1 1041.1L1657.2 1041.2L1659.4 1041.3L1661.6 1041.5L1663.8 1041.6L1666.0 1041.7L1668.2 1041.8L1670.4 1041.9L1672.6 1042.0L1674.8 1042.1L1677.0 1042.2L1679.2 1042.3L1681.4 1042.4L1683.6 1042.5L1685.8 1042.6L1688.0 1042.7L1690.2 1042.8L1692.4 1042.9L1694.6 1043.0L1696.8 1043.1L1699.0 1043.2L1701.2 1043.3L1703.4 1043.4L1705.6 1043.5L1707.8 1043.6L1710.0 1043.7L1712.2 1043.7L1714.4 1043.8L1716.6 1043.9L1718.8 1044.0L1721.0 1044.0L1723.2 1044.1L1725.4 1044.2L1727.6 1044.2L1729.8 1044.3L1732.0 1044.4L1734.2 1044.4L1736.4 1044.5L1738.6 1044.6L1740.8 1044.6L1743.0 1044.7L1745.2 1044.7L1747.4 1044.8L1749.6 1044.8L1751.8 1044.9L1754.0 1044.9L1756.2 1045.0L1758.4 1045.0L1760.6 1045.1L1762.8 1045.1L1765.0 1045.2L1767.2 1045.2L1769.4 1045.2L1771.6 1045.3L1773.8 1045.3L1776.0 1045.4L1778.2 1045.4L1780.4 1045.4L1782.6 1045.5L1784.8 1045.5L1787.0 1045.5L1789.2 1045.6L1791.4 1045.6L1793.6 1045.6L1795.8 1045.6L1798.0 1045.7L1800.2 1045.7L1802.4 1045.7L1804.6 1045.7L1806.8 1045.8L1809.0 1045.8L1811.2 1045.8L1813.4 1045.8L1815.6 1045.9L1817.8 1045.9L1820.0 1045.9L1822.2 1045.9L1824.4 1045.9L1826.6 1046.0L1828.8 1046.0L1831.0 1046.0L1833.2 1046.0L1835.4 1046.0L1837.6 1046.1L1839.8 1046.1L1842.0 1046.1L1844.2 1046.1L1846.4 1046.1L1848.6 1046.1L1850.8 1046.2L1853.0 1046.2L1855.2 1046.2L1857.4 1046.2L1859.6 1046.2L1861.8 1046.2L1864.0 1046.2L1866.2 1046.3L1868.4 1046.3L1870.6 1046.3L1872.8 1046.3L1875.0 1046.3L1877.2 1046.3L1879.4 1046.4L1881.6 1046.4L1883.8 1046.4L1886.0 1046.4L1888.2 1046.4L1890.4 1046.4L1892.6 1046.5L1894.8 1046.5L1897.0 1046.5L1899.2 1046.5L1901.4 1046.6L1903.6 1046.6L1905.8 1046.6L1908.0 1046.6L1910.2 1046.6L1912.4 1046.7L1914.6 1046.7L1916.8 1046.7L1919.0 1046.7L1921.2 1046.8L1923.4 1046.8L1925.6 1046.8L1927.8 1046.9L1930.0 1046.9L1932.2 1046.9L1934.4 1046.9L1936.6 1047.0L1938.8 1047.0L1941.0 1047.0L1943.2 1047.1L1945.4 1047.1L1947.6 1047.1L1949.8 1047.2L1952.0 1047.2L1954.2 1047.3L1956.4 1047.3L1958.6 1047.4L1960.8 1047.4L1963.0 1047.5L1965.2 1047.5L1967.4 1047.5L1969.6 1047.6L1971.8 1047.6L1974.0 1047.7L1976.1 1047.7L1978.3 1047.8L1980.5 1047.9L1982.7 1047.9L1984.9 1048.0L1987.1 1048.0L1989.3 1048.1L1991.5 1048.1L1993.7 1048.2L1995.9 1048.2L1998.1 1048.3L2000.3 1048.3L2002.5 1048.4L2004.7 1048.5L2006.9 1048.5L2009.1 1048.6L2011.3 1048.6L2013.5 1048.7L2015.7 1048.8L2017.9 1048.8L2020.1 1048.9L2022.3 1048.9L2024.5 1049.0L2026.7 1049.1L2028.9 1049.1L2031.1 1049.2L2033.3 1049.3L2035.5 1049.3L2037.7 1049.4L2039.9 1049.5L2042.1 1049.5L2044.3 1049.6L2046.5 1049.6L2048.7 1049.7L2050.9 1049.8L2053.1 1049.8L2055.3 1049.9L2057.5 1050.0L2059.7 1050.0L2061.9 1050.1L2064.1 1050.2L2066.3 1050.2L2068.5 1050.3L2070.7 1050.4L2072.9 1050.4L2075.1 1050.5L2077.3 1050.5L2079.5 1050.6L2081.7 1050.7L2083.9 1050.7L2086.1 1050.8L2088.3 1050.9L2090.5 1050.9L2092.7 1051.0L2094.9 1051.1L2097.1 1051.1L2099.3 1051.2L2101.5 1051.3L2103.7 1051.3L2105.9 1051.4L2108.1 1051.5L2110.3 1051.5L2111.6 1051.6" stroke="#808000" stroke-width="12.0" stroke-opacity="0.45" stroke-dasharray="6 18 12 12 12 18 9 6 30 6 9 24 6 12 18 6 6 6 9 24 18 24 9 18 12 18 18 6 24 12 18 24 9 6 18 9 9 6 9 18 12 24 30 24 6 18 18 18 18 12 12 9 18 6 30 24 30 24 18 24 24 6 12 18 24 24 12 6 12 9 6 18 6 6 9 9 12 18 24 6"/>
<path d="M219.4 584.9L220.3 586.9L221.1 589.0L221.9 591.0L222.8 593.1L223.6 595.1L224.4 597.1L225.2 599.2L226.1 601.2L226.9 603.2L227.8 605.2L228.6 607.3L229.4 609.3L230.3 611.4L231.1 613.4L231.9 615.5L232.7 617.5L233.5 619.6L234.3 621.7L235.1 623.8L235.8 625.9L236.6 627.9L237.3 630.0L238.0 632.1L238.8 634.2L239.5 636.3L240.2 638.3L240.9 640.4L241.7 642.5L242.4 644.5L243.1 646.6L243.9 648.6L244.6 650.7L245.4 652.8L246.2 654.8L246.9 656.9L247.7 659.0L248.4 661.0L249.2 663.0L250.0 665.1L250.8 667.1L251.7 669.1L252.5 671.1L253.4 673.1L254.3 675.1L255.2 677.0L256.2 679.0L257.1 681.0L258.1 682.9L259.1 684.9L260.0 686.8L261.0 688.8L262.1 690.7L263.1 692.6L264.1 694.6L265.2 696.5L266.2 698.4L267.3 700.3L268.4 702.2L269.5 704.1L270.6 706.0L271.7 707.9L272.9 709.7L274.0 711.6L275.2 713.5L276.3 715.3L277.5 717.2L278.7 719.0L279.9 720.9L281.1 722.7L282.3 724.5L283.5 726.4L284.7 728.1L286.0 729.9L287.3 731.7L288.6 733.4L290.0 735.1L291.3 736.9L292.6 738.6L294.0 740.3L295.4 742.0L296.8 743.6L298.3 745.1L299.9 746.5L301.6 747.7L303.5 748.5L305.6 749.1L307.7 750.1L309.6 753.5L310.1 755.8L310.6 758.0L311.0 760.1L311.5 762.2L312.0 764.0L312.7 765.6L313.8 767.4L314.9 769.1L316.3 770.7L317.7 772.3L319.2 773.8L320.8 775.4L322.3 777.0L323.8 778.6L325.3 780.2L326.8 781.7L328.4 783.3L330.0 784.8L331.6 786.2L333.3 787.6L335.0 789.0L336.7 790.3L338.5 791.5L340.4 792.4L342.4 793.4L344.3 794.5L346.2 795.8L348.0 797.4L349.4 799.5L350.4 801.6L351.4 803.7L352.2 805.8L353.1 807.9L353.8 809.9L354.6 812.0L355.4 814.0L356.2 816.0L357.0 818.0L357.9 820.1L358.8 822.1L359.6 824.2L360.4 826.2L361.2 828.3L362.0 830.3L362.9 832.3L363.7 834.4L364.6 836.3L365.4 838.3L366.4 840.2L367.4 842.2L368.4 844.1L369.4 846.0L370.4 847.9L371.5 849.8L372.5 851.7L373.7 853.6L374.8 855.4L376.0 857.3L377.2 859.0L378.5 860.8L379.8 862.5L381.1 864.3L382.5 866.0L383.8 867.7L385.2 869.3L386.7 870.9L388.3 872.3L389.9 873.6L391.7 874.7L393.7 875.5L395.8 876.2L397.9 876.8L399.9 877.9L401.7 879.7L403.1 881.6L404.3 883.5L405.4 885.4L406.5 887.4L407.6 889.2L408.7 891.1L409.9 892.9L411.2 894.5L412.6 896.1L414.1 897.7L415.6 899.3L417.1 900.9L418.7 902.4L420.2 903.9L421.8 905.4L423.5 906.8L425.2 908.1L426.9 909.4L428.7 910.7L430.6 911.8L432.5 912.7L434.5 913.6L436.5 914.4L438.6 915.4L440.5 916.5L442.4 917.7L444.2 919.0L446.0 920.3L447.7 921.7L449.4 923.1L451.1 924.5L452.8 925.9L454.5 927.3L456.2 928.7L457.9 930.1L459.6 931.4L461.4 932.8L463.1 934.0L464.9 935.3L466.8 936.4L468.6 937.6L470.5 938.7L472.4 939.8L474.3 940.9L476.2 942.0L478.1 943.0L480.1 944.1L482.0 945.1L484.0 946.1L485.9 947.1L487.9 948.1L489.8 949.1L491.8 950.1L493.8 951.1L495.7 952.0L497.7 953.0L499.7 953.9L501.7 954.9L503.7 955.8L505.7 956.7L507.7 957.6L509.7 958.5L511.7 959.4L513.7 960.3L515.7 961.1L517.8 961.9L519.8 962.8L521.9 963.6L523.9 964.4L526.0 965.2L528.0 966.0L530.1 966.8L532.1 967.5L534.2 968.3L536.3 969.0L538.3 969.7L540.4 970.4L542.5 971.0L544.6 971.6L546.8 972.2L548.9 972.7L551.0 973.2L553.2 973.7L555.3 974.2L557.5 974.6L559.6 975.0L561.8 975.5L563.9 975.9L566.1 976.2L568.3 976.6L570.4 977.0L572.6 977.4L574.8 977.7L577.0 978.1L579.1 978.4L581.3 978.7L583.5 979.1L585.7 979.4L587.8 979.7L590.0 980.0L592.2 980.3L594.4 980.5L596.6 980.8L598.7 981.1L600.9 981.4L603.1 981.6L605.3 981.9L607.5 982.2L609.7 982.4L611.8 982.7L614.0 982.9L616.2 983.1L618.4 983.4L620.6 983.6L622.8 983.8L625.0 984.0L627.2 984.2L629.4 984.4L631.5 984.6L633.7 984.8L635.9 984.9L638.1 985.1L640.3 985.3L642.5 985.4L644.7 985.6L646.9 985.7L649.1 985.8L651.3 986.0L653.5 986.1L655.7 986.2L657.9 986.3L660.1 986.4L662.3 986.5L664.5 986.6L666.7 986.7L668.9 986.8L671.1 986.9L673.3 986.9L675.5 987.0L677.7 987.1L679.9 987.1L682.1 987.1L684.3 987.2L686.5 987.2L688.7 987.2L690.9 987.2L693.1 987.3L695.3 987.3L697.5 987.3L699.7 987.3L701.9 987.3L704.1 987.4L706.3 987.4L708.5 987.4L710.7 987.4L712.9 987.3L715.1 987.3L717.3 987.3L719.5 987.3L721.7 987.2L723.9 987.2L726.1 987.2L728.3 987.1L730.5 987.1L732.7 987.0L734.9 987.0L737.1 987.0L739.3 986.9L741.5 986.8L743.7 986.8L745.9 986.7L748.1 986.6L750.3 986.6L752.5 986.5L754.7 986.4L756.9 986.3L759.1 986.3L761.3 986.2L763.4 986.1L765.6 986.0L767.8 985.9L770.0 985.8L772.2 985.7L774.4 985.6L776.6 985.5L778.8 985.4L781.0 985.3L783.2 985.2L785.4 985.1L787.6 985.0L789.8 984.9L792.0 984.8L794.2 984.7L796.4 984.6L798.6 984.5L800.8 984.4L803.0 984.2L805.2 984.1L807.4 984.0L809.6 983.9L811.8 983.8L814.0 983.7L816.2 983.5L818.4 983.4L820.6 983.3L822.8 983.2L825.0 983.1L827.2 983.0L829.4 982.8L831.6 982.7L833.8 982.6L836.0 982.5L838.2 982.4L840.4 982.2L842.5 982.1L844.7 982.0L846.9 981.9L849.1 981.8L851.3 981.7L853.5 981.5L855.7 981.4L857.9 981.3L860.1 981.2L862.3 981.1L864.5 981.0L866.7 980.9L868.9 980.8L871.1 980.7L873.3 980.5L875.5 980.4L877.7 980.3L879.9 980.2L882.1 980.1L884.3 980.0L886.5 979.9L888.7 979.9L890.9 979.8L893.1 979.7L895.3 979.6L897.5 979.5L899.7 979.4L901.9 979.4L904.1 979.3L906.3 979.2L908.5 979.1L910.7 979.0L912.9 979.0L915.1 978.9L917.3 978.9L919.5 978.8L921.7 978.7L923.9 978.7L926.1 978.7L928.3 978.6L930.5 978.6L932.7 978.6L934.9 978.5L937.1 978.5L939.3 978.5L941.5 978.4L943.7 978.4L945.9 978.4L948.1 978.4L950.3 978.4L952.5 978.4L954.7 978.4L956.9 978.4L959.1 978.4L961.3 978.4L963.5 978.4L965.7 978.5L967.9 978.5L970.1 978.5L972.3 978.6L974.5 978.6L976.7 978.6L978.9 978.7L981.1 978.7L983.3 978.8L985.5 978.9L987.7 979.0L989.9 979.1L992.1 979.2L994.3 979.3L996.5 979.4L998.7 979.4L1000.9 979.3L1003.0 979.1L1005.2 978.7L1007.4 978.3L1009.6 977.9L1011.7 977.5L1013.9 977.1L1016.1 976.8L1018.2 976.7L1020.4 976.6L1022.6 976.7L1024.8 976.9L1027.0 977.2L1029.2 977.6L1031.4 978.0L1033.5 978.5L1035.7 978.9L1037.8 979.4L1039.9 980.0L1042.0 980.7L1044.1 981.5L1046.2 982.2L1048.3 982.9L1050.4 983.4L1052.5 983.8L1054.7 984.0L1056.9 984.2L1059.1 984.4L1061.3 984.6L1063.5 984.7L1065.7 984.9L1067.9 985.0L1070.1 985.1L1072.3 985.2L1074.5 985.3L1076.7 985.5L1078.9 985.6L1081.0 985.8L1083.2 986.0L1085.4 986.1L1087.6 986.3L1089.8 986.5L1092.0 986.7L1094.2 986.8L1096.4 987.0L1098.6 987.2L1100.8 987.4L1103.0 987.6L1105.2 987.8L1107.4 988.0L1109.6 988.2L1111.7 988.4L1113.9 988.6L1116.1 988.8L1118.3 989.0L1120.5 989.2L1122.7 989.4L1124.9 989.6L1127.1 989.8L1129.3 990.0L1131.5 990.2L1133.6 990.4L1135.8 990.6L1138.0 990.8L1140.2 991.0L1142.4 991.3L1144.6 991.5L1146.8 991.7L1149.0 991.9L1151.2 992.2L1153.3 992.4L1155.5 992.6L1157.7 992.8L1159.9 993.1L1162.1 993.3L1164.3 993.5L1166.5 993.8L1168.7 994.0L1170.9 994.2L1173.0 994.5L1175.2 994.7L1177.4 995.0L1179.6 995.2L1181.8 995.4L1184.0 995.7L1186.2 995.9L1188.3 996.2L1190.5 996.4L1192.7 996.7L1194.9 996.9L1197.1 997.2L1199.3 997.4L1201.5 997.7L1203.6 997.9L1205.8 998.2L1208.0 998.5L1210.2 998.7L1212.4 999.0L1214.6 999.2L1216.8 999.5L1218.9 999.7L1221.1 1000.0L1223.3 1000.3L1225.5 1000.5L1227.7 1000.8L1229.9 1001.1L1232.0 1001.3L1234.2 1001.6L1236.4 1001.9L1238.6 1002.1L1240.8 1002.4L1243.0 1002.7L1245.1 1002.9L1247.3 1003.2L1249.5 1003.5L1251.7 1003.8L1253.9 1004.0L1256.1 1004.3L1258.2 1004.6L1260.4 1004.9L1262.6 1005.1L1264.8 1005.4L1267.0 1005.7L1269.2 1006.0L1271.3 1006.2L1273.5 1006.5L1275.7 1006.8L1277.9 1007.1L1280.1 1007.3L1282.3 1007.6L1284.4 1007.9L1286.6 1008.2L1288.8 1008.5L1291.0 1008.7L1293.2 1009.0L1295.3 1009.3L1297.5 1009.6L1299.7 1009.9L1301.9 1010.2L1304.1 1010.4L1306.3 1010.7L1308.4 1011.0L1310.6 1011.3L1312.8 1011.6L1315.0 1011.8L1317.2 1012.1L1319.3 1012.4L1321.5 1012.7L1323.7 1013.0L1325.9 1013.3L1328.1 1013.5L1330.3 1013.8L1332.4 1014.1L1334.6 1014.4L1336.8 1014.7L1339.0 1014.9L1341.2 1015.2L1343.3 1015.5L1345.5 1015.8L1347.7 1016.1L1349.9 1016.4L1352.1 1016.6L1354.3 1016.9L1356.4 1017.2L1358.6 1017.5L1360.8 1017.8L1363.0 1018.0L1365.2 1018.3L1367.3 1018.6L1369.5 1018.9L1371.7 1019.1L1373.9 1019.4L1376.1 1019.7L1378.3 1020.0L1380.4 1020.3L1382.6 1020.5L1384.8 1020.8L1387.0 1021.1L1389.2 1021.4L1391.4 1021.6L1393.5 1021.9L1395.7 1022.2L1397.9 1022.4L1400.1 1022.7L1402.3 1023.0L1404.5 1023.3L1406.6 1023.5L1408.8 1023.8L1411.0 1024.1L1413.2 1024.3L1415.4 1024.6L1417.6 1024.9L1419.7 1025.1L1421.9 1025.4L1424.1 1025.6L1426.3 1025.9L1428.5 1026.2L1430.7 1026.4L1432.8 1026.7L1435.0 1026.9L1437.2 1027.2L1439.4 1027.5L1441.6 1027.7L1443.8 1028.0L1446.0 1028.2L1448.1 1028.5L1450.3 1028.7L1452.5 1029.0L1454.7 1029.2L1456.9 1029.5L1459.1 1029.7L1461.3 1030.0L1463.4 1030.2L1465.6 1030.4L1467.8 1030.7L1470.0 1030.9L1472.2 1031.2L1474.4 1031.4L1476.6 1031.6L1478.8 1031.9L1480.9 1032.1L1483.1 1032.3L1485.3 1032.6L1487.5 1032.8L1489.7 1033.0L1491.9 1033.3L1494.1 1033.5L1496.3 1033.7L1498.4 1033.9L1500.6 1034.2L1502.8 1034.4L1505.0 1034.6L1507.2 1034.8L1509.4 1035.1L1511.6 1035.3L1513.8 1035.5L1516.0 1035.7L1518.1 1035.9L1520.3 1036.1L1522.5 1036.3L1524.7 1036.5L1526.9 1036.8L1529.1 1037.0L1531.3 1037.2L1533.5 1037.4L1535.7 1037.6L1537.9 1037.8L1540.0 1038.0L1542.2 1038.2L1544.4 1038.4L1546.6 1038.6L1548.8 1038.8L1551.0 1039.0L1553.2 1039.2L1555.4 1039.3L1557.6 1039.5L1559.8 1039.7L1562.0 1039.9L1564.2 1040.1L1566.3 1040.3L1568.5 1040.4L1570.7 1040.6L1572.9 1040.8L1575.1 1041.0L1577.3 1041.2L1579.5 1041.3L1581.7 1041.5L1583.9 1041.7L1586.1 1041.9L1588.3 1042.0L1590.5 1042.2L1592.7 1042.4L1594.9 1042.5L1597.1 1042.7L1599.2 1042.9L1601.4 1043.0L1603.6 1043.2L1605.8 1043.3L1608.0 1043.5L1610.2 1043.6L1612.4 1043.8L1614.6 1043.9L1616.8 1044.1L1619.0 1044.2L1621.2 1044.4L1623.4 1044.5L1625.6 1044.7L1627.8 1044.8L1630.0 1045.0L1632.2 1045.1L1634.4 1045.2L1636.6 1045.4L1638.8 1045.5L1641.0 1045.6L1643.1 1045.8L1645.3 1045.9L1647.5 1046.0L1649.7 1046.2L1651.9 1046.3L1654.1 1046.4L1656.3 1046.5L1658.5 1046.7L1660.7 1046.8L1662.9 1046.9L1665.1 1047.0L1667.3 1047.1L1669.5 1047.2L1671.7 1047.3L1673.9 1047.4L1676.1 1047.5L1678.3 1047.6L1680.5 1047.7L1682.7 1047.8L1684.9 1047.9L1687.1 1048.0L1689.3 1048.1L1691.5 1048.2L1693.7 1048.3L1695.9 1048.4L1698.1 1048.5L1700.3 1048.6L1702.5 1048.7L1704.7 1048.8L1706.9 1048.9L1709.1 1048.9L1711.3 1049.0L1713.5 1049.1L1715.7 1049.2L1717.9 1049.2L1720.1 1049.3L1722.3 1049.4L1724.5 1049.4L1726.7 1049.5L1728.9 1049.6L1731.1 1049.6L1733.3 1049.7L1735.5 1049.8L1737.7 1049.8L1739.9 1049.9L1742.1 1049.9L1744.3 1050.0L1746.5 1050.0L1748.7 1050.1L1750.9 1050.1L1753.0 1050.2L1755.2 1050.2L1757.4 1050.3L1759.6 1050.3L1761.8 1050.4L1764.0 1050.4L1766.2 1050.4L1768.4 1050.5L1770.6 1050.5L1772.8 1050.6L1775.0 1050.6L1777.2 1050.6L1779.4 1050.7L1781.6 1050.7L1783.8 1050.7L1786.0 1050.8L1788.2 1050.8L1790.4 1050.8L1792.6 1050.8L1794.8 1050.9L1797.0 1050.9L1799.2 1050.9L1801.4 1050.9L1803.6 1051.0L1805.8 1051.0L1808.0 1051.0L1810.2 1051.0L1812.4 1051.1L1814.6 1051.1L1816.8 1051.1L1819.0 1051.1L1821.2 1051.1L1823.4 1051.2L1825.6 1051.2L1827.8 1051.2L1830.0 1051.2L1832.2 1051.2L1834.4 1051.3L1836.6 1051.3L1838.8 1051.3L1841.0 1051.3L1843.2 1051.3L1845.4 1051.3L1847.6 1051.4L1849.8 1051.4L1852.0 1051.4L1854.2 1051.4L1856.4 1051.4L1858.6 1051.4L1860.8 1051.4L1863.0 1051.5L1865.2 1051.5L1867.4 1051.5L1869.6 1051.5L1871.8 1051.5L1874.0 1051.5L1876.2 1051.6L1878.4 1051.6L1880.6 1051.6L1882.8 1051.6L1885.0 1051.6L1887.2 1051.6L1889.4 1051.7L1891.6 1051.7L1893.8 1051.7L1896.0 1051.7L1898.2 1051.8L1900.4 1051.8L1902.6 1051.8L1904.8 1051.8L1907.0 1051.8L1909.2 1051.9L1911.4 1051.9L1913.6 1051.9L1915.8 1051.9L1918.0 1052.0L1920.2 1052.0L1922.4 1052.0L1924.6 1052.1L1926.8 1052.1L1929.0 1052.1L1931.2 1052.1L1933.4 1052.2L1935.6 1052.2L1937.8 1052.2L1940.0 1052.3L1942.2 1052.3L1944.4 1052.3L1946.6 1052.4L1948.8 1052.4L1951.0 1052.5L1953.2 1052.5L1955.4 1052.6L1957.6 1052.6L1959.8 1052.7L1962.0 1052.7L1964.2 1052.7L1966.4 1052.8L1968.6 1052.8L1970.8 1052.9L1973.0 1052.9L1975.2 1053.0L1977.4 1053.1L1979.6 1053.1L1981.8 1053.2L1984.0 1053.2L1986.2 1053.3L1988.4 1053.3L1990.6 1053.4L1992.8 1053.4L1995.0 1053.5L1997.2 1053.5L1999.4 1053.6L2001.6 1053.7L2003.8 1053.7L2006.0 1053.8L2008.2 1053.8L2010.4 1053.9L2012.6 1054.0L2014.8 1054.0L2017.0 1054.1L2019.2 1054.1L2021.4 1054.2L2023.6 1054.3L2025.8 1054.3L2028.0 1054.4L2030.2 1054.5L2032.4 1054.5L2034.6 1054.6L2036.8 1054.7L2039.0 1054.7L2041.2 1054.8L2043.4 1054.8L2045.6 1054.9L2047.8 1055.0L2050.0 1055.0L2052.2 1055.1L2054.4 1055.2L2056.6 1055.2L2058.8 1055.3L2061.0 1055.4L2063.2 1055.4L2065.4 1055.5L2067.6 1055.6L2069.8 1055.6L2072.0 1055.7L2074.2 1055.7L2076.4 1055.8L2078.6 1055.9L2080.8 1055.9L2083.0 1056.0L2085.2 1056.1L2087.4 1056.1L2089.6 1056.2L2091.8 1056.3L2094.0 1056.3L2096.2 1056.4L2098.4 1056.5L2100.6 1056.5L2102.8 1056.6L2105.0 1056.7L2107.2 1056.7L2108.4 1056.8" stroke="#808000" stroke-width="12.0" stroke-opacity="0.45" stroke-dasharray="18 24 24 6 9 9 9 6 24 18 9 24 30 24 30 24 6 12 9 18 24 18 9 6 18 9 24 6 12 12 24 6 9 18 12 6 24 9 12 9 30 6 6 9 30 6 18 12 30 12 6 12 30 12 24 12 12 9 18 9 12 12 24 24 30 24 30 18 24 6 12 9 12 18 30 6 12 24 18 24"/>
<path d="M221.0 582.3L221.8 584.3L222.7 586.4L223.5 588.4L224.3 590.5L225.1 592.5L226.0 594.5L226.8 596.6L227.6 598.6L228.5 600.6L229.3 602.6L230.2 604.7L231.0 606.7L231.8 608.8L232.7 610.8L233.5 612.9L234.3 614.9L235.1 617.0L235.9 619.1L236.6 621.2L237.4 623.3L238.1 625.3L238.9 627.4L239.6 629.5L240.3 631.6L241.0 633.7L241.8 635.7L242.5 637.8L243.2 639.9L243.9 641.9L244.7 644.0L245.4 646.0L246.2 648.1L247.0 650.2L247.7 652.2L248.5 654.3L249.2 656.4L250.0 658.4L250.8 660.4L251.6 662.5L252.4 664.5L253.2 666.5L254.1 668.5L255.0 670.5L255.9 672.5L256.8 674.4L257.7 676.4L258.7 678.4L259.6 680.3L260.6 682.3L261.6 684.2L262.6 686.2L263.6 688.1L264.6 690.0L265.7 692.0L266.7 693.9L267.8 695.8L268.9 697.7L270.0 699.6L271.1 701.5L272.2 703.4L273.3 705.3L274.4 707.1L275.6 709.0L276.8 710.9L277.9 712.7L279.1 714.6L280.2 716.4L281.4 718.3L282.6 720.1L283.8 721.9L285.0 723.8L286.3 725.5L287.5 727.3L288.8 729.1L290.2 730.8L291.5 732.5L292.9 734.3L294.2 736.0L295.5 737.7L296.9 739.4L298.3 741.0L299.8 742.5L301.4 743.9L303.2 745.1L305.1 745.9L307.2 746.5L309.3 747.5L311.1 750.9L311.7 753.2L312.1 755.4L312.6 757.5L313.1 759.6L313.6 761.4L314.3 763.0L315.3 764.8L316.5 766.5L317.8 768.1L319.3 769.7L320.8 771.2L322.3 772.8L323.8 774.4L325.3 776.0L326.9 777.6L328.4 779.1L330.0 780.7L331.6 782.2L333.2 783.6L334.8 785.0L336.5 786.4L338.3 787.7L340.0 788.9L341.9 789.8L343.9 790.8L345.9 791.9L347.8 793.2L349.5 794.8L350.9 796.9L352.0 799.0L352.9 801.1L353.8 803.2L354.6 805.3L355.4 807.3L356.2 809.4L357.0 811.4L357.8 813.4L358.6 815.4L359.5 817.5L360.3 819.5L361.2 821.6L362.0 823.6L362.8 825.7L363.6 827.7L364.4 829.7L365.3 831.8L366.1 833.7L367.0 835.7L367.9 837.6L368.9 839.6L369.9 841.5L370.9 843.4L372.0 845.3L373.0 847.2L374.1 849.1L375.2 851.0L376.4 852.8L377.5 854.7L378.7 856.4L380.0 858.2L381.3 859.9L382.7 861.7L384.0 863.4L385.4 865.1L386.8 866.7L388.3 868.3L389.8 869.7L391.5 871.0L393.3 872.1L395.2 872.9L397.3 873.6L399.4 874.2L401.5 875.3L403.2 877.1L404.6 879.0L405.9 880.9L407.0 882.8L408.1 884.8L409.2 886.6L410.3 888.5L411.5 890.3L412.7 891.9L414.2 893.5L415.6 895.1L417.1 896.7L418.7 898.3L420.2 899.8L421.8 901.3L423.4 902.8L425.1 904.2L426.7 905.5L428.5 906.8L430.3 908.1L432.1 909.2L434.0 910.1L436.1 911.0L438.1 911.8L440.1 912.8L442.1 913.9L443.9 915.1L445.7 916.4L447.5 917.7L449.3 919.1L451.0 920.5L452.7 921.9L454.4 923.3L456.1 924.7L457.8 926.1L459.5 927.5L461.2 928.8L462.9 930.2L464.7 931.4L466.5 932.7L468.3 933.8L470.2 935.0L472.1 936.1L474.0 937.2L475.9 938.3L477.8 939.4L479.7 940.4L481.6 941.5L483.6 942.5L485.5 943.5L487.5 944.5L489.4 945.5L491.4 946.5L493.4 947.5L495.3 948.5L497.3 949.4L499.3 950.4L501.3 951.3L503.3 952.3L505.2 953.2L507.2 954.1L509.2 955.0L511.3 955.9L513.3 956.8L515.3 957.7L517.3 958.5L519.3 959.3L521.4 960.2L523.4 961.0L525.5 961.8L527.5 962.6L529.6 963.4L531.6 964.2L533.7 964.9L535.7 965.7L537.8 966.4L539.9 967.1L542.0 967.8L544.1 968.4L546.2 969.0L548.3 969.6L550.4 970.1L552.6 970.6L554.7 971.1L556.9 971.6L559.0 972.0L561.2 972.4L563.3 972.9L565.5 973.3L567.7 973.6L569.8 974.0L572.0 974.4L574.2 974.8L576.3 975.1L578.5 975.5L580.7 975.8L582.9 976.1L585.0 976.5L587.2 976.8L589.4 977.1L591.6 977.4L593.8 977.7L595.9 977.9L598.1 978.2L600.3 978.5L602.5 978.8L604.7 979.0L606.8 979.3L609.0 979.6L611.2 979.8L613.4 980.1L615.6 980.3L617.8 980.5L620.0 980.8L622.2 981.0L624.3 981.2L626.5 981.4L628.7 981.6L630.9 981.8L633.1 982.0L635.3 982.2L637.5 982.3L639.7 982.5L641.9 982.7L644.1 982.8L646.3 983.0L648.5 983.1L650.7 983.2L652.9 983.4L655.1 983.5L657.2 983.6L659.4 983.7L661.6 983.8L663.8 983.9L666.0 984.0L668.2 984.1L670.4 984.2L672.6 984.3L674.8 984.3L677.0 984.4L679.2 984.5L681.4 984.5L683.6 984.5L685.8 984.6L688.0 984.6L690.2 984.6L692.4 984.6L694.6 984.7L696.8 984.7L699.0 984.7L701.2 984.7L703.4 984.7L705.6 984.8L707.8 984.8L710.0 984.8L712.2 984.8L714.4 984.7L716.6 984.7L718.8 984.7L721.0 984.7L723.2 984.6L725.4 984.6L727.6 984.6L729.8 984.5L732.0 984.5L734.2 984.4L736.4 984.4L738.6 984.4L740.8 984.3L743.0 984.2L745.2 984.2L747.4 984.1L749.6 984.0L751.8 984.0L754.0 983.9L756.2 983.8L758.4 983.7L760.6 983.7L762.8 983.6L765.0 983.5L767.2 983.4L769.4 983.3L771.6 983.2L773.8 983.1L776.0 983.0L778.2 982.9L780.4 982.8L782.6 982.7L784.8 982.6L787.0 982.5L789.2 982.4L791.4 982.3L793.6 982.2L795.8 982.1L798.0 982.0L800.2 981.9L802.4 981.8L804.6 981.6L806.8 981.5L809.0 981.4L811.2 981.3L813.4 981.2L815.6 981.1L817.7 980.9L819.9 980.8L822.1 980.7L824.3 980.6L826.5 980.5L828.7 980.4L830.9 980.2L833.1 980.1L835.3 980.0L837.5 979.9L839.7 979.8L841.9 979.6L844.1 979.5L846.3 979.4L848.5 979.3L850.7 979.2L852.9 979.1L855.1 978.9L857.3 978.8L859.5 978.7L861.7 978.6L863.9 978.5L866.1 978.4L868.3 978.3L870.5 978.2L872.7 978.1L874.9 977.9L877.1 977.8L879.3 977.7L881.5 977.6L883.7 977.5L885.9 977.4L888.1 977.3L890.3 977.3L892.5 977.2L894.6 977.1L896.8 977.0L899.0 976.9L901.2 976.8L903.4 976.8L905.6 976.7L907.8 976.6L910.0 976.5L912.2 976.4L914.4 976.4L916.6 976.3L918.8 976.3L921.0 976.2L923.2 976.1L925.4 976.1L927.6 976.1L929.8 976.0L932.0 976.0L934.2 976.0L936.4 975.9L938.6 975.9L940.8 975.9L943.0 975.8L945.2 975.8L947.4 975.8L949.6 975.8L951.8 975.8L954.0 975.8L956.2 975.8L958.4 975.8L960.6 975.8L962.8 975.8L965.0 975.8L967.2 975.9L969.4 975.9L971.6 975.9L973.8 976.0L976.0 976.0L978.2 976.0L980.4 976.1L982.6 976.1L984.8 976.2L987.0 976.3L989.2 976.4L991.4 976.5L993.6 976.6L995.8 976.7L998.0 976.8L1000.2 976.8L1002.4 976.7L1004.6 976.5L1006.8 976.1L1009.0 975.7L1011.1 975.3L1013.3 974.9L1015.4 974.5L1017.6 974.2L1019.8 974.1L1022.0 974.0L1024.2 974.1L1026.4 974.3L1028.6 974.6L1030.7 975.0L1032.9 975.4L1035.1 975.9L1037.2 976.3L1039.4 976.8L1041.5 977.4L1043.6 978.1L1045.7 978.9L1047.7 979.6L1049.8 980.3L1051.9 980.8L1054.1 981.2L1056.3 981.4L1058.5 981.6L1060.7 981.8L1062.8 982.0L1065.0 982.1L1067.2 982.3L1069.4 982.4L1071.6 982.5L1073.8 982.6L1076.0 982.7L1078.2 982.9L1080.4 983.0L1082.6 983.2L1084.8 983.4L1087.0 983.5L1089.2 983.7L1091.4 983.9L1093.6 984.1L1095.8 984.2L1098.0 984.4L1100.2 984.6L1102.3 984.8L1104.5 985.0L1106.7 985.2L1108.9 985.4L1111.1 985.6L1113.3 985.8L1115.5 986.0L1117.7 986.2L1119.9 986.4L1122.1 986.6L1124.3 986.8L1126.4 987.0L1128.6 987.2L1130.8 987.4L1133.0 987.6L1135.2 987.8L1137.4 988.0L1139.6 988.2L1141.8 988.4L1144.0 988.7L1146.2 988.9L1148.3 989.1L1150.5 989.3L1152.7 989.6L1154.9 989.8L1157.1 990.0L1159.3 990.2L1161.5 990.5L1163.7 990.7L1165.8 990.9L1168.0 991.2L1170.2 991.4L1172.4 991.6L1174.6 991.9L1176.8 992.1L1179.0 992.4L1181.2 992.6L1183.3 992.8L1185.5 993.1L1187.7 993.3L1189.9 993.6L1192.1 993.8L1194.3 994.1L1196.5 994.3L1198.6 994.6L1200.8 994.8L1203.0 995.1L1205.2 995.3L1207.4 995.6L1209.6 995.9L1211.8 996.1L1213.9 996.4L1216.1 996.6L1218.3 996.9L1220.5 997.1L1222.7 997.4L1224.9 997.7L1227.1 997.9L1229.2 998.2L1231.4 998.5L1233.6 998.7L1235.8 999.0L1238.0 999.3L1240.2 999.5L1242.3 999.8L1244.5 1000.1L1246.7 1000.3L1248.9 1000.6L1251.1 1000.9L1253.3 1001.2L1255.4 1001.4L1257.6 1001.7L1259.8 1002.0L1262.0 1002.3L1264.2 1002.5L1266.4 1002.8L1268.5 1003.1L1270.7 1003.4L1272.9 1003.6L1275.1 1003.9L1277.3 1004.2L1279.4 1004.5L1281.6 1004.7L1283.8 1005.0L1286.0 1005.3L1288.2 1005.6L1290.4 1005.9L1292.5 1006.1L1294.7 1006.4L1296.9 1006.7L1299.1 1007.0L1301.3 1007.3L1303.4 1007.6L1305.6 1007.8L1307.8 1008.1L1310.0 1008.4L1312.2 1008.7L1314.4 1009.0L1316.5 1009.2L1318.7 1009.5L1320.9 1009.8L1323.1 1010.1L1325.3 1010.4L1327.4 1010.7L1329.6 1010.9L1331.8 1011.2L1334.0 1011.5L1336.2 1011.8L1338.4 1012.1L1340.5 1012.3L1342.7 1012.6L1344.9 1012.9L1347.1 1013.2L1349.3 1013.5L1351.5 1013.8L1353.6 1014.0L1355.8 1014.3L1358.0 1014.6L1360.2 1014.9L1362.4 1015.2L1364.5 1015.4L1366.7 1015.7L1368.9 1016.0L1371.1 1016.3L1373.3 1016.5L1375.5 1016.8L1377.6 1017.1L1379.8 1017.4L1382.0 1017.7L1384.2 1017.9L1386.4 1018.2L1388.6 1018.5L1390.7 1018.8L1392.9 1019.0L1395.1 1019.3L1397.3 1019.6L1399.5 1019.8L1401.6 1020.1L1403.8 1020.4L1406.0 1020.7L1408.2 1020.9L1410.4 1021.2L1412.6 1021.5L1414.7 1021.7L1416.9 1022.0L1419.1 1022.3L1421.3 1022.5L1423.5 1022.8L1425.7 1023.0L1427.9 1023.3L1430.0 1023.6L1432.2 1023.8L1434.4 1024.1L1436.6 1024.3L1438.8 1024.6L1441.0 1024.9L1443.1 1025.1L1445.3 1025.4L1447.5 1025.6L1449.7 1025.9L1451.9 1026.1L1454.1 1026.4L1456.3 1026.6L1458.4 1026.9L1460.6 1027.1L1462.8 1027.4L1465.0 1027.6L1467.2 1027.8L1469.4 1028.1L1471.6 1028.3L1473.8 1028.6L1475.9 1028.8L1478.1 1029.0L1480.3 1029.3L1482.5 1029.5L1484.7 1029.7L1486.9 1030.0L1489.1 1030.2L1491.3 1030.4L1493.4 1030.7L1495.6 1030.9L1497.8 1031.1L1500.0 1031.3L1502.2 1031.6L1504.4 1031.8L1506.6 1032.0L1508.8 1032.2L1510.9 1032.5L1513.1 1032.7L1515.3 1032.9L1517.5 1033.1L1519.7 1033.3L1521.9 1033.5L1524.1 1033.7L1526.3 1033.9L1528.5 1034.2L1530.7 1034.4L1532.8 1034.6L1535.0 1034.8L1537.2 1035.0L1539.4 1035.2L1541.6 1035.4L1543.8 1035.6L1546.0 1035.8L1548.2 1036.0L1550.4 1036.2L1552.6 1036.4L1554.8 1036.6L1556.9 1036.7L1559.1 1036.9L1561.3 1037.1L1563.5 1037.3L1565.7 1037.5L1567.9 1037.7L1570.1 1037.8L1572.3 1038.0L1574.5 1038.2L1576.7 1038.4L1578.9 1038.6L1581.1 1038.7L1583.3 1038.9L1585.4 1039.1L1587.6 1039.3L1589.8 1039.4L1592.0 1039.6L1594.2 1039.8L1596.4 1039.9L1598.6 1040.1L1600.8 1040.3L1603.0 1040.4L1605.2 1040.6L1607.4 1040.7L1609.6 1040.9L1611.8 1041.0L1614.0 1041.2L1616.2 1041.3L1618.4 1041.5L1620.6 1041.6L1622.8 1041.8L1624.9 1041.9L1627.1 1042.1L1629.3 1042.2L1631.5 1042.4L1633.7 1042.5L1635.9 1042.6L1638.1 1042.8L1640.3 1042.9L1642.5 1043.0L1644.7 1043.2L1646.9 1043.3L1649.1 1043.4L1651.3 1043.6L1653.5 1043.7L1655.7 1043.8L1657.9 1043.9L1660.1 1044.1L1662.3 1044.2L1664.5 1044.3L1666.7 1044.4L1668.9 1044.5L1671.1 1044.6L1673.3 1044.7L1675.5 1044.8L1677.7 1044.9L1679.9 1045.0L1682.1 1045.1L1684.3 1045.2L1686.4 1045.3L1688.6 1045.4L1690.8 1045.5L1693.0 1045.6L1695.2 1045.7L1697.4 1045.8L1699.6 1045.9L1701.8 1046.0L1704.0 1046.1L1706.2 1046.2L1708.4 1046.3L1710.6 1046.3L1712.8 1046.4L1715.0 1046.5L1717.2 1046.6L1719.4 1046.6L1721.6 1046.7L1723.8 1046.8L1726.0 1046.8L1728.2 1046.9L1730.4 1047.0L1732.6 1047.0L1734.8 1047.1L1737.0 1047.2L1739.2 1047.2L1741.4 1047.3L1743.6 1047.3L1745.8 1047.4L1748.0 1047.4L1750.2 1047.5L1752.4 1047.5L1754.6 1047.6L1756.8 1047.6L1759.0 1047.7L1761.2 1047.7L1763.4 1047.8L1765.6 1047.8L1767.8 1047.8L1770.0 1047.9L1772.2 1047.9L1774.4 1048.0L1776.6 1048.0L1778.8 1048.0L1781.0 1048.1L1783.2 1048.1L1785.4 1048.1L1787.6 1048.2L1789.8 1048.2L1792.0 1048.2L1794.2 1048.2L1796.4 1048.3L1798.6 1048.3L1800.8 1048.3L1803.0 1048.3L1805.2 1048.4L1807.4 1048.4L1809.6 1048.4L1811.8 1048.4L1814.0 1048.5L1816.2 1048.5L1818.4 1048.5L1820.6 1048.5L1822.8 1048.5L1825.0 1048.6L1827.2 1048.6L1829.4 1048.6L1831.6 1048.6L1833.8 1048.6L1836.0 1048.7L1838.2 1048.7L1840.4 1048.7L1842.6 1048.7L1844.8 1048.7L1847.0 1048.7L1849.2 1048.8L1851.4 1048.8L1853.6 1048.8L1855.8 1048.8L1858.0 1048.8L1860.2 1048.8L1862.4 1048.8L1864.6 1048.9L1866.8 1048.9L1869.0 1048.9L1871.2 1048.9L1873.4 1048.9L1875.6 1048.9L1877.8 1049.0L1880.0 1049.0L1882.2 1049.0L1884.4 1049.0L1886.6 1049.0L1888.8 1049.0L1891.0 1049.1L1893.2 1049.1L1895.4 1049.1L1897.6 1049.1L1899.8 1049.2L1902.0 1049.2L1904.2 1049.2L1906.4 1049.2L1908.6 1049.2L1910.8 1049.3L1913.0 1049.3L1915.2 1049.3L1917.4 1049.3L1919.6 1049.4L1921.8 1049.4L1924.0 1049.4L1926.2 1049.5L1928.4 1049.5L1930.6 1049.5L1932.8 1049.5L1935.0 1049.6L1937.2 1049.6L1939.4 1049.6L1941.6 1049.7L1943.8 1049.7L1946.0 1049.7L1948.2 1049.8L1950.4 1049.8L1952.6 1049.9L1954.8 1049.9L1957.0 1050.0L1959.2 1050.0L1961.4 1050.1L1963.6 1050.1L1965.8 1050.1L1968.0 1050.2L1970.2 1050.2L1972.4 1050.3L1974.6 1050.3L1976.8 1050.4L1979.0 1050.5L1981.2 1050.5L1983.4 1050.6L1985.6 1050.6L1987.8 1050.7L1990.0 1050.7L1992.2 1050.8L1994.4 1050.8L1996.6 1050.9L1998.8 1050.9L2001.0 1051.0L2003.2 1051.1L2005.4 1051.1L2007.6 1051.2L2009.8 1051.2L2012.0 1051.3L2014.2 1051.4L2016.4 1051.4L2018.6 1051.5L2020.8 1051.5L2023.0 1051.6L2025.2 1051.7L2027.4 1051.7L2029.6 1051.8L2031.8 1051.9L2034.0 1051.9L2036.2 1052.0L2038.4 1052.1L2040.6 1052.1L2042.8 1052.2L2045.0 1052.2L2047.2 1052.3L2049.4 1052.4L2051.6 1052.4L2053.8 1052.5L2056.0 1052.6L2058.2 1052.6L2060.4 1052.7L2062.6 1052.8L2064.8 1052.8L2067.0 1052.9L2069.2 1053.0L2071.4 1053.0L2073.6 1053.1L2075.8 1053.1L2077.9 1053.2L2080.1 1053.3L2082.3 1053.3L2084.5 1053.4L2086.7 1053.5L2088.9 1053.5L2091.1 1053.6L2093.3 1053.7L2095.5 1053.7L2097.7 1053.8L2099.9 1053.9L2102.1 1053.9L2104.3 1054.0L2106.5 1054.1L2108.7 1054.1L2110.0 1054.2" stroke="#808000" stroke-width="12.0"/>
<path d="M222.6 342.9L223.4 344.9L224.2 347.0L225.0 349.0L225.9 351.1L226.7 353.1L227.5 355.1L228.4 357.2L229.2 359.2L230.0 361.2L230.9 363.3L231.7 365.3L232.5 367.3L233.4 369.4L234.2 371.4L235.0 373.5L235.9 375.5L236.7 377.6L237.5 379.7L238.2 381.7L239.0 383.8L239.8 385.9L240.6 387.9L241.3 390.0L242.1 392.1L242.8 394.1L243.6 396.2L244.3 398.3L245.1 400.4L245.8 402.4L246.6 404.5L247.3 406.6L248.0 408.7L248.7 410.8L249.4 412.9L250.1 415.0L250.8 417.0L251.5 419.1L252.3 421.1L253.0 423.2L253.8 425.2L254.6 427.2L255.4 429.2L256.3 431.2L257.2 433.2L258.0 435.2L258.9 437.2L259.8 439.2L260.8 441.2L261.7 443.1L262.7 445.1L263.6 447.0L264.6 449.0L265.6 450.9L266.7 452.8L267.7 454.8L268.8 456.7L269.8 458.6L270.9 460.5L272.0 462.4L273.1 464.3L274.2 466.2L275.3 468.0L276.5 469.9L277.6 471.8L278.8 473.6L280.0 475.5L281.2 477.3L282.3 479.2L283.5 481.0L284.7 482.9L285.9 484.7L287.1 486.6L288.2 488.5L289.4 490.4L290.5 492.3L291.7 494.2L292.8 496.1L293.9 498.0L295.0 499.8L296.1 501.7L297.3 503.6L298.4 505.5L299.5 507.4L300.7 509.2L301.9 511.1L303.0 512.9L304.2 514.8L305.4 516.6L306.6 518.5L307.8 520.3L309.0 522.2L310.2 524.0L311.4 525.8L312.6 527.7L313.8 529.5L315.0 531.3L316.3 533.1L317.5 535.0L318.7 536.8L320.0 538.6L321.2 540.4L322.5 542.2L323.8 544.0L325.0 545.8L326.3 547.5L327.6 549.3L328.9 551.1L330.2 552.8L331.5 554.6L332.9 556.3L334.2 558.0L335.6 559.7L337.0 561.4L338.4 563.1L339.8 564.8L341.2 566.5L342.5 568.3L343.9 570.1L345.2 571.9L346.5 573.7L347.7 575.5L348.9 577.4L350.1 579.3L351.3 581.1L352.5 583.0L353.6 584.9L354.8 586.8L355.9 588.6L357.1 590.5L358.3 592.3L359.5 594.1L360.7 596.0L361.9 597.8L363.1 599.6L364.4 601.4L365.6 603.3L366.8 605.1L368.1 606.9L369.3 608.7L370.6 610.4L371.9 612.2L373.2 613.9L374.6 615.6L375.9 617.4L377.3 619.1L378.7 620.7L380.1 622.4L381.5 624.1L383.0 625.7L384.4 627.3L385.9 629.0L387.4 630.6L388.9 632.2L390.4 633.8L391.9 635.4L393.4 637.0L394.9 638.5L396.5 640.1L398.0 641.6L399.6 643.2L401.2 644.7L402.7 646.2L404.3 647.8L405.9 649.3L407.5 650.8L409.1 652.3L410.8 653.7L412.4 655.2L414.0 656.7L415.6 658.2L417.3 659.6L418.9 661.1L420.6 662.6L422.2 664.0L423.9 665.5L425.5 666.9L427.2 668.3L428.8 669.8L430.5 671.2L432.2 672.6L433.9 674.0L435.6 675.4L437.3 676.8L439.0 678.1L440.7 679.5L442.5 680.8L444.2 682.1L446.0 683.4L447.8 684.7L449.5 686.0L451.3 687.3L453.1 688.6L454.9 689.8L456.7 691.1L458.5 692.3L460.3 693.6L462.2 694.8L464.0 696.0L465.8 697.2L467.7 698.4L469.5 699.6L471.4 700.8L473.2 702.0L475.1 703.2L476.9 704.4L478.8 705.5L480.6 706.7L482.5 707.8L484.4 709.0L486.3 710.1L488.2 711.2L490.1 712.3L492.0 713.3L493.9 714.4L495.9 715.4L497.8 716.4L499.8 717.4L501.8 718.4L503.7 719.4L505.7 720.3L507.7 721.3L509.7 722.2L511.7 723.1L513.7 724.0L515.7 724.9L517.7 725.7L519.8 726.4L521.8 727.2L523.9 727.8L526.0 728.5L528.1 729.1L530.3 729.7L532.4 730.2L534.5 730.8L536.6 731.3L538.8 731.8L540.9 732.3L543.1 732.8L545.2 733.2L547.4 733.7L549.5 734.2L551.7 734.7L553.8 735.2L556.0 735.6L558.1 736.1L560.3 736.6L562.4 737.0L564.6 737.5L566.7 737.9L568.9 738.3L571.0 738.7L573.2 739.1L575.4 739.4L577.5 739.7L579.7 740.0L581.9 740.3L584.1 740.6L586.3 740.8L588.5 741.1L590.6 741.3L592.8 741.5L595.0 741.8L597.2 742.0L599.4 742.2L601.6 742.4L603.8 742.7L606.0 742.9L608.1 743.2L610.3 743.4L612.5 743.7L614.7 744.0L616.9 744.2L619.1 744.5L621.3 744.7L623.4 744.9L625.6 745.2L627.8 745.4L630.0 745.6L632.2 745.8L634.4 745.9L636.6 746.1L638.8 746.3L641.0 746.5L643.2 746.6L645.4 746.8L647.6 746.9L649.8 747.1L651.9 747.2L654.1 747.3L656.3 747.5L658.5 747.6L660.7 747.7L662.9 747.8L665.1 747.9L667.3 748.0L669.5 748.1L671.7 748.1L673.9 748.2L676.1 748.3L678.3 748.4L680.5 748.4L682.7 748.5L684.9 748.5L687.1 748.5L689.3 748.5L691.5 748.5L693.7 748.6L695.9 748.6L698.1 748.6L700.3 748.6L702.5 748.6L704.7 748.6L706.9 748.6L709.1 748.7L711.3 748.7L713.5 748.6L715.7 748.6L717.9 748.6L720.1 748.6L722.3 748.5L724.5 748.5L726.7 748.5L728.9 748.4L731.1 748.4L733.3 748.3L735.5 748.3L737.7 748.2L739.9 748.1L742.1 748.1L744.3 748.0L746.5 748.0L748.7 747.9L750.9 747.8L753.1 747.7L755.3 747.6L757.5 747.5L759.7 747.5L761.9 747.4L764.1 747.3L766.3 747.2L768.5 747.1L770.7 747.0L772.9 746.9L775.1 746.8L777.3 746.7L779.5 746.6L781.7 746.4L783.9 746.3L786.1 746.2L788.3 746.1L790.5 746.0L792.7 745.9L794.9 745.7L797.1 745.6L799.3 745.5L801.5 745.4L803.6 745.3L805.8 745.1L808.0 745.0L810.2 744.9L812.4 744.7L814.6 744.6L816.8 744.5L819.0 744.3L821.2 744.2L823.4 744.1L825.6 744.0L827.8 743.8L830.0 743.7L832.2 743.6L834.4 743.4L836.6 743.3L838.8 743.1L841.0 743.0L843.2 742.9L845.4 742.8L847.6 742.6L849.8 742.5L852.0 742.4L854.2 742.2L856.4 742.1L858.6 742.0L860.7 741.8L862.9 741.7L865.1 741.6L867.3 741.5L869.5 741.3L871.7 741.2L873.9 741.1L876.1 741.0L878.3 740.9L880.5 740.7L882.7 740.6L884.9 740.5L887.1 740.4L889.3 740.3L891.5 740.2L893.7 740.1L895.9 740.0L898.1 739.9L900.3 739.8L902.5 739.7L904.7 739.6L906.9 739.5L909.1 739.4L911.3 739.3L913.5 739.2L915.7 739.1L917.9 739.0L920.1 739.0L922.3 738.9L924.5 738.8L926.7 738.8L928.9 738.7L931.1 738.6L933.3 738.6L935.5 738.5L937.7 738.5L939.9 738.4L942.1 738.4L944.3 738.3L946.5 738.3L948.7 738.3L950.9 738.2L953.1 738.2L955.3 738.2L957.5 738.2L959.7 738.2L961.9 738.2L964.1 738.2L966.3 738.2L968.5 738.2L970.7 738.3L972.9 738.3L975.1 738.3L977.3 738.3L979.5 738.3L981.7 738.3L983.9 738.3L986.1 738.4L988.3 738.4L990.5 738.5L992.7 738.6L994.9 738.6L997.1 738.7L999.3 738.8L1001.5 738.9L1003.7 739.0L1005.9 739.1L1008.0 739.2L1010.2 739.4L1012.4 739.5L1014.6 739.7L1016.8 739.9L1019.0 740.1L1021.2 740.3L1023.4 740.4L1025.6 740.6L1027.8 740.8L1030.0 741.0L1032.2 741.2L1034.4 741.5L1036.5 741.7L1038.7 742.0L1040.9 742.2L1043.1 742.5L1045.3 742.7L1047.5 743.0L1049.7 743.2L1051.8 743.5L1054.0 743.7L1056.2 743.9L1058.4 744.1L1060.6 744.3L1062.8 744.4L1065.0 744.6L1067.2 744.8L1069.4 744.9L1071.6 745.1L1073.8 745.3L1076.0 745.4L1078.2 745.6L1080.3 745.8L1082.5 746.0L1084.7 746.2L1086.9 746.4L1089.1 746.5L1091.3 746.7L1093.5 746.9L1095.7 747.1L1097.9 747.3L1100.1 747.5L1102.3 747.7L1104.5 747.9L1106.6 748.1L1108.8 748.3L1111.0 748.5L1113.2 748.7L1115.4 749.0L1117.6 749.2L1119.8 749.4L1122.0 749.6L1124.2 749.8L1126.4 750.0L1128.5 750.3L1130.7 750.5L1132.9 750.7L1135.1 750.9L1137.3 751.1L1139.5 751.4L1141.7 751.6L1143.9 751.8L1146.0 752.0L1148.2 752.3L1150.4 752.5L1152.6 752.7L1154.8 753.0L1157.0 753.2L1159.2 753.5L1161.4 753.7L1163.5 753.9L1165.7 754.2L1167.9 754.4L1170.1 754.6L1172.3 754.9L1174.5 755.1L1176.7 755.4L1178.9 755.6L1181.0 755.9L1183.2 756.1L1185.4 756.4L1187.6 756.6L1189.8 756.9L1192.0 757.1L1194.2 757.4L1196.3 757.6L1198.5 757.9L1200.7 758.1L1202.9 758.4L1205.1 758.6L1207.3 758.9L1209.5 759.2L1211.6 759.4L1213.8 759.7L1216.0 759.9L1218.2 760.2L1220.4 760.5L1222.6 760.7L1224.7 761.0L1226.9 761.2L1229.1 761.5L1231.3 761.8L1233.5 762.0L1235.7 762.3L1237.8 762.6L1240.0 762.8L1242.2 763.1L1244.4 763.4L1246.6 763.6L1248.8 763.9L1251.0 764.2L1253.1 764.4L1255.3 764.7L1257.5 765.0L1259.7 765.2L1261.9 765.5L1264.1 765.8L1266.2 766.0L1268.4 766.3L1270.6 766.6L1272.8 766.8L1275.0 767.1L1277.2 767.4L1279.3 767.7L1281.5 767.9L1283.7 768.2L1285.9 768.5L1288.1 768.7L1290.3 769.0L1292.4 769.3L1294.6 769.6L1296.8 769.8L1299.0 770.1L1301.2 770.4L1303.4 770.6L1305.5 770.9L1307.7 771.2L1309.9 771.4L1312.1 771.7L1314.3 772.0L1316.5 772.3L1318.6 772.5L1320.8 772.8L1323.0 773.1L1325.2 773.3L1327.4 773.6L1329.6 773.9L1331.7 774.1L1333.9 774.4L1336.1 774.7L1338.3 774.9L1340.5 775.2L1342.7 775.5L1344.8 775.7L1347.0 776.0L1349.2 776.3L1351.4 776.5L1353.6 776.8L1355.8 777.1L1357.9 777.3L1360.1 777.6L1362.3 777.8L1364.5 778.1L1366.7 778.4L1368.9 778.6L1371.1 778.9L1373.2 779.2L1375.4 779.4L1377.6 779.7L1379.8 779.9L1382.0 780.2L1384.2 780.4L1386.3 780.7L1388.5 780.9L1390.7 781.2L1392.9 781.4L1395.1 781.7L1397.3 782.0L1399.5 782.2L1401.6 782.4L1403.8 782.7L1406.0 782.9L1408.2 783.2L1410.4 783.4L1412.6 783.7L1414.8 783.9L1416.9 784.2L1419.1 784.4L1421.3 784.6L1423.5 784.9L1425.7 785.1L1427.9 785.4L1430.1 785.6L1432.3 785.8L1434.4 786.1L1436.6 786.3L1438.8 786.5L1441.0 786.8L1443.2 787.0L1445.4 787.2L1447.6 787.4L1449.8 787.7L1452.0 787.9L1454.1 788.1L1456.3 788.3L1458.5 788.5L1460.7 788.8L1462.9 789.0L1465.1 789.2L1467.3 789.4L1469.5 789.6L1471.7 789.8L1473.8 790.0L1476.0 790.2L1478.2 790.5L1480.4 790.7L1482.6 790.9L1484.8 791.1L1487.0 791.3L1489.2 791.5L1491.4 791.7L1493.6 791.9L1495.7 792.1L1497.9 792.3L1500.1 792.5L1502.3 792.7L1504.5 792.9L1506.7 793.1L1508.9 793.3L1511.1 793.4L1513.3 793.6L1515.5 793.8L1517.7 793.9L1519.9 794.1L1522.1 794.2L1524.3 794.3L1526.5 794.4L1528.7 793.9L1530.3 791.9L1531.6 790.3L1533.3 790.2L1534.9 792.7L1536.0 794.5L1537.2 795.8L1539.2 795.9L1541.4 795.9L1543.6 795.9L1545.8 796.0L1548.0 796.1L1550.1 796.3L1552.3 796.5L1554.5 796.7L1556.7 796.9L1558.9 797.1L1561.1 797.3L1563.3 797.5L1565.5 797.6L1567.7 797.8L1569.9 797.9L1572.1 798.1L1574.3 798.2L1576.5 798.4L1578.7 798.5L1580.9 798.7L1583.0 798.8L1585.2 799.0L1587.4 799.1L1589.6 799.3L1591.8 799.4L1594.0 799.6L1596.2 799.7L1598.4 799.8L1600.6 800.0L1602.8 800.1L1605.0 800.3L1607.2 800.4L1609.4 800.5L1611.6 800.7L1613.8 800.8L1616.0 800.9L1618.2 801.1L1620.4 801.2L1622.6 801.3L1624.8 801.4L1627.0 801.6L1629.2 801.7L1631.4 801.8L1633.5 801.9L1635.7 802.1L1637.9 802.2L1640.1 802.3L1642.3 802.4L1644.5 802.5L1646.7 802.7L1648.9 802.8L1651.1 802.9L1653.3 803.0L1655.5 803.1L1657.7 803.2L1659.9 803.3L1662.1 803.5L1664.3 803.6L1666.5 803.7L1668.7 803.8L1670.9 803.9L1673.1 804.0L1675.3 804.1L1677.5 804.2L1679.7 804.3L1681.9 804.4L1684.1 804.5L1686.3 804.6L1688.5 804.7L1690.7 804.8L1692.9 804.9L1695.1 805.0L1697.3 805.1L1699.5 805.2L1701.7 805.3L1703.9 805.4L1706.1 805.5L1708.3 805.6L1710.5 805.7L1712.7 805.8L1714.9 805.9L1717.1 805.9L1719.2 806.0L1721.4 806.1L1723.6 806.2L1725.8 806.3L1728.0 806.4L1730.2 806.5L1732.4 806.5L1734.6 806.6L1736.8 806.7L1739.0 806.8L1741.2 806.9L1743.4 807.0L1745.6 807.0L1747.8 807.1L1750.0 807.2L1752.2 807.3L1754.4 807.4L1756.6 807.4L1758.8 807.5L1761.0 807.6L1763.2 807.7L1765.4 807.7L1767.6 807.8L1769.8 807.9L1772.0 807.9L1774.2 808.0L1776.4 808.1L1778.6 808.2L1780.8 808.2L1783.0 808.3L1785.2 808.4L1787.4 808.4L1789.6 808.5L1791.8 808.6L1794.0 808.6L1796.2 808.7L1798.4 808.8L1800.6 808.8L1802.8 808.9L1805.0 808.9L1807.2 809.0L1809.4 809.1L1811.6 809.1L1813.8 809.2L1816.0 809.3L1818.2 809.3L1820.4 809.4L1822.6 809.4L1824.8 809.5L1827.0 809.5L1829.2 809.6L1831.4 809.7L1833.6 809.7L1835.8 809.8L1838.0 809.8L1840.2 809.9L1842.4 809.9L1844.6 810.0L1846.8 810.0L1849.0 810.1L1851.2 810.1L1853.4 810.2L1855.6 810.2L1857.8 810.3L1860.0 810.4L1862.2 810.4L1864.4 810.5L1866.6 810.5L1868.8 810.5L1871.0 810.6L1873.2 810.6L1875.4 810.7L1877.6 810.7L1879.8 810.8L1882.0 810.8L1884.2 810.9L1886.4 810.9L1888.6 811.0L1890.8 811.0L1893.0 811.1L1895.2 811.1L1897.4 811.2L1899.6 811.2L1901.8 811.2L1904.0 811.3L1906.2 811.3L1908.4 811.4L1910.6 811.4L1912.8 811.5L1915.0 811.5L1917.2 811.5L1919.4 811.6L1921.6 811.6L1923.8 811.7L1926.0 811.7L1928.2 811.7L1930.4 811.8L1932.6 811.8L1934.8 811.9L1937.0 811.9L1939.2 811.9L1941.4 812.0L1943.6 812.0L1945.8 812.1L1948.0 812.1L1950.2 812.1L1952.4 812.2L1954.6 812.2L1956.8 812.2L1959.0 812.3L1961.2 812.3L1963.4 812.3L1965.6 812.4L1967.8 812.4L1970.0 812.5L1972.2 812.5L1974.4 812.5L1976.6 812.6L1978.8 812.6L1981.0 812.6L1983.2 812.7L1985.4 812.7L1987.6 812.7L1989.8 812.8L1992.0 812.8L1994.2 812.9L1996.4 812.9L1998.6 812.9L2000.8 813.0L2003.0 813.0L2005.2 813.0L2007.4 813.1L2009.6 813.1L2011.8 813.1L2014.0 813.2L2016.2 813.2L2018.4 813.2L2020.6 813.3L2022.8 813.3L2025.0 813.3L2027.2 813.4L2029.4 813.4L2031.6 813.4L2033.8 813.5L2036.0 813.5L2038.2 813.5L2040.4 813.6L2042.6 813.6L2044.8 813.7L2047.0 813.7L2049.2 813.7L2051.4 813.8L2053.5 813.8L2055.7 813.8L2057.9 813.9L2060.1 813.9L2062.3 813.9L2064.5 814.0L2066.7 814.0L2068.9 814.0L2071.1 814.1L2073.3 814.1L2075.5 814.2L2077.7 814.2L2079.9 814.2L2082.1 814.3L2084.3 814.3L2086.5 814.3L2088.7 814.4L2090.9 814.4L2093.1 814.4L2095.3 814.5L2097.5 814.5L2099.7 814.6L2101.9 814.6L2104.1 814.6L2106.3 814.7L2108.5 814.7L2110.7 814.7L2111.6 814.8" stroke="#800000" stroke-width="12.0" stroke-opacity="0.45" stroke-dasharray="9 18 18 9 9 24 30 24 18 18 24 24 30 12 30 9 12 24 6 9 18 24 12 6 9 6 12 18 30 18 6 18 18 9 30 6 18 9 6 6 12 9 30 24 24 6 9 24 30 24 24 6 12 9 18 18 24 24 12 18 24 24 12 12 6 6 6 9 9 12 6 12 6 12 18 24 24 9 9 6"/>
<path d="M219.4 348.1L220.3 350.1L221.1 352.2L221.9 354.2L222.8 356.3L223.6 358.3L224.4 360.3L225.2 362.4L226.1 364.4L226.9 366.4L227.7 368.5L228.6 370.5L229.4 372.5L230.3 374.6L231.1 376.6L231.9 378.7L232.7 380.7L233.5 382.8L234.3 384.9L235.1 386.9L235.9 389.0L236.7 391.1L237.4 393.1L238.2 395.2L239.0 397.3L239.7 399.3L240.5 401.4L241.2 403.5L242.0 405.6L242.7 407.6L243.5 409.7L244.2 411.8L244.9 413.9L245.6 416.0L246.3 418.1L247.0 420.2L247.7 422.2L248.4 424.3L249.1 426.3L249.9 428.4L250.7 430.4L251.5 432.4L252.3 434.4L253.2 436.4L254.0 438.4L254.9 440.4L255.8 442.4L256.7 444.4L257.6 446.4L258.6 448.3L259.5 450.3L260.5 452.2L261.5 454.2L262.5 456.1L263.5 458.0L264.6 460.0L265.6 461.9L266.7 463.8L267.8 465.7L268.9 467.6L270.0 469.5L271.1 471.4L272.2 473.2L273.4 475.1L274.5 477.0L275.7 478.8L276.8 480.7L278.0 482.5L279.2 484.4L280.4 486.2L281.6 488.1L282.8 489.9L284.0 491.8L285.1 493.7L286.3 495.6L287.4 497.5L288.5 499.4L289.7 501.3L290.8 503.2L291.9 505.0L293.0 506.9L294.2 508.8L295.3 510.7L296.4 512.6L297.6 514.4L298.7 516.3L299.9 518.1L301.1 520.0L302.3 521.8L303.5 523.7L304.7 525.5L305.8 527.4L307.1 529.2L308.3 531.0L309.5 532.9L310.7 534.7L311.9 536.5L313.2 538.3L314.4 540.2L315.6 542.0L316.9 543.8L318.1 545.6L319.4 547.4L320.6 549.2L321.9 551.0L323.2 552.7L324.5 554.5L325.8 556.3L327.1 558.0L328.4 559.8L329.7 561.5L331.1 563.2L332.5 564.9L333.9 566.6L335.3 568.3L336.7 570.0L338.0 571.7L339.4 573.5L340.7 575.3L342.1 577.1L343.4 578.9L344.6 580.7L345.8 582.6L347.0 584.5L348.2 586.3L349.4 588.2L350.5 590.1L351.7 592.0L352.8 593.8L354.0 595.7L355.2 597.5L356.4 599.3L357.6 601.2L358.8 603.0L360.0 604.8L361.2 606.6L362.5 608.5L363.7 610.3L365.0 612.1L366.2 613.9L367.5 615.6L368.8 617.4L370.1 619.1L371.4 620.8L372.8 622.6L374.2 624.3L375.6 625.9L377.0 627.6L378.4 629.3L379.9 630.9L381.3 632.5L382.8 634.2L384.3 635.8L385.8 637.4L387.3 639.0L388.8 640.6L390.3 642.2L391.8 643.7L393.4 645.3L394.9 646.8L396.5 648.4L398.0 649.9L399.6 651.4L401.2 653.0L402.8 654.5L404.4 656.0L406.0 657.5L407.6 658.9L409.3 660.4L410.9 661.9L412.5 663.4L414.2 664.8L415.8 666.3L417.4 667.8L419.1 669.2L420.7 670.7L422.4 672.1L424.1 673.5L425.7 675.0L427.4 676.4L429.1 677.8L430.8 679.2L432.5 680.6L434.2 682.0L435.9 683.3L437.6 684.7L439.4 686.0L441.1 687.3L442.9 688.6L444.6 689.9L446.4 691.2L448.2 692.5L450.0 693.8L451.8 695.0L453.6 696.3L455.4 697.5L457.2 698.8L459.0 700.0L460.9 701.2L462.7 702.4L464.5 703.6L466.4 704.8L468.2 706.0L470.1 707.2L471.9 708.4L473.8 709.6L475.7 710.7L477.5 711.9L479.4 713.0L481.3 714.2L483.2 715.3L485.1 716.4L487.0 717.5L488.9 718.5L490.8 719.6L492.8 720.6L494.7 721.6L496.7 722.6L498.6 723.6L500.6 724.6L502.6 725.5L504.6 726.5L506.5 727.4L508.5 728.3L510.5 729.2L512.6 730.1L514.6 730.9L516.6 731.6L518.7 732.4L520.8 733.0L522.9 733.7L525.0 734.3L527.1 734.9L529.3 735.4L531.4 736.0L533.5 736.5L535.7 737.0L537.8 737.5L540.0 738.0L542.1 738.4L544.2 738.9L546.4 739.4L548.5 739.9L550.7 740.4L552.8 740.8L555.0 741.3L557.1 741.8L559.3 742.2L561.4 742.7L563.6 743.1L565.8 743.5L567.9 743.9L570.1 744.3L572.3 744.6L574.4 744.9L576.6 745.2L578.8 745.5L581.0 745.8L583.2 746.0L585.3 746.3L587.5 746.5L589.7 746.7L591.9 747.0L594.1 747.2L596.3 747.4L598.5 747.6L600.7 747.9L602.8 748.1L605.0 748.4L607.2 748.6L609.4 748.9L611.6 749.2L613.8 749.4L616.0 749.7L618.1 749.9L620.3 750.1L622.5 750.4L624.7 750.6L626.9 750.8L629.1 751.0L631.3 751.1L633.5 751.3L635.7 751.5L637.9 751.7L640.0 751.8L642.2 752.0L644.4 752.1L646.6 752.3L648.8 752.4L651.0 752.5L653.2 752.7L655.4 752.8L657.6 752.9L659.8 753.0L662.0 753.1L664.2 753.2L666.4 753.3L668.6 753.3L670.8 753.4L673.0 753.5L675.2 753.6L677.4 753.6L679.6 753.7L681.8 753.7L684.0 753.7L686.2 753.7L688.4 753.7L690.6 753.8L692.8 753.8L695.0 753.8L697.2 753.8L699.4 753.8L701.6 753.8L703.8 753.8L706.0 753.9L708.2 753.9L710.4 753.8L712.6 753.8L714.8 753.8L717.0 753.8L719.2 753.7L721.4 753.7L723.6 753.7L725.8 753.6L728.0 753.6L730.2 753.5L732.4 753.5L734.6 753.4L736.8 753.3L739.0 753.3L741.2 753.2L743.4 753.2L745.6 753.1L747.8 753.0L750.0 752.9L752.2 752.8L754.4 752.7L756.6 752.7L758.8 752.6L761.0 752.5L763.2 752.4L765.4 752.3L767.6 752.2L769.8 752.1L772.0 752.0L774.2 751.9L776.4 751.8L778.6 751.6L780.8 751.5L783.0 751.4L785.2 751.3L787.3 751.2L789.5 751.1L791.7 750.9L793.9 750.8L796.1 750.7L798.3 750.6L800.5 750.5L802.7 750.3L804.9 750.2L807.1 750.1L809.3 749.9L811.5 749.8L813.7 749.7L815.9 749.5L818.1 749.4L820.3 749.3L822.5 749.2L824.7 749.0L826.9 748.9L829.1 748.8L831.3 748.6L833.5 748.5L835.7 748.3L837.9 748.2L840.1 748.1L842.3 748.0L844.4 747.8L846.6 747.7L848.8 747.6L851.0 747.4L853.2 747.3L855.4 747.2L857.6 747.0L859.8 746.9L862.0 746.8L864.2 746.7L866.4 746.5L868.6 746.4L870.8 746.3L873.0 746.2L875.2 746.1L877.4 745.9L879.6 745.8L881.8 745.7L884.0 745.6L886.2 745.5L888.4 745.4L890.6 745.3L892.8 745.2L895.0 745.1L897.2 745.0L899.4 744.9L901.6 744.8L903.8 744.7L906.0 744.6L908.2 744.5L910.4 744.4L912.6 744.3L914.8 744.2L917.0 744.2L919.2 744.1L921.4 744.0L923.6 744.0L925.7 743.9L927.9 743.8L930.1 743.8L932.3 743.7L934.5 743.7L936.7 743.6L938.9 743.6L941.1 743.5L943.3 743.5L945.5 743.5L947.7 743.4L949.9 743.4L952.1 743.4L954.3 743.4L956.5 743.4L958.7 743.4L960.9 743.4L963.1 743.4L965.3 743.4L967.5 743.5L969.7 743.5L971.9 743.5L974.1 743.5L976.3 743.5L978.5 743.5L980.7 743.5L982.9 743.6L985.1 743.6L987.3 743.7L989.5 743.8L991.7 743.8L993.9 743.9L996.1 744.0L998.3 744.1L1000.5 744.2L1002.7 744.3L1004.9 744.4L1007.1 744.6L1009.3 744.7L1011.5 744.9L1013.7 745.1L1015.9 745.3L1018.1 745.5L1020.3 745.6L1022.5 745.8L1024.7 746.0L1026.9 746.2L1029.0 746.4L1031.2 746.7L1033.4 746.9L1035.6 747.2L1037.8 747.4L1040.0 747.7L1042.2 747.9L1044.4 748.2L1046.5 748.4L1048.7 748.7L1050.9 748.9L1053.1 749.1L1055.3 749.3L1057.5 749.5L1059.7 749.6L1061.9 749.8L1064.1 750.0L1066.3 750.1L1068.4 750.3L1070.6 750.5L1072.8 750.6L1075.0 750.8L1077.2 751.0L1079.4 751.2L1081.6 751.4L1083.8 751.6L1086.0 751.7L1088.2 751.9L1090.4 752.1L1092.6 752.3L1094.8 752.5L1096.9 752.7L1099.1 752.9L1101.3 753.1L1103.5 753.3L1105.7 753.5L1107.9 753.7L1110.1 753.9L1112.3 754.2L1114.5 754.4L1116.7 754.6L1118.9 754.8L1121.0 755.0L1123.2 755.2L1125.4 755.5L1127.6 755.7L1129.8 755.9L1132.0 756.1L1134.2 756.3L1136.4 756.6L1138.6 756.8L1140.7 757.0L1142.9 757.2L1145.1 757.5L1147.3 757.7L1149.5 757.9L1151.7 758.2L1153.9 758.4L1156.1 758.7L1158.2 758.9L1160.4 759.1L1162.6 759.4L1164.8 759.6L1167.0 759.8L1169.2 760.1L1171.4 760.3L1173.5 760.6L1175.7 760.8L1177.9 761.1L1180.1 761.3L1182.3 761.6L1184.5 761.8L1186.7 762.1L1188.9 762.3L1191.0 762.6L1193.2 762.8L1195.4 763.1L1197.6 763.3L1199.8 763.6L1202.0 763.8L1204.1 764.1L1206.3 764.4L1208.5 764.6L1210.7 764.9L1212.9 765.1L1215.1 765.4L1217.3 765.7L1219.4 765.9L1221.6 766.2L1223.8 766.4L1226.0 766.7L1228.2 767.0L1230.4 767.2L1232.5 767.5L1234.7 767.8L1236.9 768.0L1239.1 768.3L1241.3 768.6L1243.5 768.8L1245.6 769.1L1247.8 769.4L1250.0 769.6L1252.2 769.9L1254.4 770.2L1256.6 770.4L1258.8 770.7L1260.9 771.0L1263.1 771.2L1265.3 771.5L1267.5 771.8L1269.7 772.0L1271.9 772.3L1274.0 772.6L1276.2 772.9L1278.4 773.1L1280.6 773.4L1282.8 773.7L1285.0 773.9L1287.1 774.2L1289.3 774.5L1291.5 774.8L1293.7 775.0L1295.9 775.3L1298.1 775.6L1300.2 775.8L1302.4 776.1L1304.6 776.4L1306.8 776.6L1309.0 776.9L1311.2 777.2L1313.3 777.5L1315.5 777.7L1317.7 778.0L1319.9 778.3L1322.1 778.5L1324.3 778.8L1326.4 779.1L1328.6 779.3L1330.8 779.6L1333.0 779.9L1335.2 780.1L1337.4 780.4L1339.5 780.7L1341.7 780.9L1343.9 781.2L1346.1 781.5L1348.3 781.7L1350.5 782.0L1352.6 782.3L1354.8 782.5L1357.0 782.8L1359.2 783.0L1361.4 783.3L1363.6 783.6L1365.7 783.8L1367.9 784.1L1370.1 784.4L1372.3 784.6L1374.5 784.9L1376.7 785.1L1378.9 785.4L1381.0 785.6L1383.2 785.9L1385.4 786.1L1387.6 786.4L1389.8 786.6L1392.0 786.9L1394.2 787.2L1396.3 787.4L1398.5 787.6L1400.7 787.9L1402.9 788.1L1405.1 788.4L1407.3 788.6L1409.5 788.9L1411.6 789.1L1413.8 789.4L1416.0 789.6L1418.2 789.8L1420.4 790.1L1422.6 790.3L1424.8 790.6L1427.0 790.8L1429.1 791.0L1431.3 791.3L1433.5 791.5L1435.7 791.7L1437.9 792.0L1440.1 792.2L1442.3 792.4L1444.5 792.6L1446.6 792.9L1448.8 793.1L1451.0 793.3L1453.2 793.5L1455.4 793.7L1457.6 794.0L1459.8 794.2L1462.0 794.4L1464.2 794.6L1466.3 794.8L1468.5 795.0L1470.7 795.2L1472.9 795.4L1475.1 795.7L1477.3 795.9L1479.5 796.1L1481.7 796.3L1483.9 796.5L1486.1 796.7L1488.2 796.9L1490.4 797.1L1492.6 797.3L1494.8 797.5L1497.0 797.7L1499.2 797.9L1501.4 798.1L1503.6 798.3L1505.8 798.5L1508.0 798.6L1510.2 798.8L1512.4 799.0L1514.5 799.1L1516.7 799.3L1518.9 799.4L1521.1 799.5L1523.3 799.6L1525.5 799.1L1527.1 797.1L1528.5 795.5L1530.1 795.4L1531.8 797.9L1532.9 799.7L1534.1 801.0L1536.0 801.1L1538.2 801.1L1540.4 801.1L1542.6 801.2L1544.8 801.3L1547.0 801.5L1549.2 801.7L1551.4 801.9L1553.6 802.1L1555.8 802.3L1558.0 802.5L1560.2 802.7L1562.4 802.8L1564.6 803.0L1566.8 803.1L1569.0 803.3L1571.1 803.4L1573.3 803.6L1575.5 803.7L1577.7 803.9L1579.9 804.0L1582.1 804.2L1584.3 804.3L1586.5 804.5L1588.7 804.6L1590.9 804.8L1593.1 804.9L1595.3 805.0L1597.5 805.2L1599.7 805.3L1601.9 805.5L1604.1 805.6L1606.3 805.7L1608.5 805.9L1610.7 806.0L1612.9 806.1L1615.1 806.3L1617.3 806.4L1619.4 806.5L1621.6 806.6L1623.8 806.8L1626.0 806.9L1628.2 807.0L1630.4 807.1L1632.6 807.3L1634.8 807.4L1637.0 807.5L1639.2 807.6L1641.4 807.7L1643.6 807.9L1645.8 808.0L1648.0 808.1L1650.2 808.2L1652.4 808.3L1654.6 808.4L1656.8 808.5L1659.0 808.7L1661.2 808.8L1663.4 808.9L1665.6 809.0L1667.8 809.1L1670.0 809.2L1672.2 809.3L1674.4 809.4L1676.6 809.5L1678.8 809.6L1681.0 809.7L1683.2 809.8L1685.4 809.9L1687.6 810.0L1689.8 810.1L1692.0 810.2L1694.1 810.3L1696.3 810.4L1698.5 810.5L1700.7 810.6L1702.9 810.7L1705.1 810.8L1707.3 810.9L1709.5 811.0L1711.7 811.1L1713.9 811.1L1716.1 811.2L1718.3 811.3L1720.5 811.4L1722.7 811.5L1724.9 811.6L1727.1 811.7L1729.3 811.7L1731.5 811.8L1733.7 811.9L1735.9 812.0L1738.1 812.1L1740.3 812.2L1742.5 812.2L1744.7 812.3L1746.9 812.4L1749.1 812.5L1751.3 812.6L1753.5 812.6L1755.7 812.7L1757.9 812.8L1760.1 812.9L1762.3 812.9L1764.5 813.0L1766.7 813.1L1768.9 813.1L1771.1 813.2L1773.3 813.3L1775.5 813.4L1777.7 813.4L1779.9 813.5L1782.1 813.6L1784.3 813.6L1786.5 813.7L1788.7 813.8L1790.9 813.8L1793.1 813.9L1795.3 814.0L1797.5 814.0L1799.7 814.1L1801.9 814.1L1804.1 814.2L1806.3 814.3L1808.5 814.3L1810.7 814.4L1812.9 814.5L1815.1 814.5L1817.3 814.6L1819.5 814.6L1821.7 814.7L1823.9 814.7L1826.1 814.8L1828.3 814.9L1830.5 814.9L1832.7 815.0L1834.9 815.0L1837.1 815.1L1839.3 815.1L1841.5 815.2L1843.7 815.2L1845.9 815.3L1848.1 815.3L1850.3 815.4L1852.5 815.4L1854.7 815.5L1856.9 815.6L1859.1 815.6L1861.3 815.7L1863.5 815.7L1865.7 815.7L1867.9 815.8L1870.1 815.8L1872.3 815.9L1874.5 815.9L1876.7 816.0L1878.9 816.0L1881.1 816.1L1883.3 816.1L1885.5 816.2L1887.7 816.2L1889.9 816.3L1892.1 816.3L1894.3 816.4L1896.5 816.4L1898.7 816.4L1900.9 816.5L1903.1 816.5L1905.3 816.6L1907.4 816.6L1909.6 816.7L1911.8 816.7L1914.0 816.7L1916.2 816.8L1918.4 816.8L1920.6 816.9L1922.8 816.9L1925.0 816.9L1927.2 817.0L1929.4 817.0L1931.6 817.1L1933.8 817.1L1936.0 817.1L1938.2 817.2L1940.4 817.2L1942.6 817.3L1944.8 817.3L1947.0 817.3L1949.2 817.4L1951.4 817.4L1953.6 817.4L1955.8 817.5L1958.0 817.5L1960.2 817.5L1962.4 817.6L1964.6 817.6L1966.8 817.7L1969.0 817.7L1971.2 817.7L1973.4 817.8L1975.6 817.8L1977.8 817.8L1980.0 817.9L1982.2 817.9L1984.4 817.9L1986.6 818.0L1988.8 818.0L1991.0 818.1L1993.2 818.1L1995.4 818.1L1997.6 818.2L1999.8 818.2L2002.0 818.2L2004.2 818.3L2006.4 818.3L2008.6 818.3L2010.8 818.4L2013.0 818.4L2015.2 818.4L2017.4 818.5L2019.6 818.5L2021.8 818.5L2024.0 818.6L2026.2 818.6L2028.4 818.6L2030.6 818.7L2032.8 818.7L2035.0 818.7L2037.2 818.8L2039.4 818.8L2041.6 818.9L2043.8 818.9L2046.0 818.9L2048.2 819.0L2050.4 819.0L2052.6 819.0L2054.8 819.1L2057.0 819.1L2059.2 819.1L2061.4 819.2L2063.6 819.2L2065.8 819.2L2068.0 819.3L2070.2 819.3L2072.4 819.4L2074.6 819.4L2076.8 819.4L2079.0 819.5L2081.2 819.5L2083.4 819.5L2085.6 819.6L2087.8 819.6L2090.0 819.6L2092.2 819.7L2094.4 819.7L2096.6 819.8L2098.8 819.8L2101.0 819.8L2103.2 819.9L2105.4 819.9L2107.6 819.9L2108.4 820.0" stroke="#800000" stroke-width="12.0" stroke-opacity="0.45" stroke-dasharray="24 24 12 6 9 6 9 12 12 6 6 24 30 24 6 24 24 24 9 9 9 24 12 18 24 9 9 12 6 9 12 9 24 24 12 6 12 9 12 24 12 12 30 24 18 12 6 24 9 18 12 6 9 18 24 6 18 12 12 9 24 12 6 9 24 6 12 6 12 12 12 18 12 24 12 24 18 9 9 6"/>
<path d="M221.0 345.5L221.8 347.5L222.7 349.6L223.5 351.6L224.3 353.7L225.1 355.7L226.0 357.7L226.8 359.8L227.6 361.8L228.5 363.8L229.3 365.9L230.1 367.9L231.0 369.9L231.8 372.0L232.7 374.0L233.5 376.1L234.3 378.1L235.1 380.2L235.9 382.3L236.7 384.3L237.5 386.4L238.2 388.5L239.0 390.5L239.8 392.6L240.5 394.7L241.3 396.7L242.0 398.8L242.8 400.9L243.5 403.0L244.3 405.0L245.0 407.1L245.7 409.2L246.4 411.3L247.1 413.4L247.8 415.5L248.5 417.6L249.2 419.6L250.0 421.7L250.7 423.7L251.5 425.8L252.2 427.8L253.1 429.8L253.9 431.8L254.7 433.8L255.6 435.8L256.5 437.8L257.4 439.8L258.3 441.8L259.2 443.8L260.1 445.7L261.1 447.7L262.1 449.6L263.1 451.6L264.1 453.5L265.1 455.4L266.1 457.4L267.2 459.3L268.3 461.2L269.4 463.1L270.4 465.0L271.6 466.9L272.7 468.8L273.8 470.6L274.9 472.5L276.1 474.4L277.2 476.2L278.4 478.1L279.6 479.9L280.8 481.8L282.0 483.6L283.2 485.5L284.3 487.3L285.5 489.2L286.7 491.1L287.8 493.0L289.0 494.9L290.1 496.8L291.2 498.7L292.3 500.6L293.5 502.4L294.6 504.3L295.7 506.2L296.8 508.1L298.0 510.0L299.1 511.8L300.3 513.7L301.5 515.5L302.7 517.4L303.8 519.2L305.0 521.1L306.2 522.9L307.4 524.8L308.6 526.6L309.8 528.4L311.0 530.3L312.3 532.1L313.5 533.9L314.7 535.7L315.9 537.6L317.2 539.4L318.4 541.2L319.7 543.0L320.9 544.8L322.2 546.6L323.5 548.4L324.7 550.1L326.0 551.9L327.3 553.7L328.6 555.4L330.0 557.2L331.3 558.9L332.7 560.6L334.1 562.3L335.4 564.0L336.8 565.7L338.2 567.4L339.6 569.1L341.0 570.9L342.3 572.7L343.6 574.5L344.9 576.3L346.2 578.1L347.4 580.0L348.6 581.9L349.8 583.7L350.9 585.6L352.1 587.5L353.2 589.4L354.4 591.2L355.5 593.1L356.7 594.9L357.9 596.7L359.1 598.6L360.4 600.4L361.6 602.2L362.8 604.0L364.0 605.9L365.3 607.7L366.5 609.5L367.8 611.3L369.1 613.0L370.3 614.8L371.7 616.5L373.0 618.2L374.4 620.0L375.7 621.7L377.1 623.3L378.5 625.0L380.0 626.7L381.4 628.3L382.9 629.9L384.3 631.6L385.8 633.2L387.3 634.8L388.8 636.4L390.3 638.0L391.9 639.6L393.4 641.1L394.9 642.7L396.5 644.2L398.0 645.8L399.6 647.3L401.2 648.8L402.8 650.4L404.4 651.9L406.0 653.4L407.6 654.9L409.2 656.3L410.8 657.8L412.4 659.3L414.1 660.8L415.7 662.2L417.4 663.7L419.0 665.2L420.6 666.6L422.3 668.1L424.0 669.5L425.6 670.9L427.3 672.4L429.0 673.8L430.6 675.2L432.3 676.6L434.0 678.0L435.7 679.4L437.5 680.7L439.2 682.1L440.9 683.4L442.7 684.7L444.4 686.0L446.2 687.3L448.0 688.6L449.8 689.9L451.5 691.2L453.3 692.4L455.2 693.7L457.0 694.9L458.8 696.2L460.6 697.4L462.4 698.6L464.3 699.8L466.1 701.0L468.0 702.2L469.8 703.4L471.7 704.6L473.5 705.8L475.4 707.0L477.2 708.1L479.1 709.3L481.0 710.4L482.8 711.6L484.7 712.7L486.6 713.8L488.5 714.9L490.5 715.9L492.4 717.0L494.3 718.0L496.3 719.0L498.2 720.0L500.2 721.0L502.2 722.0L504.1 722.9L506.1 723.9L508.1 724.8L510.1 725.7L512.1 726.6L514.1 727.5L516.2 728.3L518.2 729.0L520.3 729.8L522.4 730.4L524.5 731.1L526.6 731.7L528.7 732.3L530.8 732.8L532.9 733.4L535.1 733.9L537.2 734.4L539.4 734.9L541.5 735.4L543.7 735.8L545.8 736.3L548.0 736.8L550.1 737.3L552.2 737.8L554.4 738.2L556.5 738.7L558.7 739.2L560.8 739.6L563.0 740.1L565.2 740.5L567.3 740.9L569.5 741.3L571.6 741.7L573.8 742.0L576.0 742.3L578.2 742.6L580.3 742.9L582.5 743.2L584.7 743.4L586.9 743.7L589.1 743.9L591.3 744.1L593.5 744.4L595.7 744.6L597.8 744.8L600.0 745.0L602.2 745.3L604.4 745.5L606.6 745.8L608.8 746.0L611.0 746.3L613.1 746.6L615.3 746.8L617.5 747.1L619.7 747.3L621.9 747.5L624.1 747.8L626.3 748.0L628.5 748.2L630.6 748.4L632.8 748.5L635.0 748.7L637.2 748.9L639.4 749.1L641.6 749.2L643.8 749.4L646.0 749.5L648.2 749.7L650.4 749.8L652.6 749.9L654.8 750.1L657.0 750.2L659.2 750.3L661.4 750.4L663.6 750.5L665.8 750.6L668.0 750.7L670.2 750.7L672.4 750.8L674.6 750.9L676.8 751.0L679.0 751.0L681.2 751.1L683.4 751.1L685.6 751.1L687.8 751.1L690.0 751.1L692.2 751.2L694.4 751.2L696.6 751.2L698.8 751.2L701.0 751.2L703.2 751.2L705.4 751.2L707.6 751.3L709.8 751.3L712.0 751.2L714.2 751.2L716.4 751.2L718.6 751.2L720.8 751.1L723.0 751.1L725.2 751.1L727.4 751.0L729.6 751.0L731.8 750.9L734.0 750.9L736.2 750.8L738.4 750.7L740.6 750.7L742.8 750.6L745.0 750.6L747.2 750.5L749.3 750.4L751.5 750.3L753.7 750.2L755.9 750.1L758.1 750.1L760.3 750.0L762.5 749.9L764.7 749.8L766.9 749.7L769.1 749.6L771.3 749.5L773.5 749.4L775.7 749.3L777.9 749.2L780.1 749.0L782.3 748.9L784.5 748.8L786.7 748.7L788.9 748.6L791.1 748.5L793.3 748.3L795.5 748.2L797.7 748.1L799.9 748.0L802.1 747.9L804.3 747.7L806.5 747.6L808.7 747.5L810.9 747.3L813.1 747.2L815.3 747.1L817.5 746.9L819.7 746.8L821.9 746.7L824.0 746.6L826.2 746.4L828.4 746.3L830.6 746.2L832.8 746.0L835.0 745.9L837.2 745.7L839.4 745.6L841.6 745.5L843.8 745.4L846.0 745.2L848.2 745.1L850.4 745.0L852.6 744.8L854.8 744.7L857.0 744.6L859.2 744.4L861.4 744.3L863.6 744.2L865.8 744.1L868.0 743.9L870.2 743.8L872.4 743.7L874.6 743.6L876.8 743.5L879.0 743.3L881.2 743.2L883.3 743.1L885.5 743.0L887.7 742.9L889.9 742.8L892.1 742.7L894.3 742.6L896.5 742.5L898.7 742.4L900.9 742.3L903.1 742.2L905.3 742.1L907.5 742.0L909.7 741.9L911.9 741.8L914.1 741.7L916.3 741.6L918.5 741.6L920.7 741.5L922.9 741.4L925.1 741.4L927.3 741.3L929.5 741.2L931.7 741.2L933.9 741.1L936.1 741.1L938.3 741.0L940.5 741.0L942.7 740.9L944.9 740.9L947.1 740.9L949.3 740.8L951.5 740.8L953.7 740.8L955.9 740.8L958.1 740.8L960.3 740.8L962.5 740.8L964.7 740.8L966.9 740.8L969.1 740.9L971.3 740.9L973.5 740.9L975.7 740.9L977.9 740.9L980.1 740.9L982.3 740.9L984.5 741.0L986.7 741.0L988.9 741.1L991.1 741.2L993.3 741.2L995.5 741.3L997.7 741.4L999.9 741.5L1002.1 741.6L1004.3 741.7L1006.5 741.8L1008.7 742.0L1010.9 742.1L1013.1 742.3L1015.3 742.5L1017.5 742.7L1019.7 742.9L1021.8 743.0L1024.0 743.2L1026.2 743.4L1028.4 743.6L1030.6 743.8L1032.8 744.1L1035.0 744.3L1037.2 744.6L1039.4 744.8L1041.5 745.1L1043.7 745.3L1045.9 745.6L1048.1 745.8L1050.3 746.1L1052.5 746.3L1054.7 746.5L1056.9 746.7L1059.0 746.9L1061.2 747.0L1063.4 747.2L1065.6 747.4L1067.8 747.5L1070.0 747.7L1072.2 747.9L1074.4 748.0L1076.6 748.2L1078.8 748.4L1081.0 748.6L1083.2 748.8L1085.4 749.0L1087.6 749.1L1089.7 749.3L1091.9 749.5L1094.1 749.7L1096.3 749.9L1098.5 750.1L1100.7 750.3L1102.9 750.5L1105.1 750.7L1107.3 750.9L1109.5 751.1L1111.7 751.3L1113.8 751.6L1116.0 751.8L1118.2 752.0L1120.4 752.2L1122.6 752.4L1124.8 752.6L1127.0 752.9L1129.2 753.1L1131.4 753.3L1133.5 753.5L1135.7 753.7L1137.9 754.0L1140.1 754.2L1142.3 754.4L1144.5 754.6L1146.7 754.9L1148.9 755.1L1151.1 755.3L1153.2 755.6L1155.4 755.8L1157.6 756.1L1159.8 756.3L1162.0 756.5L1164.2 756.8L1166.4 757.0L1168.5 757.2L1170.7 757.5L1172.9 757.7L1175.1 758.0L1177.3 758.2L1179.5 758.5L1181.7 758.7L1183.9 759.0L1186.0 759.2L1188.2 759.5L1190.4 759.7L1192.6 760.0L1194.8 760.2L1197.0 760.5L1199.2 760.7L1201.3 761.0L1203.5 761.2L1205.7 761.5L1207.9 761.8L1210.1 762.0L1212.3 762.3L1214.4 762.5L1216.6 762.8L1218.8 763.1L1221.0 763.3L1223.2 763.6L1225.4 763.8L1227.6 764.1L1229.7 764.4L1231.9 764.6L1234.1 764.9L1236.3 765.2L1238.5 765.4L1240.7 765.7L1242.8 766.0L1245.0 766.2L1247.2 766.5L1249.4 766.8L1251.6 767.0L1253.8 767.3L1255.9 767.6L1258.1 767.8L1260.3 768.1L1262.5 768.4L1264.7 768.6L1266.9 768.9L1269.0 769.2L1271.2 769.4L1273.4 769.7L1275.6 770.0L1277.8 770.3L1280.0 770.5L1282.1 770.8L1284.3 771.1L1286.5 771.3L1288.7 771.6L1290.9 771.9L1293.1 772.2L1295.2 772.4L1297.4 772.7L1299.6 773.0L1301.8 773.2L1304.0 773.5L1306.2 773.8L1308.3 774.0L1310.5 774.3L1312.7 774.6L1314.9 774.9L1317.1 775.1L1319.3 775.4L1321.4 775.7L1323.6 775.9L1325.8 776.2L1328.0 776.5L1330.2 776.7L1332.4 777.0L1334.5 777.3L1336.7 777.5L1338.9 777.8L1341.1 778.1L1343.3 778.3L1345.5 778.6L1347.6 778.9L1349.8 779.1L1352.0 779.4L1354.2 779.7L1356.4 779.9L1358.6 780.2L1360.8 780.4L1362.9 780.7L1365.1 781.0L1367.3 781.2L1369.5 781.5L1371.7 781.8L1373.9 782.0L1376.0 782.3L1378.2 782.5L1380.4 782.8L1382.6 783.0L1384.8 783.3L1387.0 783.5L1389.2 783.8L1391.3 784.0L1393.5 784.3L1395.7 784.6L1397.9 784.8L1400.1 785.0L1402.3 785.3L1404.5 785.5L1406.6 785.8L1408.8 786.0L1411.0 786.3L1413.2 786.5L1415.4 786.8L1417.6 787.0L1419.8 787.2L1421.9 787.5L1424.1 787.7L1426.3 788.0L1428.5 788.2L1430.7 788.4L1432.9 788.7L1435.1 788.9L1437.3 789.1L1439.4 789.4L1441.6 789.6L1443.8 789.8L1446.0 790.0L1448.2 790.3L1450.4 790.5L1452.6 790.7L1454.8 790.9L1457.0 791.1L1459.1 791.4L1461.3 791.6L1463.5 791.8L1465.7 792.0L1467.9 792.2L1470.1 792.4L1472.3 792.6L1474.5 792.8L1476.7 793.1L1478.9 793.3L1481.0 793.5L1483.2 793.7L1485.4 793.9L1487.6 794.1L1489.8 794.3L1492.0 794.5L1494.2 794.7L1496.4 794.9L1498.6 795.1L1500.8 795.3L1502.9 795.5L1505.1 795.7L1507.3 795.9L1509.5 796.0L1511.7 796.2L1513.9 796.4L1516.1 796.5L1518.3 796.7L1520.5 796.8L1522.7 796.9L1524.9 797.0L1527.1 796.5L1528.7 794.5L1530.0 792.9L1531.7 792.8L1533.4 795.3L1534.4 797.1L1535.6 798.4L1537.6 798.5L1539.8 798.5L1542.0 798.5L1544.2 798.6L1546.4 798.7L1548.6 798.9L1550.8 799.1L1553.0 799.3L1555.2 799.5L1557.3 799.7L1559.5 799.9L1561.7 800.1L1563.9 800.2L1566.1 800.4L1568.3 800.5L1570.5 800.7L1572.7 800.8L1574.9 801.0L1577.1 801.1L1579.3 801.3L1581.5 801.4L1583.7 801.6L1585.9 801.7L1588.1 801.9L1590.3 802.0L1592.5 802.2L1594.7 802.3L1596.9 802.4L1599.0 802.6L1601.2 802.7L1603.4 802.9L1605.6 803.0L1607.8 803.1L1610.0 803.3L1612.2 803.4L1614.4 803.5L1616.6 803.7L1618.8 803.8L1621.0 803.9L1623.2 804.0L1625.4 804.2L1627.6 804.3L1629.8 804.4L1632.0 804.5L1634.2 804.7L1636.4 804.8L1638.6 804.9L1640.8 805.0L1643.0 805.1L1645.2 805.3L1647.4 805.4L1649.6 805.5L1651.8 805.6L1654.0 805.7L1656.2 805.8L1658.4 805.9L1660.5 806.1L1662.7 806.2L1664.9 806.3L1667.1 806.4L1669.3 806.5L1671.5 806.6L1673.7 806.7L1675.9 806.8L1678.1 806.9L1680.3 807.0L1682.5 807.1L1684.7 807.2L1686.9 807.3L1689.1 807.4L1691.3 807.5L1693.5 807.6L1695.7 807.7L1697.9 807.8L1700.1 807.9L1702.3 808.0L1704.5 808.1L1706.7 808.2L1708.9 808.3L1711.1 808.4L1713.3 808.5L1715.5 808.5L1717.7 808.6L1719.9 808.7L1722.1 808.8L1724.3 808.9L1726.5 809.0L1728.7 809.1L1730.9 809.1L1733.1 809.2L1735.3 809.3L1737.5 809.4L1739.7 809.5L1741.9 809.6L1744.1 809.6L1746.3 809.7L1748.5 809.8L1750.7 809.9L1752.9 810.0L1755.1 810.0L1757.3 810.1L1759.5 810.2L1761.7 810.3L1763.9 810.3L1766.1 810.4L1768.3 810.5L1770.5 810.5L1772.7 810.6L1774.9 810.7L1777.1 810.8L1779.3 810.8L1781.4 810.9L1783.6 811.0L1785.8 811.0L1788.0 811.1L1790.2 811.2L1792.4 811.2L1794.6 811.3L1796.8 811.4L1799.0 811.4L1801.2 811.5L1803.4 811.5L1805.6 811.6L1807.8 811.7L1810.0 811.7L1812.2 811.8L1814.4 811.9L1816.6 811.9L1818.8 812.0L1821.0 812.0L1823.2 812.1L1825.4 812.1L1827.6 812.2L1829.8 812.3L1832.0 812.3L1834.2 812.4L1836.4 812.4L1838.6 812.5L1840.8 812.5L1843.0 812.6L1845.2 812.6L1847.4 812.7L1849.6 812.7L1851.8 812.8L1854.0 812.8L1856.2 812.9L1858.4 813.0L1860.6 813.0L1862.8 813.1L1865.0 813.1L1867.2 813.1L1869.4 813.2L1871.6 813.2L1873.8 813.3L1876.0 813.3L1878.2 813.4L1880.4 813.4L1882.6 813.5L1884.8 813.5L1887.0 813.6L1889.2 813.6L1891.4 813.7L1893.6 813.7L1895.8 813.8L1898.0 813.8L1900.2 813.8L1902.4 813.9L1904.6 813.9L1906.8 814.0L1909.0 814.0L1911.2 814.1L1913.4 814.1L1915.6 814.1L1917.8 814.2L1920.0 814.2L1922.2 814.3L1924.4 814.3L1926.6 814.3L1928.8 814.4L1931.0 814.4L1933.2 814.5L1935.4 814.5L1937.6 814.5L1939.8 814.6L1942.0 814.6L1944.2 814.7L1946.4 814.7L1948.6 814.7L1950.8 814.8L1953.0 814.8L1955.2 814.8L1957.4 814.9L1959.6 814.9L1961.8 814.9L1964.0 815.0L1966.2 815.0L1968.4 815.1L1970.6 815.1L1972.8 815.1L1975.0 815.2L1977.2 815.2L1979.4 815.2L1981.6 815.3L1983.8 815.3L1986.0 815.3L1988.2 815.4L1990.4 815.4L1992.6 815.5L1994.8 815.5L1997.0 815.5L1999.2 815.6L2001.4 815.6L2003.6 815.6L2005.8 815.7L2008.0 815.7L2010.2 815.7L2012.4 815.8L2014.6 815.8L2016.8 815.8L2019.0 815.9L2021.2 815.9L2023.4 815.9L2025.6 816.0L2027.8 816.0L2030.0 816.0L2032.2 816.1L2034.4 816.1L2036.6 816.1L2038.8 816.2L2041.0 816.2L2043.2 816.3L2045.4 816.3L2047.6 816.3L2049.8 816.4L2052.0 816.4L2054.2 816.4L2056.4 816.5L2058.6 816.5L2060.8 816.5L2063.0 816.6L2065.2 816.6L2067.4 816.6L2069.6 816.7L2071.8 816.7L2074.0 816.8L2076.2 816.8L2078.4 816.8L2080.6 816.9L2082.8 816.9L2085.0 816.9L2087.2 817.0L2089.4 817.0L2091.6 817.0L2093.8 817.1L2096.0 817.1L2098.2 817.2L2100.4 817.2L2102.6 817.2L2104.8 817.3L2107.0 817.3L2109.2 817.3L2110.0 817.4" stroke="#800000" stroke-width="12.0"/>
<path d="M222.6 105.5L223.4 107.5L224.2 109.6L225.0 111.6L225.9 113.7L226.7 115.7L227.5 117.7L228.4 119.8L229.2 121.8L230.0 123.8L230.9 125.8L231.8 127.8L232.6 129.9L233.5 131.9L234.3 134.0L235.1 136.1L235.9 138.2L236.6 140.4L237.3 142.6L237.9 144.7L238.6 146.8L239.2 148.8L239.9 150.9L240.6 153.0L241.2 155.0L241.9 157.1L242.6 159.2L243.3 161.3L244.1 163.3L244.8 165.3L245.6 167.4L246.3 169.4L247.1 171.5L247.9 173.5L248.7 175.5L249.6 177.5L250.4 179.5L251.3 181.6L252.1 183.6L253.0 185.6L253.9 187.6L254.8 189.5L255.7 191.5L256.6 193.5L257.6 195.5L258.5 197.4L259.5 199.4L260.5 201.3L261.5 203.3L262.5 205.2L263.6 207.1L264.7 209.0L265.8 210.9L266.9 212.8L268.0 214.7L269.1 216.6L270.2 218.5L271.3 220.4L272.4 222.3L273.5 224.3L274.5 226.2L275.6 228.1L276.7 230.0L277.6 231.4L281.1 238.9L281.3 227.6L290.9 227.6L292.2 262.9L292.8 253.6L301.3 253.6L301.9 163.4L302.9 261.4L304.6 265.9L306.9 269.8L308.5 271.7L309.9 273.3L311.4 275.1L312.8 276.7L314.2 278.5L315.5 280.2L316.8 282.1L318.1 284.0L319.3 286.1L320.2 288.1L321.2 290.1L322.1 292.1L323.1 293.9L324.2 295.7L325.4 297.6L326.6 299.4L327.7 301.4L328.8 303.5L329.7 305.6L330.6 307.7L331.4 309.6L332.3 311.5L333.3 313.4L334.4 315.2L335.6 317.0L336.8 318.6L338.3 320.1L339.8 321.5L341.5 322.8L343.4 323.8L345.4 324.6L347.5 325.3L349.5 326.6L351.2 328.3L352.6 329.9L354.1 331.5L355.6 333.1L357.1 334.7L358.6 336.5L359.9 338.4L361.1 340.5L362.1 342.6L363.0 344.7L363.8 346.7L364.6 348.7L365.5 350.8L366.3 352.8L367.2 354.9L368.0 356.9L368.8 359.1L369.5 361.2L370.3 363.2L371.1 365.1L371.9 366.9L373.0 368.7L374.2 370.4L375.6 372.0L377.0 373.7L378.4 375.5L379.7 377.2L381.1 379.0L382.4 380.8L383.7 382.5L385.0 384.3L386.3 386.0L387.7 387.7L389.1 389.5L390.4 391.2L391.8 392.8L393.2 394.5L394.6 396.2L396.1 397.9L397.5 399.5L399.0 401.1L400.5 402.6L402.0 404.1L403.7 405.5L405.4 406.9L407.1 408.3L408.8 409.6L410.5 411.0L412.2 412.4L413.9 413.8L415.6 415.2L417.3 416.7L419.0 418.1L420.6 419.6L422.2 421.2L423.8 422.7L425.3 424.3L426.9 425.9L428.4 427.5L429.9 429.2L431.4 430.7L432.9 432.3L434.4 433.9L436.0 435.4L437.6 436.8L439.3 438.2L440.9 439.6L442.7 441.0L444.4 442.3L446.2 443.6L447.9 444.9L449.7 446.1L451.5 447.4L453.3 448.6L455.2 449.8L457.0 451.0L458.9 452.2L460.8 453.3L462.6 454.4L464.5 455.5L466.4 456.6L468.4 457.7L470.3 458.7L472.2 459.8L474.2 460.8L476.1 461.8L478.1 462.8L480.0 463.8L482.0 464.7L484.0 465.6L486.0 466.6L488.0 467.5L490.0 468.4L492.0 469.4L494.0 470.3L495.9 471.3L497.9 472.3L499.9 473.2L501.9 474.2L503.9 475.2L505.8 476.1L507.8 477.1L509.8 478.0L511.8 478.9L513.8 479.8L515.8 480.8L517.8 481.7L519.8 482.6L521.8 483.5L523.8 484.4L525.8 485.2L527.9 486.1L529.9 486.9L531.9 487.7L534.0 488.4L536.1 489.2L538.1 489.9L540.2 490.7L542.3 491.4L544.4 492.0L546.5 492.7L548.6 493.3L550.7 493.9L552.8 494.4L555.0 495.0L557.1 495.5L559.2 496.0L561.4 496.5L563.5 497.0L565.7 497.4L567.8 497.8L570.0 498.2L572.2 498.6L574.3 499.0L576.5 499.3L578.7 499.7L580.8 500.0L583.0 500.4L585.2 500.7L587.3 501.1L589.5 501.5L591.7 501.9L593.8 502.3L596.0 502.7L598.2 503.0L600.3 503.4L602.5 503.7L604.7 504.0L606.9 504.3L609.1 504.6L611.2 504.9L613.4 505.2L615.6 505.4L617.8 505.7L620.0 505.9L622.2 506.2L624.3 506.4L626.5 506.6L628.7 506.8L630.9 507.1L633.1 507.3L635.3 507.5L637.5 507.6L639.7 507.8L641.9 508.0L644.1 508.2L646.3 508.4L648.5 508.5L650.6 508.7L652.8 508.8L655.0 509.0L657.2 509.1L659.4 509.2L661.6 509.3L663.8 509.4L666.0 509.5L668.2 509.6L670.4 509.7L672.6 509.8L674.8 509.9L677.0 510.0L679.2 510.1L681.4 510.1L683.6 510.2L685.8 510.2L688.0 510.3L690.2 510.3L692.4 510.4L694.6 510.4L696.8 510.4L699.0 510.4L701.2 510.5L703.4 510.5L705.6 510.5L707.8 510.5L710.0 510.5L712.2 510.5L714.4 510.5L716.6 510.5L718.8 510.5L721.0 510.5L723.2 510.4L725.4 510.4L727.6 510.4L729.8 510.3L732.0 510.3L734.2 510.3L736.4 510.2L738.6 510.2L740.8 510.1L743.0 510.1L745.2 510.0L747.4 510.0L749.6 509.9L751.8 509.8L754.0 509.7L756.2 509.7L758.4 509.6L760.6 509.5L762.8 509.4L765.0 509.3L767.2 509.2L769.4 509.1L771.6 509.1L773.8 509.0L776.0 508.9L778.2 508.8L780.4 508.7L782.6 508.6L784.8 508.5L787.0 508.3L789.2 508.2L791.4 508.1L793.6 508.0L795.8 507.8L797.9 507.6L800.1 507.4L802.3 507.2L804.5 507.0L806.7 506.8L808.9 506.6L811.1 506.4L813.3 506.2L815.5 506.0L817.7 505.9L819.9 505.8L822.1 505.7L824.3 505.6L826.5 505.5L828.7 505.5L830.9 505.4L833.1 505.4L835.3 505.3L837.5 505.2L839.7 505.2L841.9 505.1L844.0 505.0L846.2 504.9L848.4 504.9L850.6 504.7L852.8 504.6L855.0 504.5L857.2 504.4L859.4 504.2L861.6 504.1L863.8 504.0L866.0 503.8L868.2 503.7L870.4 503.6L872.6 503.4L874.8 503.3L877.0 503.2L879.2 503.1L881.4 503.0L883.6 502.8L885.8 502.7L888.0 502.6L890.2 502.5L892.4 502.4L894.6 502.3L896.8 502.2L899.0 502.1L901.2 502.0L903.4 501.9L905.6 501.8L907.8 501.7L910.0 501.6L912.2 501.5L914.4 501.4L916.6 501.3L918.8 501.3L921.0 501.2L923.1 501.1L925.3 501.0L927.5 501.0L929.7 500.9L931.9 500.9L934.1 500.8L936.3 500.7L938.5 500.7L940.7 500.6L942.9 500.6L945.1 500.5L947.3 500.5L949.5 500.4L951.7 500.4L953.9 500.4L956.1 500.4L958.3 500.4L960.5 500.4L962.7 500.4L964.9 500.4L967.1 500.4L969.3 500.4L971.5 500.4L973.7 500.4L975.9 500.4L978.1 500.5L980.3 500.5L982.5 500.5L984.7 500.5L986.9 500.6L989.1 500.6L991.3 500.7L993.5 500.8L995.7 500.9L997.9 500.9L1000.1 501.0L1002.3 501.0L1004.5 500.9L1006.7 500.7L1008.9 500.5L1011.1 500.3L1013.3 500.0L1015.5 499.8L1017.7 499.6L1019.9 499.4L1022.0 499.1L1024.2 498.9L1026.4 498.8L1028.6 498.7L1030.8 498.8L1033.0 499.0L1035.2 499.2L1037.4 499.6L1039.6 499.9L1041.7 500.3L1043.9 500.9L1046.0 501.6L1048.1 502.3L1050.2 503.0L1052.3 503.6L1054.4 504.1L1056.5 504.4L1058.7 504.6L1060.9 504.9L1063.1 505.1L1065.3 505.2L1067.5 505.4L1069.7 505.6L1071.9 505.7L1074.1 505.9L1076.3 506.0L1078.5 506.2L1080.7 506.3L1082.9 506.5L1085.0 506.7L1087.2 506.9L1089.4 507.1L1091.6 507.3L1093.8 507.5L1096.0 507.7L1098.2 507.9L1100.4 508.1L1102.6 508.3L1104.8 508.5L1107.0 508.7L1109.1 508.9L1111.3 509.1L1113.5 509.3L1115.7 509.5L1117.9 509.7L1120.1 509.9L1122.3 510.1L1124.5 510.3L1126.7 510.5L1128.9 510.8L1131.0 511.0L1133.2 511.2L1135.4 511.4L1137.6 511.6L1139.8 511.8L1142.0 512.1L1144.2 512.3L1146.4 512.5L1148.6 512.7L1150.7 513.0L1152.9 513.2L1155.1 513.4L1157.3 513.6L1159.5 513.9L1161.7 514.1L1163.9 514.3L1166.1 514.6L1168.3 514.8L1170.4 515.0L1172.6 515.3L1174.8 515.5L1177.0 515.7L1179.2 516.0L1181.4 516.2L1183.6 516.4L1185.7 516.7L1187.9 516.9L1190.1 517.2L1192.3 517.4L1194.5 517.7L1196.7 517.9L1198.9 518.1L1201.1 518.4L1203.2 518.6L1205.4 518.9L1207.6 519.1L1209.8 519.4L1212.0 519.6L1214.2 519.9L1216.4 520.2L1218.5 520.4L1220.7 520.7L1222.9 520.9L1225.1 521.2L1227.3 521.4L1229.5 521.7L1231.6 522.0L1233.8 522.2L1236.0 522.5L1238.2 522.8L1240.4 523.0L1242.6 523.3L1244.8 523.6L1246.9 523.8L1249.1 524.1L1251.3 524.4L1253.5 524.6L1255.7 524.9L1257.9 525.2L1260.0 525.4L1262.2 525.7L1264.4 526.0L1266.6 526.3L1268.8 526.5L1270.9 526.8L1273.1 527.1L1275.3 527.4L1277.5 527.7L1279.7 527.9L1281.9 528.2L1284.0 528.5L1286.2 528.8L1288.4 529.1L1290.6 529.3L1292.8 529.6L1295.0 529.9L1297.1 530.2L1299.3 530.5L1301.5 530.8L1303.7 531.1L1305.9 531.3L1308.0 531.6L1310.2 531.9L1312.4 532.2L1314.6 532.5L1316.8 532.8L1318.9 533.1L1321.1 533.4L1323.3 533.7L1325.5 533.9L1327.7 534.2L1329.8 534.5L1332.0 534.8L1334.2 535.1L1336.4 535.4L1338.6 535.7L1340.8 536.0L1342.9 536.3L1345.1 536.6L1347.3 536.9L1349.5 537.1L1351.7 537.4L1353.8 537.7L1356.0 538.0L1358.2 538.3L1360.4 538.6L1362.6 538.9L1364.7 539.2L1366.9 539.5L1369.1 539.7L1371.3 540.0L1373.5 540.3L1375.6 540.6L1377.8 540.9L1380.0 541.2L1382.2 541.5L1384.4 541.7L1386.6 542.0L1388.7 542.3L1390.9 542.6L1393.1 542.9L1395.3 543.1L1397.5 543.4L1399.6 543.7L1401.8 544.0L1404.0 544.3L1406.2 544.5L1408.4 544.8L1410.6 545.1L1412.7 545.4L1414.9 545.6L1417.1 545.9L1419.3 546.2L1421.5 546.4L1423.7 546.7L1425.8 547.0L1428.0 547.3L1430.2 547.5L1432.4 547.8L1434.6 548.0L1436.8 548.3L1438.9 548.6L1441.1 548.8L1443.3 549.1L1445.5 549.3L1447.7 549.6L1449.9 549.8L1452.1 550.1L1454.2 550.3L1456.4 550.6L1458.6 550.8L1460.8 551.1L1463.0 551.3L1465.2 551.6L1467.4 551.8L1469.5 552.0L1471.7 552.3L1473.9 552.5L1476.1 552.8L1478.3 553.0L1480.5 553.2L1482.7 553.4L1484.9 553.7L1487.0 553.9L1489.2 554.1L1491.4 554.3L1493.6 554.6L1495.8 554.8L1498.0 555.0L1500.2 555.2L1502.4 555.4L1504.6 555.7L1506.7 555.9L1508.9 556.1L1511.1 556.3L1513.3 556.5L1515.5 556.7L1517.7 556.9L1519.9 557.1L1522.1 557.3L1524.3 557.5L1526.5 557.7L1528.7 557.9L1530.8 558.1L1533.0 558.3L1535.2 558.5L1537.4 558.7L1539.6 558.9L1541.8 559.1L1544.0 559.3L1546.2 559.4L1548.4 559.6L1550.6 559.8L1552.8 560.0L1555.0 560.2L1557.1 560.4L1559.3 560.5L1561.5 560.7L1563.7 560.9L1565.9 561.0L1568.1 561.2L1570.3 561.4L1572.5 561.6L1574.7 561.7L1576.9 561.9L1579.1 562.1L1581.3 562.2L1583.5 562.4L1585.7 562.5L1587.9 562.7L1590.1 562.9L1592.2 563.0L1594.4 563.2L1596.6 563.3L1598.8 563.5L1601.0 563.7L1603.2 563.8L1605.4 564.0L1607.6 564.1L1609.8 564.3L1612.0 564.4L1614.2 564.5L1616.4 564.7L1618.6 564.8L1620.8 565.0L1623.0 565.1L1625.2 565.3L1627.4 565.4L1629.6 565.5L1631.8 565.7L1634.0 565.8L1636.1 565.9L1638.3 566.1L1640.5 566.2L1642.7 566.3L1644.9 566.5L1647.1 566.6L1649.3 566.7L1651.5 566.8L1653.7 567.0L1655.9 567.1L1658.1 567.2L1660.3 567.3L1662.5 567.5L1664.7 567.6L1666.9 567.7L1669.1 567.8L1671.3 567.9L1673.5 568.0L1675.7 568.1L1677.9 568.3L1680.1 568.4L1682.3 568.5L1684.5 568.6L1686.7 568.7L1688.9 568.8L1691.1 568.9L1693.3 569.0L1695.5 569.1L1697.7 569.2L1699.9 569.3L1702.1 569.4L1704.3 569.5L1706.4 569.6L1708.6 569.7L1710.8 569.8L1713.0 569.9L1715.2 570.0L1717.4 570.1L1719.6 570.2L1721.8 570.3L1724.0 570.4L1726.2 570.5L1728.4 570.6L1730.6 570.7L1732.8 570.8L1735.0 570.8L1737.2 570.9L1739.4 571.0L1741.6 571.1L1743.8 571.2L1746.0 571.3L1748.2 571.4L1750.4 571.4L1752.6 571.5L1754.8 571.6L1757.0 571.7L1759.2 571.8L1761.4 571.8L1763.6 571.9L1765.8 572.0L1768.0 572.1L1770.2 572.1L1772.4 572.2L1774.6 572.3L1776.8 572.4L1779.0 572.4L1781.2 572.5L1783.4 572.6L1785.6 572.6L1787.8 572.7L1790.0 572.8L1792.2 572.8L1794.4 572.9L1796.6 573.0L1798.8 573.0L1801.0 573.1L1803.2 573.2L1805.4 573.2L1807.6 573.3L1809.8 573.3L1812.0 573.4L1814.2 573.5L1816.4 573.5L1818.6 573.6L1820.8 573.6L1823.0 573.7L1825.2 573.8L1827.4 573.8L1829.6 573.9L1831.8 573.9L1834.0 574.0L1836.2 574.0L1838.4 574.1L1840.6 574.1L1842.8 574.2L1845.0 574.2L1847.2 574.3L1849.4 574.3L1851.6 574.4L1853.8 574.4L1856.0 574.5L1858.2 574.5L1860.4 574.6L1862.6 574.6L1864.8 574.7L1867.0 574.7L1869.2 574.8L1871.4 574.8L1873.6 574.9L1875.8 574.9L1878.0 574.9L1880.2 575.0L1882.4 575.0L1884.6 575.1L1886.8 575.1L1889.0 575.2L1891.2 575.2L1893.4 575.2L1895.6 575.3L1897.8 575.3L1900.0 575.3L1902.2 575.4L1904.4 575.4L1906.6 575.5L1908.8 575.5L1911.0 575.5L1913.2 575.6L1915.4 575.6L1917.6 575.6L1919.8 575.7L1922.0 575.7L1924.2 575.7L1926.4 575.8L1928.6 575.8L1930.8 575.9L1933.0 575.9L1935.2 575.9L1937.4 576.0L1939.6 576.0L1941.8 576.0L1944.0 576.0L1946.2 576.1L1948.4 576.1L1950.6 576.1L1952.8 576.2L1955.0 576.2L1957.2 576.2L1959.4 576.3L1961.6 576.3L1963.8 576.3L1966.0 576.4L1968.2 576.4L1970.4 576.4L1972.5 576.4L1974.7 576.5L1976.9 576.5L1979.1 576.5L1981.3 576.5L1983.5 576.6L1985.7 576.6L1987.9 576.6L1990.1 576.7L1992.3 576.7L1994.5 576.7L1996.7 576.7L1998.9 576.8L2001.1 576.8L2003.3 576.8L2005.5 576.8L2007.7 576.9L2009.9 576.9L2012.1 576.9L2014.3 576.9L2016.5 577.0L2018.7 577.0L2020.9 577.0L2023.1 577.0L2025.3 577.1L2027.5 577.1L2029.7 577.1L2031.9 577.1L2034.1 577.2L2036.3 577.2L2038.5 577.2L2040.7 577.2L2042.9 577.3L2045.1 577.3L2047.3 577.3L2049.5 577.4L2051.7 577.4L2053.9 577.4L2056.1 577.4L2058.3 577.5L2060.5 577.5L2062.7 577.5L2064.9 577.5L2067.1 577.6L2069.3 577.6L2071.5 577.6L2073.7 577.6L2075.9 577.7L2078.1 577.7L2080.3 577.7L2082.5 577.7L2084.7 577.8L2086.9 577.8L2089.1 577.8L2091.3 577.8L2093.5 577.9L2095.7 577.9L2097.9 577.9L2100.1 577.9L2102.3 578.0L2104.5 578.0L2106.7 578.0L2108.9 578.0L2111.1 578.1L2111.6 578.1" stroke="#008080" stroke-width="12.0" stroke-opacity="0.45" stroke-dasharray="30 9 9 18 6 6 24 6 18 9 30 24 18 6 6 18 12 6 30 9 6 9 30 12 6 18 9 9 30 12 24 18 9 9 6 12 24 24 12 24 18 18 6 6 24 24 9 12 18 24 18 12 6 9 9 9 30 24 18 9 24 24 9 12 30 12 6 12 24 24 30 9 9 6 24 18 6 12 18 9"/>
<path d="M219.4 110.7L220.3 112.7L221.1 114.8L221.9 116.8L222.8 118.9L223.6 120.9L224.4 122.9L225.2 125.0L226.1 127.0L226.9 129.0L227.8 131.0L228.7 133.0L229.5 135.1L230.4 137.1L231.2 139.2L232.0 141.3L232.8 143.4L233.5 145.6L234.2 147.8L234.8 149.9L235.4 152.0L236.1 154.0L236.8 156.1L237.4 158.2L238.1 160.2L238.8 162.3L239.5 164.4L240.2 166.5L240.9 168.5L241.7 170.5L242.4 172.6L243.2 174.6L244.0 176.7L244.8 178.7L245.6 180.7L246.4 182.7L247.3 184.7L248.1 186.8L249.0 188.8L249.9 190.8L250.8 192.8L251.7 194.7L252.6 196.7L253.5 198.7L254.5 200.7L255.4 202.6L256.4 204.6L257.4 206.5L258.4 208.5L259.4 210.4L260.5 212.3L261.6 214.2L262.6 216.1L263.8 218.0L264.9 219.9L266.0 221.8L267.1 223.7L268.2 225.6L269.3 227.5L270.4 229.5L271.4 231.4L272.5 233.3L273.5 235.2L274.4 236.6L277.9 244.1L278.1 232.8L287.7 232.8L289.0 268.1L289.6 258.8L298.1 258.8L298.8 168.6L299.7 266.6L301.4 271.1L303.7 275.0L305.4 276.9L306.8 278.5L308.3 280.3L309.7 281.9L311.0 283.7L312.4 285.4L313.7 287.3L315.0 289.2L316.1 291.3L317.1 293.3L318.1 295.3L319.0 297.3L320.0 299.1L321.1 300.9L322.2 302.8L323.4 304.6L324.6 306.6L325.7 308.7L326.6 310.8L327.4 312.9L328.3 314.8L329.2 316.7L330.2 318.6L331.3 320.4L332.4 322.2L333.7 323.8L335.1 325.3L336.7 326.7L338.4 328.0L340.3 329.0L342.3 329.8L344.4 330.5L346.4 331.8L348.0 333.5L349.5 335.1L351.0 336.7L352.5 338.3L354.0 339.9L355.5 341.7L356.8 343.6L358.0 345.7L359.0 347.8L359.9 349.9L360.7 351.9L361.5 353.9L362.4 356.0L363.2 358.0L364.0 360.1L364.9 362.1L365.7 364.3L366.4 366.4L367.2 368.4L367.9 370.3L368.8 372.1L369.9 373.9L371.1 375.6L372.4 377.2L373.9 378.9L375.3 380.7L376.6 382.4L377.9 384.2L379.2 386.0L380.6 387.7L381.9 389.5L383.2 391.2L384.6 392.9L385.9 394.7L387.3 396.4L388.7 398.0L390.1 399.7L391.5 401.4L392.9 403.1L394.4 404.7L395.9 406.3L397.4 407.8L398.9 409.3L400.6 410.7L402.2 412.1L404.0 413.5L405.7 414.8L407.4 416.2L409.1 417.6L410.8 419.0L412.5 420.4L414.2 421.9L415.9 423.3L417.5 424.8L419.1 426.4L420.7 427.9L422.2 429.5L423.7 431.1L425.2 432.7L426.7 434.4L428.2 435.9L429.8 437.5L431.3 439.1L432.9 440.6L434.5 442.0L436.1 443.4L437.8 444.8L439.5 446.2L441.3 447.5L443.0 448.8L444.8 450.1L446.6 451.3L448.4 452.6L450.2 453.8L452.1 455.0L453.9 456.2L455.8 457.4L457.6 458.5L459.5 459.6L461.4 460.7L463.3 461.8L465.2 462.9L467.2 463.9L469.1 465.0L471.0 466.0L473.0 467.0L475.0 468.0L476.9 469.0L478.9 469.9L480.9 470.8L482.9 471.8L484.9 472.7L486.9 473.6L488.9 474.6L490.8 475.5L492.8 476.5L494.8 477.5L496.8 478.4L498.8 479.4L500.7 480.4L502.7 481.3L504.7 482.3L506.7 483.2L508.7 484.1L510.7 485.0L512.7 486.0L514.7 486.9L516.7 487.8L518.7 488.7L520.7 489.6L522.7 490.4L524.7 491.3L526.8 492.1L528.8 492.9L530.9 493.6L532.9 494.4L535.0 495.1L537.1 495.9L539.2 496.6L541.3 497.2L543.4 497.9L545.5 498.5L547.6 499.1L549.7 499.6L551.8 500.2L554.0 500.7L556.1 501.2L558.2 501.7L560.4 502.2L562.5 502.6L564.7 503.0L566.9 503.4L569.0 503.8L571.2 504.2L573.4 504.5L575.5 504.9L577.7 505.2L579.9 505.6L582.1 505.9L584.2 506.3L586.4 506.7L588.6 507.1L590.7 507.5L592.9 507.9L595.1 508.2L597.2 508.6L599.4 508.9L601.6 509.2L603.8 509.5L605.9 509.8L608.1 510.1L610.3 510.4L612.5 510.6L614.7 510.9L616.9 511.1L619.0 511.4L621.2 511.6L623.4 511.8L625.6 512.0L627.8 512.3L630.0 512.5L632.2 512.7L634.4 512.8L636.6 513.0L638.8 513.2L640.9 513.4L643.1 513.6L645.3 513.7L647.5 513.9L649.7 514.0L651.9 514.2L654.1 514.3L656.3 514.4L658.5 514.5L660.7 514.6L662.9 514.7L665.1 514.8L667.3 514.9L669.5 515.0L671.7 515.1L673.9 515.2L676.1 515.3L678.3 515.3L680.5 515.4L682.7 515.4L684.9 515.5L687.1 515.5L689.3 515.6L691.5 515.6L693.7 515.6L695.9 515.6L698.1 515.7L700.3 515.7L702.5 515.7L704.7 515.7L706.9 515.7L709.1 515.7L711.3 515.7L713.5 515.7L715.7 515.7L717.9 515.7L720.1 515.6L722.3 515.6L724.5 515.6L726.7 515.5L728.9 515.5L731.1 515.5L733.3 515.4L735.5 515.4L737.7 515.3L739.9 515.3L742.1 515.2L744.3 515.2L746.5 515.1L748.7 515.0L750.9 514.9L753.1 514.9L755.3 514.8L757.5 514.7L759.7 514.6L761.9 514.5L764.1 514.4L766.3 514.3L768.5 514.3L770.7 514.2L772.9 514.1L775.1 514.0L777.3 513.9L779.5 513.8L781.6 513.7L783.8 513.5L786.0 513.4L788.2 513.3L790.4 513.2L792.6 513.0L794.8 512.8L797.0 512.6L799.2 512.4L801.4 512.2L803.6 512.0L805.8 511.8L808.0 511.6L810.2 511.4L812.4 511.2L814.5 511.1L816.7 511.0L818.9 510.9L821.1 510.8L823.3 510.7L825.5 510.7L827.7 510.6L829.9 510.6L832.1 510.5L834.3 510.4L836.5 510.4L838.7 510.3L840.9 510.2L843.1 510.1L845.3 510.1L847.5 509.9L849.7 509.8L851.9 509.7L854.1 509.6L856.3 509.4L858.5 509.3L860.7 509.2L862.9 509.0L865.1 508.9L867.3 508.8L869.5 508.6L871.7 508.5L873.9 508.4L876.1 508.3L878.3 508.2L880.5 508.0L882.7 507.9L884.9 507.8L887.1 507.7L889.3 507.6L891.5 507.5L893.7 507.4L895.8 507.3L898.0 507.2L900.2 507.1L902.4 507.0L904.6 506.9L906.8 506.8L909.0 506.7L911.2 506.6L913.4 506.5L915.6 506.5L917.8 506.4L920.0 506.3L922.2 506.2L924.4 506.2L926.6 506.1L928.8 506.1L931.0 506.0L933.2 505.9L935.4 505.9L937.6 505.8L939.8 505.8L942.0 505.7L944.2 505.7L946.4 505.6L948.6 505.6L950.8 505.6L953.0 505.6L955.2 505.6L957.4 505.6L959.6 505.6L961.8 505.6L964.0 505.6L966.2 505.6L968.4 505.6L970.6 505.6L972.8 505.6L975.0 505.7L977.2 505.7L979.4 505.7L981.6 505.7L983.8 505.8L986.0 505.8L988.2 505.9L990.4 506.0L992.6 506.1L994.8 506.1L997.0 506.2L999.2 506.2L1001.4 506.1L1003.6 505.9L1005.8 505.7L1008.0 505.5L1010.2 505.2L1012.4 505.0L1014.5 504.8L1016.7 504.6L1018.9 504.3L1021.1 504.1L1023.3 504.0L1025.5 503.9L1027.7 504.0L1029.9 504.2L1032.1 504.4L1034.3 504.8L1036.4 505.1L1038.6 505.5L1040.8 506.1L1042.9 506.8L1044.9 507.5L1047.0 508.2L1049.1 508.8L1051.3 509.3L1053.4 509.6L1055.6 509.8L1057.8 510.1L1060.0 510.3L1062.2 510.4L1064.4 510.6L1066.6 510.8L1068.8 510.9L1071.0 511.1L1073.1 511.2L1075.3 511.4L1077.5 511.5L1079.7 511.7L1081.9 511.9L1084.1 512.1L1086.3 512.3L1088.5 512.5L1090.7 512.7L1092.9 512.9L1095.1 513.1L1097.3 513.3L1099.5 513.5L1101.6 513.7L1103.8 513.9L1106.0 514.1L1108.2 514.3L1110.4 514.5L1112.6 514.7L1114.8 514.9L1117.0 515.1L1119.2 515.3L1121.4 515.5L1123.5 515.7L1125.7 516.0L1127.9 516.2L1130.1 516.4L1132.3 516.6L1134.5 516.8L1136.7 517.0L1138.9 517.3L1141.1 517.5L1143.2 517.7L1145.4 517.9L1147.6 518.2L1149.8 518.4L1152.0 518.6L1154.2 518.8L1156.4 519.1L1158.6 519.3L1160.8 519.5L1162.9 519.8L1165.1 520.0L1167.3 520.2L1169.5 520.5L1171.7 520.7L1173.9 520.9L1176.1 521.2L1178.3 521.4L1180.4 521.6L1182.6 521.9L1184.8 522.1L1187.0 522.4L1189.2 522.6L1191.4 522.9L1193.6 523.1L1195.7 523.3L1197.9 523.6L1200.1 523.8L1202.3 524.1L1204.5 524.3L1206.7 524.6L1208.9 524.8L1211.0 525.1L1213.2 525.4L1215.4 525.6L1217.6 525.9L1219.8 526.1L1222.0 526.4L1224.2 526.6L1226.3 526.9L1228.5 527.2L1230.7 527.4L1232.9 527.7L1235.1 528.0L1237.3 528.2L1239.4 528.5L1241.6 528.8L1243.8 529.0L1246.0 529.3L1248.2 529.6L1250.4 529.8L1252.5 530.1L1254.7 530.4L1256.9 530.6L1259.1 530.9L1261.3 531.2L1263.5 531.5L1265.6 531.7L1267.8 532.0L1270.0 532.3L1272.2 532.6L1274.4 532.9L1276.6 533.1L1278.7 533.4L1280.9 533.7L1283.1 534.0L1285.3 534.3L1287.5 534.5L1289.6 534.8L1291.8 535.1L1294.0 535.4L1296.2 535.7L1298.4 536.0L1300.6 536.3L1302.7 536.5L1304.9 536.8L1307.1 537.1L1309.3 537.4L1311.5 537.7L1313.6 538.0L1315.8 538.3L1318.0 538.6L1320.2 538.9L1322.4 539.1L1324.5 539.4L1326.7 539.7L1328.9 540.0L1331.1 540.3L1333.3 540.6L1335.5 540.9L1337.6 541.2L1339.8 541.5L1342.0 541.8L1344.2 542.1L1346.4 542.3L1348.5 542.6L1350.7 542.9L1352.9 543.2L1355.1 543.5L1357.3 543.8L1359.4 544.1L1361.6 544.4L1363.8 544.7L1366.0 544.9L1368.2 545.2L1370.3 545.5L1372.5 545.8L1374.7 546.1L1376.9 546.4L1379.1 546.7L1381.3 546.9L1383.4 547.2L1385.6 547.5L1387.8 547.8L1390.0 548.1L1392.2 548.3L1394.3 548.6L1396.5 548.9L1398.7 549.2L1400.9 549.5L1403.1 549.7L1405.3 550.0L1407.4 550.3L1409.6 550.6L1411.8 550.8L1414.0 551.1L1416.2 551.4L1418.4 551.6L1420.5 551.9L1422.7 552.2L1424.9 552.5L1427.1 552.7L1429.3 553.0L1431.5 553.2L1433.6 553.5L1435.8 553.8L1438.0 554.0L1440.2 554.3L1442.4 554.5L1444.6 554.8L1446.8 555.0L1448.9 555.3L1451.1 555.5L1453.3 555.8L1455.5 556.0L1457.7 556.3L1459.9 556.5L1462.1 556.8L1464.2 557.0L1466.4 557.2L1468.6 557.5L1470.8 557.7L1473.0 558.0L1475.2 558.2L1477.4 558.4L1479.6 558.6L1481.7 558.9L1483.9 559.1L1486.1 559.3L1488.3 559.5L1490.5 559.8L1492.7 560.0L1494.9 560.2L1497.1 560.4L1499.3 560.6L1501.4 560.9L1503.6 561.1L1505.8 561.3L1508.0 561.5L1510.2 561.7L1512.4 561.9L1514.6 562.1L1516.8 562.3L1519.0 562.5L1521.2 562.7L1523.3 562.9L1525.5 563.1L1527.7 563.3L1529.9 563.5L1532.1 563.7L1534.3 563.9L1536.5 564.1L1538.7 564.3L1540.9 564.5L1543.1 564.6L1545.3 564.8L1547.5 565.0L1549.6 565.2L1551.8 565.4L1554.0 565.6L1556.2 565.7L1558.4 565.9L1560.6 566.1L1562.8 566.2L1565.0 566.4L1567.2 566.6L1569.4 566.8L1571.6 566.9L1573.8 567.1L1576.0 567.3L1578.2 567.4L1580.3 567.6L1582.5 567.7L1584.7 567.9L1586.9 568.1L1589.1 568.2L1591.3 568.4L1593.5 568.5L1595.7 568.7L1597.9 568.9L1600.1 569.0L1602.3 569.2L1604.5 569.3L1606.7 569.5L1608.9 569.6L1611.1 569.7L1613.3 569.9L1615.5 570.0L1617.7 570.2L1619.9 570.3L1622.0 570.5L1624.2 570.6L1626.4 570.7L1628.6 570.9L1630.8 571.0L1633.0 571.1L1635.2 571.3L1637.4 571.4L1639.6 571.5L1641.8 571.7L1644.0 571.8L1646.2 571.9L1648.4 572.0L1650.6 572.2L1652.8 572.3L1655.0 572.4L1657.2 572.5L1659.4 572.7L1661.6 572.8L1663.8 572.9L1666.0 573.0L1668.2 573.1L1670.4 573.2L1672.6 573.3L1674.8 573.5L1677.0 573.6L1679.2 573.7L1681.4 573.8L1683.6 573.9L1685.7 574.0L1687.9 574.1L1690.1 574.2L1692.3 574.3L1694.5 574.4L1696.7 574.5L1698.9 574.6L1701.1 574.7L1703.3 574.8L1705.5 574.9L1707.7 575.0L1709.9 575.1L1712.1 575.2L1714.3 575.3L1716.5 575.4L1718.7 575.5L1720.9 575.6L1723.1 575.7L1725.3 575.8L1727.5 575.9L1729.7 576.0L1731.9 576.0L1734.1 576.1L1736.3 576.2L1738.5 576.3L1740.7 576.4L1742.9 576.5L1745.1 576.6L1747.3 576.6L1749.5 576.7L1751.7 576.8L1753.9 576.9L1756.1 577.0L1758.3 577.0L1760.5 577.1L1762.7 577.2L1764.9 577.3L1767.1 577.3L1769.3 577.4L1771.5 577.5L1773.7 577.6L1775.9 577.6L1778.1 577.7L1780.3 577.8L1782.5 577.8L1784.7 577.9L1786.9 578.0L1789.1 578.0L1791.3 578.1L1793.5 578.2L1795.7 578.2L1797.9 578.3L1800.1 578.4L1802.3 578.4L1804.5 578.5L1806.7 578.5L1808.9 578.6L1811.1 578.7L1813.3 578.7L1815.5 578.8L1817.7 578.8L1819.9 578.9L1822.1 579.0L1824.3 579.0L1826.5 579.1L1828.7 579.1L1830.9 579.2L1833.1 579.2L1835.3 579.3L1837.5 579.3L1839.7 579.4L1841.8 579.4L1844.0 579.5L1846.2 579.5L1848.4 579.6L1850.6 579.6L1852.8 579.7L1855.0 579.7L1857.2 579.8L1859.4 579.8L1861.6 579.9L1863.8 579.9L1866.0 580.0L1868.2 580.0L1870.4 580.1L1872.6 580.1L1874.8 580.1L1877.0 580.2L1879.2 580.2L1881.4 580.3L1883.6 580.3L1885.8 580.4L1888.0 580.4L1890.2 580.4L1892.4 580.5L1894.6 580.5L1896.8 580.5L1899.0 580.6L1901.2 580.6L1903.4 580.7L1905.6 580.7L1907.8 580.7L1910.0 580.8L1912.2 580.8L1914.4 580.8L1916.6 580.9L1918.8 580.9L1921.0 580.9L1923.2 581.0L1925.4 581.0L1927.6 581.1L1929.8 581.1L1932.0 581.1L1934.2 581.2L1936.4 581.2L1938.6 581.2L1940.8 581.2L1943.0 581.3L1945.2 581.3L1947.4 581.3L1949.6 581.4L1951.8 581.4L1954.0 581.4L1956.2 581.5L1958.4 581.5L1960.6 581.5L1962.8 581.6L1965.0 581.6L1967.2 581.6L1969.4 581.6L1971.6 581.7L1973.8 581.7L1976.0 581.7L1978.2 581.7L1980.4 581.8L1982.6 581.8L1984.8 581.8L1987.0 581.9L1989.2 581.9L1991.4 581.9L1993.6 581.9L1995.8 582.0L1998.0 582.0L2000.2 582.0L2002.4 582.0L2004.6 582.1L2006.8 582.1L2009.0 582.1L2011.2 582.1L2013.4 582.2L2015.6 582.2L2017.8 582.2L2020.0 582.2L2022.2 582.3L2024.4 582.3L2026.6 582.3L2028.8 582.3L2031.0 582.4L2033.2 582.4L2035.4 582.4L2037.6 582.4L2039.8 582.5L2042.0 582.5L2044.2 582.5L2046.4 582.6L2048.6 582.6L2050.8 582.6L2053.0 582.6L2055.2 582.7L2057.4 582.7L2059.6 582.7L2061.8 582.7L2064.0 582.8L2066.2 582.8L2068.4 582.8L2070.6 582.8L2072.8 582.9L2075.0 582.9L2077.2 582.9L2079.4 582.9L2081.6 583.0L2083.8 583.0L2086.0 583.0L2088.2 583.0L2090.4 583.1L2092.6 583.1L2094.8 583.1L2097.0 583.1L2099.2 583.2L2101.4 583.2L2103.6 583.2L2105.8 583.2L2108.0 583.3L2108.4 583.3" stroke="#008080" stroke-width="12.0" stroke-opacity="0.45" stroke-dasharray="9 24 30 12 24 12 9 24 12 18 6 12 30 24 6 6 18 18 6 18 9 24 12 9 6 6 6 9 6 18 24 6 6 24 24 24 18 9 30 12 24 9 9 12 9 12 30 12 9 9 18 9 18 6 9 9 24 24 18 18 9 12 24 24 6 24 6 9 12 18 12 24 30 24 24 9 9 18 9 24"/>
<path d="M221.0 108.1L221.8 110.1L222.7 112.2L223.5 114.2L224.3 116.3L225.1 118.3L226.0 120.3L226.8 122.4L227.6 124.4L228.5 126.4L229.3 128.4L230.2 130.4L231.1 132.5L231.9 134.5L232.8 136.6L233.6 138.7L234.4 140.8L235.1 143.0L235.8 145.2L236.4 147.3L237.0 149.4L237.6 151.4L238.3 153.5L239.0 155.6L239.7 157.6L240.4 159.7L241.1 161.8L241.8 163.9L242.5 165.9L243.2 167.9L244.0 170.0L244.8 172.0L245.6 174.1L246.4 176.1L247.2 178.1L248.0 180.1L248.8 182.1L249.7 184.2L250.6 186.2L251.4 188.2L252.3 190.2L253.2 192.1L254.2 194.1L255.1 196.1L256.0 198.1L257.0 200.0L258.0 202.0L258.9 203.9L260.0 205.9L261.0 207.8L262.0 209.7L263.1 211.6L264.2 213.5L265.3 215.4L266.4 217.3L267.5 219.2L268.7 221.1L269.8 223.0L270.9 224.9L271.9 226.9L273.0 228.8L274.0 230.7L275.1 232.6L276.0 234.0L279.5 241.5L279.7 230.2L289.3 230.2L290.6 265.5L291.2 256.2L299.7 256.2L300.4 166.0L301.3 264.0L303.0 268.5L305.3 272.4L306.9 274.3L308.4 275.9L309.8 277.7L311.2 279.3L312.6 281.1L314.0 282.8L315.3 284.7L316.5 286.6L317.7 288.7L318.7 290.7L319.6 292.7L320.6 294.7L321.5 296.5L322.6 298.3L323.8 300.2L325.0 302.0L326.2 304.0L327.2 306.1L328.2 308.2L329.0 310.3L329.8 312.2L330.7 314.1L331.8 316.0L332.9 317.8L334.0 319.6L335.3 321.2L336.7 322.7L338.3 324.1L340.0 325.4L341.8 326.4L343.8 327.2L345.9 327.9L347.9 329.2L349.6 330.9L351.1 332.5L352.5 334.1L354.1 335.7L355.6 337.3L357.0 339.1L358.3 341.0L359.6 343.1L360.5 345.2L361.4 347.3L362.3 349.3L363.1 351.3L363.9 353.4L364.8 355.4L365.6 357.5L366.4 359.5L367.2 361.7L368.0 363.8L368.7 365.8L369.5 367.7L370.4 369.5L371.5 371.3L372.7 373.0L374.0 374.6L375.4 376.3L376.8 378.1L378.2 379.8L379.5 381.6L380.8 383.4L382.1 385.1L383.4 386.9L384.8 388.6L386.1 390.3L387.5 392.1L388.9 393.8L390.2 395.4L391.7 397.1L393.1 398.8L394.5 400.5L395.9 402.1L397.4 403.7L398.9 405.2L400.5 406.7L402.1 408.1L403.8 409.5L405.5 410.9L407.3 412.2L409.0 413.6L410.7 415.0L412.4 416.4L414.1 417.8L415.8 419.3L417.4 420.7L419.1 422.2L420.7 423.8L422.2 425.3L423.8 426.9L425.3 428.5L426.8 430.1L428.3 431.8L429.8 433.3L431.3 434.9L432.9 436.5L434.4 438.0L436.0 439.4L437.7 440.8L439.4 442.2L441.1 443.6L442.8 444.9L444.6 446.2L446.4 447.5L448.2 448.7L450.0 450.0L451.8 451.2L453.6 452.4L455.5 453.6L457.3 454.8L459.2 455.9L461.1 457.0L463.0 458.1L464.9 459.2L466.8 460.3L468.7 461.3L470.7 462.4L472.6 463.4L474.6 464.4L476.5 465.4L478.5 466.4L480.5 467.3L482.4 468.2L484.4 469.2L486.4 470.1L488.4 471.0L490.4 472.0L492.4 472.9L494.4 473.9L496.4 474.9L498.3 475.8L500.3 476.8L502.3 477.8L504.3 478.7L506.3 479.7L508.2 480.6L510.2 481.5L512.2 482.4L514.2 483.4L516.2 484.3L518.2 485.2L520.2 486.1L522.2 487.0L524.3 487.8L526.3 488.7L528.3 489.5L530.4 490.3L532.4 491.0L534.5 491.8L536.6 492.5L538.6 493.3L540.7 494.0L542.8 494.6L544.9 495.3L547.0 495.9L549.1 496.5L551.3 497.0L553.4 497.6L555.5 498.1L557.7 498.6L559.8 499.1L562.0 499.6L564.1 500.0L566.3 500.4L568.4 500.8L570.6 501.2L572.8 501.6L574.9 501.9L577.1 502.3L579.3 502.6L581.4 503.0L583.6 503.3L585.8 503.7L588.0 504.1L590.1 504.5L592.3 504.9L594.5 505.3L596.6 505.6L598.8 506.0L601.0 506.3L603.1 506.6L605.3 506.9L607.5 507.2L609.7 507.5L611.9 507.8L614.0 508.0L616.2 508.3L618.4 508.5L620.6 508.8L622.8 509.0L625.0 509.2L627.2 509.4L629.4 509.7L631.5 509.9L633.7 510.1L635.9 510.2L638.1 510.4L640.3 510.6L642.5 510.8L644.7 511.0L646.9 511.1L649.1 511.3L651.3 511.4L653.5 511.6L655.7 511.7L657.9 511.8L660.1 511.9L662.3 512.0L664.5 512.1L666.7 512.2L668.9 512.3L671.1 512.4L673.3 512.5L675.4 512.6L677.6 512.7L679.8 512.7L682.0 512.8L684.2 512.8L686.4 512.9L688.6 512.9L690.8 513.0L693.0 513.0L695.2 513.0L697.4 513.0L699.6 513.1L701.8 513.1L704.0 513.1L706.2 513.1L708.4 513.1L710.6 513.1L712.8 513.1L715.0 513.1L717.2 513.1L719.4 513.1L721.6 513.0L723.8 513.0L726.0 513.0L728.2 512.9L730.4 512.9L732.6 512.9L734.8 512.8L737.0 512.8L739.2 512.7L741.4 512.7L743.6 512.6L745.8 512.6L748.0 512.5L750.2 512.4L752.4 512.3L754.6 512.3L756.8 512.2L759.0 512.1L761.2 512.0L763.4 511.9L765.6 511.8L767.8 511.7L770.0 511.7L772.2 511.6L774.4 511.5L776.6 511.4L778.8 511.3L781.0 511.2L783.2 511.1L785.4 510.9L787.6 510.8L789.8 510.7L792.0 510.6L794.2 510.4L796.4 510.2L798.6 510.0L800.8 509.8L803.0 509.6L805.1 509.4L807.3 509.2L809.5 509.0L811.7 508.8L813.9 508.6L816.1 508.5L818.3 508.4L820.5 508.3L822.7 508.2L824.9 508.1L827.1 508.1L829.3 508.0L831.5 508.0L833.7 507.9L835.9 507.8L838.1 507.8L840.3 507.7L842.5 507.6L844.7 507.5L846.9 507.5L849.1 507.3L851.3 507.2L853.5 507.1L855.7 507.0L857.9 506.8L860.1 506.7L862.3 506.6L864.5 506.4L866.7 506.3L868.8 506.2L871.0 506.0L873.2 505.9L875.4 505.8L877.6 505.7L879.8 505.6L882.0 505.4L884.2 505.3L886.4 505.2L888.6 505.1L890.8 505.0L893.0 504.9L895.2 504.8L897.4 504.7L899.6 504.6L901.8 504.5L904.0 504.4L906.2 504.3L908.4 504.2L910.6 504.1L912.8 504.0L915.0 503.9L917.2 503.9L919.4 503.8L921.6 503.7L923.8 503.6L926.0 503.6L928.2 503.5L930.4 503.5L932.6 503.4L934.8 503.3L937.0 503.3L939.2 503.2L941.4 503.2L943.6 503.1L945.8 503.1L948.0 503.0L950.2 503.0L952.4 503.0L954.6 503.0L956.8 503.0L959.0 503.0L961.2 503.0L963.4 503.0L965.6 503.0L967.8 503.0L970.0 503.0L972.2 503.0L974.4 503.0L976.6 503.1L978.8 503.1L981.0 503.1L983.2 503.1L985.4 503.2L987.6 503.2L989.8 503.3L992.0 503.4L994.2 503.5L996.4 503.5L998.6 503.6L1000.8 503.6L1003.0 503.5L1005.2 503.3L1007.4 503.1L1009.5 502.9L1011.7 502.6L1013.9 502.4L1016.1 502.2L1018.3 502.0L1020.5 501.7L1022.7 501.5L1024.9 501.4L1027.1 501.3L1029.3 501.4L1031.5 501.6L1033.6 501.8L1035.8 502.2L1038.0 502.5L1040.2 502.9L1042.3 503.5L1044.4 504.2L1046.5 504.9L1048.6 505.6L1050.7 506.2L1052.8 506.7L1055.0 507.0L1057.2 507.2L1059.4 507.5L1061.5 507.7L1063.7 507.8L1065.9 508.0L1068.1 508.2L1070.3 508.3L1072.5 508.5L1074.7 508.6L1076.9 508.8L1079.1 508.9L1081.3 509.1L1083.5 509.3L1085.7 509.5L1087.9 509.7L1090.1 509.9L1092.2 510.1L1094.4 510.3L1096.6 510.5L1098.8 510.7L1101.0 510.9L1103.2 511.1L1105.4 511.3L1107.6 511.5L1109.8 511.7L1112.0 511.9L1114.2 512.1L1116.3 512.3L1118.5 512.5L1120.7 512.7L1122.9 512.9L1125.1 513.1L1127.3 513.4L1129.5 513.6L1131.7 513.8L1133.9 514.0L1136.1 514.2L1138.2 514.4L1140.4 514.7L1142.6 514.9L1144.8 515.1L1147.0 515.3L1149.2 515.6L1151.4 515.8L1153.6 516.0L1155.8 516.2L1157.9 516.5L1160.1 516.7L1162.3 516.9L1164.5 517.2L1166.7 517.4L1168.9 517.6L1171.1 517.9L1173.3 518.1L1175.4 518.3L1177.6 518.6L1179.8 518.8L1182.0 519.0L1184.2 519.3L1186.4 519.5L1188.6 519.8L1190.7 520.0L1192.9 520.3L1195.1 520.5L1197.3 520.7L1199.5 521.0L1201.7 521.2L1203.9 521.5L1206.1 521.7L1208.2 522.0L1210.4 522.2L1212.6 522.5L1214.8 522.8L1217.0 523.0L1219.2 523.3L1221.3 523.5L1223.5 523.8L1225.7 524.0L1227.9 524.3L1230.1 524.6L1232.3 524.8L1234.5 525.1L1236.6 525.4L1238.8 525.6L1241.0 525.9L1243.2 526.2L1245.4 526.4L1247.6 526.7L1249.7 527.0L1251.9 527.2L1254.1 527.5L1256.3 527.8L1258.5 528.0L1260.7 528.3L1262.8 528.6L1265.0 528.9L1267.2 529.1L1269.4 529.4L1271.6 529.7L1273.8 530.0L1275.9 530.3L1278.1 530.5L1280.3 530.8L1282.5 531.1L1284.7 531.4L1286.8 531.7L1289.0 531.9L1291.2 532.2L1293.4 532.5L1295.6 532.8L1297.8 533.1L1299.9 533.4L1302.1 533.7L1304.3 533.9L1306.5 534.2L1308.7 534.5L1310.8 534.8L1313.0 535.1L1315.2 535.4L1317.4 535.7L1319.6 536.0L1321.7 536.3L1323.9 536.5L1326.1 536.8L1328.3 537.1L1330.5 537.4L1332.6 537.7L1334.8 538.0L1337.0 538.3L1339.2 538.6L1341.4 538.9L1343.6 539.2L1345.7 539.5L1347.9 539.7L1350.1 540.0L1352.3 540.3L1354.5 540.6L1356.6 540.9L1358.8 541.2L1361.0 541.5L1363.2 541.8L1365.4 542.1L1367.5 542.3L1369.7 542.6L1371.9 542.9L1374.1 543.2L1376.3 543.5L1378.4 543.8L1380.6 544.1L1382.8 544.3L1385.0 544.6L1387.2 544.9L1389.4 545.2L1391.5 545.5L1393.7 545.7L1395.9 546.0L1398.1 546.3L1400.3 546.6L1402.5 546.9L1404.6 547.1L1406.8 547.4L1409.0 547.7L1411.2 548.0L1413.4 548.2L1415.5 548.5L1417.7 548.8L1419.9 549.0L1422.1 549.3L1424.3 549.6L1426.5 549.9L1428.6 550.1L1430.8 550.4L1433.0 550.6L1435.2 550.9L1437.4 551.2L1439.6 551.4L1441.8 551.7L1443.9 551.9L1446.1 552.2L1448.3 552.4L1450.5 552.7L1452.7 552.9L1454.9 553.2L1457.1 553.4L1459.2 553.7L1461.4 553.9L1463.6 554.2L1465.8 554.4L1468.0 554.6L1470.2 554.9L1472.4 555.1L1474.5 555.4L1476.7 555.6L1478.9 555.8L1481.1 556.0L1483.3 556.3L1485.5 556.5L1487.7 556.7L1489.9 556.9L1492.1 557.2L1494.2 557.4L1496.4 557.6L1498.6 557.8L1500.8 558.0L1503.0 558.3L1505.2 558.5L1507.4 558.7L1509.6 558.9L1511.8 559.1L1513.9 559.3L1516.1 559.5L1518.3 559.7L1520.5 559.9L1522.7 560.1L1524.9 560.3L1527.1 560.5L1529.3 560.7L1531.5 560.9L1533.7 561.1L1535.9 561.3L1538.1 561.5L1540.2 561.7L1542.4 561.9L1544.6 562.0L1546.8 562.2L1549.0 562.4L1551.2 562.6L1553.4 562.8L1555.6 563.0L1557.8 563.1L1560.0 563.3L1562.2 563.5L1564.4 563.6L1566.6 563.8L1568.7 564.0L1570.9 564.2L1573.1 564.3L1575.3 564.5L1577.5 564.7L1579.7 564.8L1581.9 565.0L1584.1 565.1L1586.3 565.3L1588.5 565.5L1590.7 565.6L1592.9 565.8L1595.1 565.9L1597.3 566.1L1599.5 566.3L1601.7 566.4L1603.9 566.6L1606.0 566.7L1608.2 566.9L1610.4 567.0L1612.6 567.1L1614.8 567.3L1617.0 567.4L1619.2 567.6L1621.4 567.7L1623.6 567.9L1625.8 568.0L1628.0 568.1L1630.2 568.3L1632.4 568.4L1634.6 568.5L1636.8 568.7L1639.0 568.8L1641.2 568.9L1643.4 569.1L1645.6 569.2L1647.8 569.3L1650.0 569.4L1652.2 569.6L1654.4 569.7L1656.6 569.8L1658.7 569.9L1660.9 570.1L1663.1 570.2L1665.3 570.3L1667.5 570.4L1669.7 570.5L1671.9 570.6L1674.1 570.7L1676.3 570.9L1678.5 571.0L1680.7 571.1L1682.9 571.2L1685.1 571.3L1687.3 571.4L1689.5 571.5L1691.7 571.6L1693.9 571.7L1696.1 571.8L1698.3 571.9L1700.5 572.0L1702.7 572.1L1704.9 572.2L1707.1 572.3L1709.3 572.4L1711.5 572.5L1713.7 572.6L1715.9 572.7L1718.1 572.8L1720.3 572.9L1722.5 573.0L1724.7 573.1L1726.9 573.2L1729.1 573.3L1731.3 573.4L1733.5 573.4L1735.7 573.5L1737.9 573.6L1740.1 573.7L1742.3 573.8L1744.5 573.9L1746.7 574.0L1748.9 574.0L1751.1 574.1L1753.2 574.2L1755.4 574.3L1757.6 574.4L1759.8 574.4L1762.0 574.5L1764.2 574.6L1766.4 574.7L1768.6 574.7L1770.8 574.8L1773.0 574.9L1775.2 575.0L1777.4 575.0L1779.6 575.1L1781.8 575.2L1784.0 575.2L1786.2 575.3L1788.4 575.4L1790.6 575.4L1792.8 575.5L1795.0 575.6L1797.2 575.6L1799.4 575.7L1801.6 575.8L1803.8 575.8L1806.0 575.9L1808.2 575.9L1810.4 576.0L1812.6 576.1L1814.8 576.1L1817.0 576.2L1819.2 576.2L1821.4 576.3L1823.6 576.4L1825.8 576.4L1828.0 576.5L1830.2 576.5L1832.4 576.6L1834.6 576.6L1836.8 576.7L1839.0 576.7L1841.2 576.8L1843.4 576.8L1845.6 576.9L1847.8 576.9L1850.0 577.0L1852.2 577.0L1854.4 577.1L1856.6 577.1L1858.8 577.2L1861.0 577.2L1863.2 577.3L1865.4 577.3L1867.6 577.4L1869.8 577.4L1872.0 577.5L1874.2 577.5L1876.4 577.5L1878.6 577.6L1880.8 577.6L1883.0 577.7L1885.2 577.7L1887.4 577.8L1889.6 577.8L1891.8 577.8L1894.0 577.9L1896.2 577.9L1898.4 577.9L1900.6 578.0L1902.8 578.0L1905.0 578.1L1907.2 578.1L1909.4 578.1L1911.6 578.2L1913.8 578.2L1916.0 578.2L1918.2 578.3L1920.4 578.3L1922.6 578.3L1924.8 578.4L1927.0 578.4L1929.2 578.5L1931.4 578.5L1933.6 578.5L1935.8 578.6L1938.0 578.6L1940.2 578.6L1942.4 578.6L1944.6 578.7L1946.8 578.7L1949.0 578.7L1951.2 578.8L1953.4 578.8L1955.6 578.8L1957.8 578.9L1960.0 578.9L1962.2 578.9L1964.4 579.0L1966.6 579.0L1968.8 579.0L1971.0 579.0L1973.2 579.1L1975.4 579.1L1977.6 579.1L1979.8 579.1L1982.0 579.2L1984.2 579.2L1986.4 579.2L1988.6 579.3L1990.8 579.3L1993.0 579.3L1995.2 579.3L1997.4 579.4L1999.6 579.4L2001.8 579.4L2004.0 579.4L2006.2 579.5L2008.4 579.5L2010.6 579.5L2012.8 579.5L2015.0 579.6L2017.2 579.6L2019.4 579.6L2021.6 579.6L2023.8 579.7L2026.0 579.7L2028.2 579.7L2030.4 579.7L2032.6 579.8L2034.8 579.8L2037.0 579.8L2039.2 579.8L2041.4 579.9L2043.6 579.9L2045.8 579.9L2048.0 580.0L2050.2 580.0L2052.4 580.0L2054.6 580.0L2056.8 580.1L2059.0 580.1L2061.2 580.1L2063.4 580.1L2065.6 580.2L2067.8 580.2L2070.0 580.2L2072.2 580.2L2074.4 580.3L2076.6 580.3L2078.8 580.3L2081.0 580.3L2083.2 580.4L2085.4 580.4L2087.6 580.4L2089.8 580.4L2092.0 580.5L2094.2 580.5L2096.4 580.5L2098.6 580.5L2100.8 580.6L2103.0 580.6L2105.2 580.6L2107.4 580.6L2109.6 580.7L2110.0 580.7" stroke="#008080" stroke-width="12.0"/>
</g>
<rect x="221" y="60" width="3" height="1516" fill="#000" opacity="0.55"/>
<rect x="2102" y="60" width="3" height="1516" fill="#000" opacity="0.7"/>
<g filter="url(#tsoft)">
<text x="0" y="0" font-size="97.00" text-anchor="middle" xml:space="preserve" font-family="'Liberation Sans', sans-serif" font-weight="bold" fill="#000" transform="translate(429.50 1683.20) scale(1.0000 1.0250)">10</text>
<text x="0" y="0" font-size="97.00" text-anchor="middle" xml:space="preserve" font-family="'Liberation Sans', sans-serif" font-weight="bold" fill="#000" transform="translate(848.00 1683.20) scale(1.0000 1.0250)">20</text>
<text x="0" y="0" font-size="97.00" text-anchor="middle" xml:space="preserve" font-family="'Liberation Sans', sans-serif" font-weight="bold" fill="#000" transform="translate(1265.00 1683.20) scale(1.0000 1.0250)">30</text>
<text x="0" y="0" font-size="97.00" text-anchor="middle" xml:space="preserve" font-family="'Liberation Sans', sans-serif" font-weight="bold" fill="#000" transform="translate(1682.50 1683.20) scale(1.0000 1.0250)">40</text>
<text x="0" y="0" font-size="97.00" text-anchor="middle" xml:space="preserve" font-family="'Liberation Sans', sans-serif" font-weight="bold" fill="#000" transform="translate(2100.50 1683.20) scale(1.0000 1.0250)">50</text>
<text x="0" y="0" font-size="90.00" text-anchor="start" xml:space="preserve" font-family="'Liberation Sans', sans-serif" font-weight="bold" fill="#000" transform="translate(1953.50 517.80) scale(1.0000 1.0200)">P0</text>
<text x="0" y="0" font-size="90.00" text-anchor="start" xml:space="preserve" font-family="'Liberation Sans', sans-serif" font-weight="bold" fill="#000" transform="translate(1953.50 771.40) scale(1.0000 1.0200)">P1</text>
<text x="0" y="0" font-size="90.00" text-anchor="start" xml:space="preserve" font-family="'Liberation Sans', sans-serif" font-weight="bold" fill="#000" transform="translate(1953.50 1011.90) scale(1.0000 1.0200)">P2</text>
<text x="0" y="0" font-size="90.00" text-anchor="start" xml:space="preserve" font-family="'Liberation Sans', sans-serif" font-weight="bold" fill="#000" transform="translate(1953.50 1247.00) scale(1.0000 1.0200)">P3</text>
<text x="0" y="0" font-size="90.00" text-anchor="start" xml:space="preserve" font-family="'Liberation Sans', sans-serif" font-weight="bold" fill="#000" transform="translate(1881.30 1469.70) scale(1.0150 1.0200)">ZnO</text>
<text x="0" y="0" font-size="117.50" text-anchor="start" xml:space="preserve" font-family="'Liberation Sans', sans-serif" font-weight="bold" fill="#000" transform="translate(716.50 1826.00) scale(1.0000 1.0120)" style="word-spacing:1.50px">2-theta  (degree)</text>
<text x="0" y="0" font-size="125.00" text-anchor="middle" xml:space="preserve" font-family="'Liberation Sans', sans-serif" font-weight="bold" fill="#000" transform="translate(138.00 817.00) rotate(-90)">Intensity  (arb. units)</text>
</g>
</svg>
</body></html>
